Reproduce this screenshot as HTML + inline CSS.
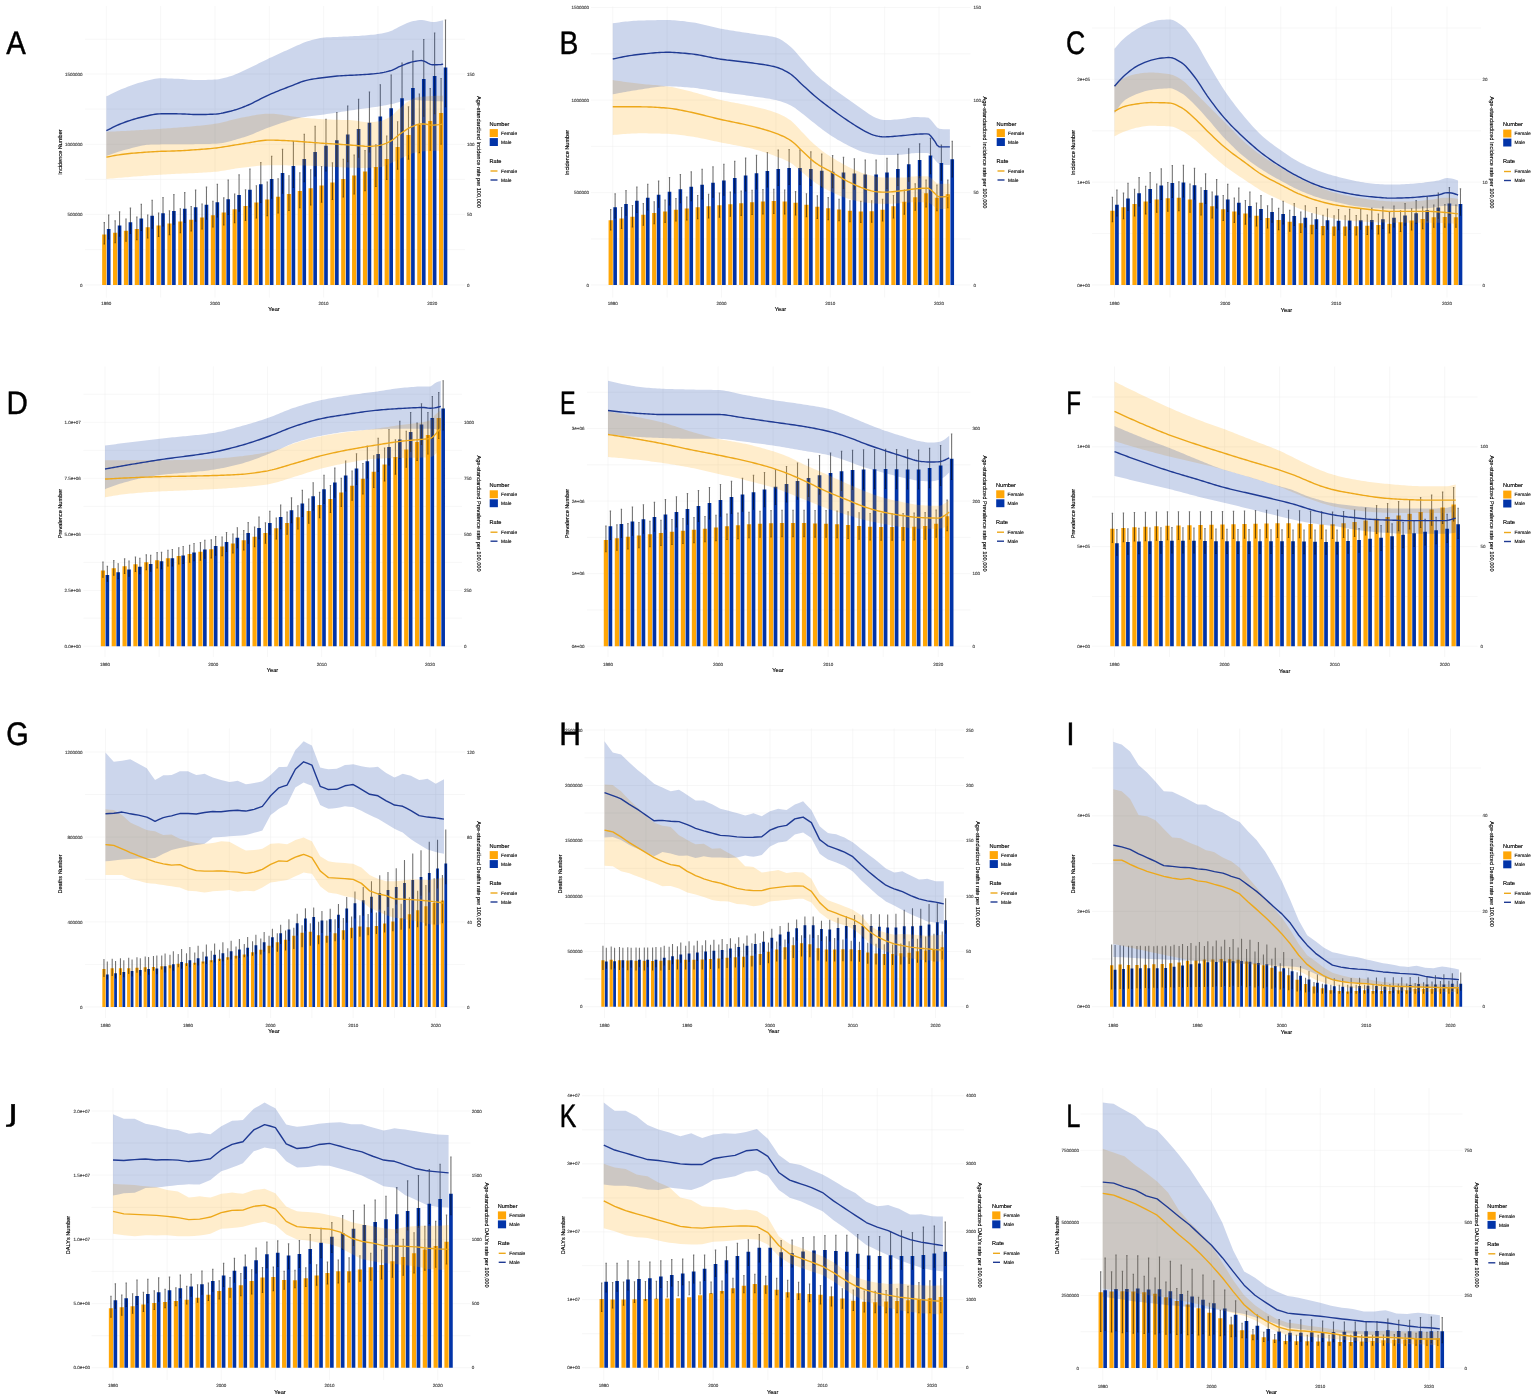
<!DOCTYPE html>
<html lang="en"><head><meta charset="utf-8"><title>Figure</title>
<style>html,body{margin:0;padding:0;background:#fff}body{width:1535px;height:1400px;overflow:hidden}svg{display:block}</style></head>
<body>
<svg width="1535" height="1400" viewBox="0 0 1535 1400" font-family='"Liberation Sans", Arial, sans-serif' text-rendering="geometricPrecision">
<!-- panel A -->
<g><g stroke="#efefef" stroke-width="0.5" fill="none"><line x1="85" x2="465" y1="284.94" y2="284.94"/><line x1="85" x2="465" y1="249.66" y2="249.66"/><line x1="85" x2="465" y1="214.39" y2="214.39"/><line x1="85" x2="465" y1="179.37" y2="179.37"/><line x1="85" x2="465" y1="144.34" y2="144.34"/><line x1="85" x2="465" y1="109.07" y2="109.07"/><line x1="85" x2="465" y1="74.05" y2="74.05"/><line x1="85" x2="465" y1="39.28" y2="39.28"/><line x1="106.34" x2="106.34" y1="6" y2="297.5"/><line x1="160.66" x2="160.66" y1="6" y2="297.5"/><line x1="214.98" x2="214.98" y1="6" y2="297.5"/><line x1="269.3" x2="269.3" y1="6" y2="297.5"/><line x1="323.63" x2="323.63" y1="6" y2="297.5"/><line x1="377.95" x2="377.95" y1="6" y2="297.5"/><line x1="432.27" x2="432.27" y1="6" y2="297.5"/></g>
<path d="M102.15 284.94h4.24V234.4h-4.24zM113.02 284.94h4.24V232.65h-4.24zM123.88 284.94h4.24V230.65h-4.24zM134.75 284.94h4.24V228.9h-4.24zM145.61 284.94h4.24V227.15h-4.24zM156.48 284.94h4.24V225.4h-4.24zM167.34 284.94h4.24V223.4h-4.24zM178.2 284.94h4.24V221.39h-4.24zM189.07 284.94h4.24V219.64h-4.24zM199.93 284.94h4.24V217.39h-4.24zM210.8 284.94h4.24V215.14h-4.24zM221.66 284.94h4.24V212.39h-4.24zM232.53 284.94h4.24V209.14h-4.24zM243.39 284.94h4.24V205.88h-4.24zM254.26 284.94h4.24V202.38h-4.24zM265.12 284.94h4.24V199.38h-4.24zM275.99 284.94h4.24V196.63h-4.24zM286.85 284.94h4.24V193.88h-4.24zM297.72 284.94h4.24V191.12h-4.24zM308.58 284.94h4.24V188.37h-4.24zM319.44 284.94h4.24V185.62h-4.24zM330.31 284.94h4.24V182.62h-4.24zM341.17 284.94h4.24V179.12h-4.24zM352.04 284.94h4.24V175.61h-4.24zM362.9 284.94h4.24V171.61h-4.24zM373.77 284.94h4.24V167.11h-4.24zM384.63 284.94h4.24V159.1h-4.24zM395.5 284.94h4.24V147.1h-4.24zM406.36 284.94h4.24V135.09h-4.24zM417.23 284.94h4.24V125.08h-4.24zM428.09 284.94h4.24V121.08h-4.24zM438.95 284.94h4.24V113.07h-4.24z" fill="#FFA607"/>
<path d="M106.88 284.94h3.64V228.9h-3.64zM117.74 284.94h3.64V225.4h-3.64zM128.61 284.94h3.64V222.14h-3.64zM139.47 284.94h3.64V218.39h-3.64zM150.34 284.94h3.64V215.64h-3.64zM161.2 284.94h3.64V213.14h-3.64zM172.07 284.94h3.64V210.89h-3.64zM182.93 284.94h3.64V208.64h-3.64zM193.8 284.94h3.64V207.13h-3.64zM204.66 284.94h3.64V204.63h-3.64zM215.52 284.94h3.64V202.13h-3.64zM226.39 284.94h3.64V199.13h-3.64zM237.25 284.94h3.64V194.88h-3.64zM248.12 284.94h3.64V189.87h-3.64zM258.98 284.94h3.64V184.37h-3.64zM269.85 284.94h3.64V179.12h-3.64zM280.71 284.94h3.64V173.11h-3.64zM291.58 284.94h3.64V166.11h-3.64zM302.44 284.94h3.64V159.1h-3.64zM313.31 284.94h3.64V152.1h-3.64zM324.17 284.94h3.64V145.84h-3.64zM335.03 284.94h3.64V140.34h-3.64zM345.9 284.94h3.64V134.59h-3.64zM356.76 284.94h3.64V129.08h-3.64zM367.63 284.94h3.64V122.83h-3.64zM378.49 284.94h3.64V116.58h-3.64zM389.36 284.94h3.64V108.32h-3.64zM400.22 284.94h3.64V98.31h-3.64zM411.09 284.94h3.64V88.06h-3.64zM421.95 284.94h3.64V79.05h-3.64zM432.82 284.94h3.64V76.05h-3.64zM443.68 284.94h3.64V67.54h-3.64z" fill="#0234A8"/>
<path d="M104.27 222.64V243.91M103.58 222.64h1.39M103.58 243.91h1.39M115.14 220.92V242.6M114.44 220.92h1.39M114.44 242.6h1.39M126 219.05V241.16M125.31 219.05h1.39M125.31 241.16h1.39M136.87 217.09V239.63M136.17 217.09h1.39M136.17 239.63h1.39M147.73 215.06V238.03M147.04 215.06h1.39M147.04 238.03h1.39M158.59 212.96V236.34M157.9 212.96h1.39M157.9 236.34h1.39M169.46 210.84V234.59M168.77 210.84h1.39M168.77 234.59h1.39M180.32 208.69V232.77M179.63 208.69h1.39M179.63 232.77h1.39M191.19 206.43V230.89M190.5 206.43h1.39M190.5 230.89h1.39M202.05 203.97V228.95M201.36 203.97h1.39M201.36 228.95h1.39M212.92 201.22V226.96M212.22 201.22h1.39M212.22 226.96h1.39M223.78 197.92V224.89M223.09 197.92h1.39M223.09 224.89h1.39M234.65 194.02V222.71M233.95 194.02h1.39M233.95 222.71h1.39M245.51 189.85V220.42M244.82 189.85h1.39M244.82 220.42h1.39M256.38 185.72V218.05M255.68 185.72h1.39M255.68 218.05h1.39M267.24 181.97V215.58M266.55 181.97h1.39M266.55 215.58h1.39M278.1 178.72V213.03M277.41 178.72h1.39M277.41 213.03h1.39M288.97 175.75V210.42M288.28 175.75h1.39M288.28 210.42h1.39M299.83 172.85V207.73M299.14 172.85h1.39M299.14 207.73h1.39M310.7 169.82V204.99M310.01 169.82h1.39M310.01 204.99h1.39M321.56 166.45V202.2M320.87 166.45h1.39M320.87 202.2h1.39M332.43 162.88V199.5M331.73 162.88h1.39M331.73 199.5h1.39M343.29 159.21V196.86M342.6 159.21h1.39M342.6 196.86h1.39M354.16 155.17V194M353.46 155.17h1.39M353.46 194h1.39M365.02 150.44V190.63M364.33 150.44h1.39M364.33 190.63h1.39M375.89 144.73V186.47M375.19 144.73h1.39M375.19 186.47h1.39M386.75 135.97V179.33M386.06 135.97h1.39M386.06 179.33h1.39M397.61 121.7V169.14M396.92 121.7h1.39M396.92 169.14h1.39M408.48 106.84V159.17M407.79 106.84h1.39M407.79 159.17h1.39M419.34 94.03V152.7M418.65 94.03h1.39M418.65 152.7h1.39M430.21 88.59V150.24M429.52 88.59h1.39M429.52 150.24h1.39M441.07 78.45V144.1M440.38 78.45h1.39M440.38 144.1h1.39M108.69 215.14V238.99M108 215.14h1.39M108 238.99h1.39M119.56 211.89V236.11M118.87 211.89h1.39M118.87 236.11h1.39M130.42 208.14V233.45M129.73 208.14h1.39M129.73 233.45h1.39M141.29 204.38V230.37M140.59 204.38h1.39M140.59 230.37h1.39M152.15 200.38V228.11M151.46 200.38h1.39M151.46 228.11h1.39M163.02 197.63V226.06M162.32 197.63h1.39M162.32 226.06h1.39M173.88 194.63V224.22M173.19 194.63h1.39M173.19 224.22h1.39M184.75 192.63V222.37M184.05 192.63h1.39M184.05 222.37h1.39M195.61 190.12V221.14M194.92 190.12h1.39M194.92 221.14h1.39M206.47 187.12V219.09M205.78 187.12h1.39M205.78 219.09h1.39M217.34 184.37V217.04M216.65 184.37h1.39M216.65 217.04h1.39M228.2 180.12V214.57M227.51 180.12h1.39M227.51 214.57h1.39M239.07 174.86V211.09M238.38 174.86h1.39M238.38 211.09h1.39M249.93 169.11V206.98M249.24 169.11h1.39M249.24 206.98h1.39M260.8 162.61V202.47M260.1 162.61h1.39M260.1 202.47h1.39M271.66 156.35V198.16M270.97 156.35h1.39M270.97 198.16h1.39M282.53 149.35V193.24M281.83 149.35h1.39M281.83 193.24h1.39M293.39 141.59V187.5M292.7 141.59h1.39M292.7 187.5h1.39M304.26 134.34V181.75M303.56 134.34h1.39M303.56 181.75h1.39M315.12 126.33V176.01M314.43 126.33h1.39M314.43 176.01h1.39M325.98 119.33V170.88M325.29 119.33h1.39M325.29 170.88h1.39M336.85 112.57V166.37M336.16 112.57h1.39M336.16 166.37h1.39M347.71 106.07V161.65M347.02 106.07h1.39M347.02 161.65h1.39M358.58 99.31V157.14M357.89 99.31h1.39M357.89 157.14h1.39M369.44 92.06V152.01M368.75 92.06h1.39M368.75 152.01h1.39M380.31 84.81V146.88M379.61 84.81h1.39M379.61 146.88h1.39M391.17 75.05V140.11M390.48 75.05h1.39M390.48 140.11h1.39M402.04 63.04V131.91M401.34 63.04h1.39M401.34 131.91h1.39M412.9 51.03V123.5M412.21 51.03h1.39M412.21 123.5h1.39M423.77 39.53V116.11M423.07 39.53h1.39M423.07 116.11h1.39M434.63 33.02V113.65M433.94 33.02h1.39M433.94 113.65h1.39M445.5 20.01V106.67M444.8 20.01h1.39M444.8 106.67h1.39" stroke="#000" stroke-width="1.1" fill="none" opacity="0.55"/>
<path d="M106.34 131.7 L108.45 131.63 L110.57 131.55 L112.69 131.47 L114.81 131.38 L116.93 131.29 L119.05 131.2 L121.16 131.1 L123.28 131 L125.4 130.9 L127.52 130.79 L129.64 130.68 L131.75 130.57 L133.87 130.45 L135.99 130.34 L138.11 130.21 L140.23 130.09 L142.35 129.97 L144.46 129.84 L146.58 129.71 L148.7 129.57 L150.82 129.44 L152.94 129.3 L155.06 129.16 L157.17 129.02 L159.29 128.88 L161.41 128.74 L163.53 128.59 L165.65 128.45 L167.76 128.3 L169.88 128.15 L172 128 L174.12 127.85 L176.24 127.69 L178.36 127.53 L180.47 127.36 L182.59 127.19 L184.71 127.02 L186.83 126.84 L188.95 126.65 L191.07 126.46 L193.18 126.26 L195.3 126.06 L197.42 125.85 L199.54 125.63 L201.66 125.4 L203.78 125.16 L205.89 124.92 L208.01 124.67 L210.13 124.4 L212.25 124.13 L214.37 123.85 L216.48 123.53 L218.6 123.15 L220.72 122.71 L222.84 122.23 L224.96 121.72 L227.08 121.18 L229.19 120.62 L231.31 120.06 L233.43 119.51 L235.55 118.97 L237.67 118.46 L239.79 117.98 L241.9 117.55 L244.02 117.17 L246.14 116.79 L248.26 116.4 L250.38 115.99 L252.49 115.6 L254.61 115.22 L256.73 114.86 L258.85 114.53 L260.97 114.25 L263.09 114.01 L265.2 113.84 L267.32 113.73 L269.44 113.7 L271.56 113.75 L273.68 113.87 L275.8 114.04 L277.91 114.27 L280.03 114.53 L282.15 114.83 L284.27 115.15 L286.39 115.49 L288.51 115.84 L290.62 116.18 L292.74 116.51 L294.86 116.82 L296.98 117.1 L299.1 117.34 L301.21 117.55 L303.33 117.73 L305.45 117.91 L307.57 118.09 L309.69 118.26 L311.81 118.43 L313.92 118.59 L316.04 118.75 L318.16 118.9 L320.28 119.04 L322.4 119.17 L324.52 119.29 L326.63 119.4 L328.75 119.5 L330.87 119.59 L332.99 119.67 L335.11 119.73 L337.22 119.79 L339.34 119.83 L341.46 119.88 L343.58 119.92 L345.7 119.97 L347.82 120.04 L349.93 120.11 L352.05 120.2 L354.17 120.38 L356.29 120.67 L358.41 121.03 L360.53 121.41 L362.64 121.75 L364.76 122.03 L366.88 122.18 L369 122.19 L371.12 122.1 L373.24 121.95 L375.35 121.75 L377.47 121.5 L379.59 121.21 L381.71 120.71 L383.83 119.99 L385.94 119.09 L388.06 118.07 L390.18 116.84 L392.3 115.17 L394.42 113.23 L396.54 111.21 L398.65 109.29 L400.77 107.48 L402.89 105.59 L405.01 103.74 L407.13 102.07 L409.25 100.69 L411.36 99.55 L413.48 98.53 L415.6 97.76 L417.72 97.32 L419.84 97 L421.95 96.76 L424.07 96.57 L426.19 96.41 L428.31 96.26 L430.43 96.12 L432.55 95.99 L434.66 95.87 L436.78 95.76 L438.9 95.68 L441.02 95.63 L443.14 95.6 L443.14 150.7 L441.02 150.71 L438.9 150.74 L436.78 150.78 L434.66 150.83 L432.55 150.89 L430.43 150.97 L428.31 151.05 L426.19 151.14 L424.07 151.26 L421.95 151.47 L419.84 151.78 L417.72 152.16 L415.6 152.6 L413.48 153.11 L411.36 153.81 L409.25 154.67 L407.13 155.62 L405.01 156.62 L402.89 157.61 L400.77 158.55 L398.65 159.54 L396.54 160.57 L394.42 161.61 L392.3 162.61 L390.18 163.55 L388.06 164.41 L385.94 165.32 L383.83 166.22 L381.71 166.95 L379.59 167.37 L377.47 167.5 L375.35 167.6 L373.24 167.69 L371.12 167.77 L369 167.82 L366.88 167.87 L364.76 167.89 L362.64 167.9 L360.53 167.89 L358.41 167.87 L356.29 167.84 L354.17 167.79 L352.05 167.74 L349.93 167.67 L347.82 167.59 L345.7 167.51 L343.58 167.41 L341.46 167.32 L339.34 167.21 L337.22 167.1 L335.11 166.99 L332.99 166.88 L330.87 166.76 L328.75 166.64 L326.63 166.53 L324.52 166.41 L322.4 166.3 L320.28 166.19 L318.16 166.08 L316.04 165.98 L313.92 165.89 L311.81 165.8 L309.69 165.73 L307.57 165.66 L305.45 165.6 L303.33 165.55 L301.21 165.51 L299.1 165.49 L296.98 165.47 L294.86 165.45 L292.74 165.43 L290.62 165.41 L288.51 165.39 L286.39 165.37 L284.27 165.36 L282.15 165.34 L280.03 165.33 L277.91 165.32 L275.8 165.31 L273.68 165.31 L271.56 165.3 L269.44 165.3 L267.32 165.32 L265.2 165.38 L263.09 165.48 L260.97 165.62 L258.85 165.8 L256.73 165.99 L254.61 166.21 L252.49 166.44 L250.38 166.69 L248.26 166.94 L246.14 167.18 L244.02 167.42 L241.9 167.66 L239.79 167.94 L237.67 168.26 L235.55 168.6 L233.43 168.96 L231.31 169.33 L229.19 169.71 L227.08 170.08 L224.96 170.44 L222.84 170.79 L220.72 171.11 L218.6 171.39 L216.48 171.63 L214.37 171.83 L212.25 172 L210.13 172.15 L208.01 172.3 L205.89 172.44 L203.78 172.57 L201.66 172.69 L199.54 172.81 L197.42 172.92 L195.3 173.03 L193.18 173.13 L191.07 173.23 L188.95 173.32 L186.83 173.41 L184.71 173.5 L182.59 173.59 L180.47 173.69 L178.36 173.78 L176.24 173.87 L174.12 173.97 L172 174.07 L169.88 174.17 L167.76 174.28 L165.65 174.39 L163.53 174.51 L161.41 174.64 L159.29 174.78 L157.17 174.92 L155.06 175.06 L152.94 175.2 L150.82 175.35 L148.7 175.5 L146.58 175.65 L144.46 175.81 L142.35 175.97 L140.23 176.13 L138.11 176.29 L135.99 176.46 L133.87 176.62 L131.75 176.79 L129.64 176.97 L127.52 177.14 L125.4 177.32 L123.28 177.5 L121.16 177.68 L119.05 177.86 L116.93 178.05 L114.81 178.24 L112.69 178.43 L110.57 178.62 L108.45 178.81 L106.34 179z" fill="#FFA500" fill-opacity="0.2"/>
<path d="M106.34 96.31 L108.45 95.42 L110.57 94.33 L112.69 93.27 L114.81 92.24 L116.93 91.24 L119.05 90.29 L121.16 89.37 L123.28 88.5 L125.4 87.64 L127.52 86.79 L129.64 85.97 L131.75 85.18 L133.87 84.44 L135.99 83.73 L138.11 83.09 L140.23 82.5 L142.35 81.93 L144.46 81.34 L146.58 80.75 L148.7 80.18 L150.82 79.65 L152.94 79.18 L155.06 78.8 L157.17 78.51 L159.29 78.34 L161.41 78.3 L163.53 78.32 L165.65 78.36 L167.76 78.42 L169.88 78.49 L172 78.57 L174.12 78.66 L176.24 78.75 L178.36 78.84 L180.47 78.96 L182.59 79.11 L184.71 79.28 L186.83 79.46 L188.95 79.64 L191.07 79.8 L193.18 79.93 L195.3 80.02 L197.42 80.05 L199.54 80.04 L201.66 80.02 L203.78 79.98 L205.89 79.93 L208.01 79.86 L210.13 79.78 L212.25 79.69 L214.37 79.59 L216.48 79.45 L218.6 79.17 L220.72 78.78 L222.84 78.3 L224.96 77.75 L227.08 77.16 L229.19 76.56 L231.31 75.93 L233.43 75.19 L235.55 74.36 L237.67 73.45 L239.79 72.49 L241.9 71.51 L244.02 70.53 L246.14 69.58 L248.26 68.59 L250.38 67.58 L252.49 66.54 L254.61 65.49 L256.73 64.43 L258.85 63.35 L260.97 62.28 L263.09 61.22 L265.2 60.17 L267.32 59.13 L269.44 58.12 L271.56 57.13 L273.68 56.15 L275.8 55.18 L277.91 54.22 L280.03 53.26 L282.15 52.31 L284.27 51.37 L286.39 50.43 L288.51 49.5 L290.62 48.56 L292.74 47.6 L294.86 46.61 L296.98 45.61 L299.1 44.63 L301.21 43.68 L303.33 42.8 L305.45 42 L307.57 41.3 L309.69 40.66 L311.81 40.04 L313.92 39.44 L316.04 38.88 L318.16 38.39 L320.28 37.98 L322.4 37.67 L324.52 37.48 L326.63 37.34 L328.75 37.23 L330.87 37.14 L332.99 37.05 L335.11 36.98 L337.22 36.9 L339.34 36.81 L341.46 36.71 L343.58 36.62 L345.7 36.52 L347.82 36.43 L349.93 36.33 L352.05 36.23 L354.17 36.12 L356.29 36.01 L358.41 35.89 L360.53 35.75 L362.64 35.6 L364.76 35.44 L366.88 35.27 L369 35.08 L371.12 34.87 L373.24 34.65 L375.35 34.4 L377.47 34.12 L379.59 33.81 L381.71 33.44 L383.83 33 L385.94 32.49 L388.06 31.91 L390.18 31.27 L392.3 30.44 L394.42 29.36 L396.54 28.18 L398.65 27.02 L400.77 26.01 L402.89 25.03 L405.01 24.04 L407.13 23.1 L409.25 22.26 L411.36 21.59 L413.48 21.1 L415.6 20.68 L417.72 20.32 L419.84 20.08 L421.95 20.02 L424.07 20.29 L426.19 20.77 L428.31 21.33 L430.43 21.8 L432.55 22.01 L434.66 21.95 L436.78 21.72 L438.9 21.34 L441.02 20.81 L443.14 20.14 L443.14 101.47 L441.02 101.37 L438.9 101.27 L436.78 101.17 L434.66 101.06 L432.55 100.96 L430.43 100.86 L428.31 100.76 L426.19 100.66 L424.07 100.55 L421.95 100.42 L419.84 100.29 L417.72 100.17 L415.6 100.11 L413.48 100.11 L411.36 100.2 L409.25 100.35 L407.13 100.55 L405.01 100.78 L402.89 101.07 L400.77 101.56 L398.65 102.19 L396.54 102.86 L394.42 103.45 L392.3 103.93 L390.18 104.37 L388.06 104.79 L385.94 105.19 L383.83 105.58 L381.71 105.95 L379.59 106.3 L377.47 106.65 L375.35 106.97 L373.24 107.29 L371.12 107.59 L369 107.88 L366.88 108.17 L364.76 108.45 L362.64 108.74 L360.53 109.02 L358.41 109.3 L356.29 109.59 L354.17 109.89 L352.05 110.19 L349.93 110.51 L347.82 110.83 L345.7 111.15 L343.58 111.48 L341.46 111.82 L339.34 112.15 L337.22 112.48 L335.11 112.82 L332.99 113.15 L330.87 113.47 L328.75 113.79 L326.63 114.11 L324.52 114.41 L322.4 114.7 L320.28 114.97 L318.16 115.23 L316.04 115.49 L313.92 115.74 L311.81 116.01 L309.69 116.29 L307.57 116.58 L305.45 116.89 L303.33 117.23 L301.21 117.6 L299.1 118.02 L296.98 118.48 L294.86 119 L292.74 119.56 L290.62 120.16 L288.51 120.79 L286.39 121.45 L284.27 122.14 L282.15 122.85 L280.03 123.58 L277.91 124.31 L275.8 125.06 L273.68 125.8 L271.56 126.55 L269.44 127.28 L267.32 128.03 L265.2 128.84 L263.09 129.69 L260.97 130.57 L258.85 131.46 L256.73 132.36 L254.61 133.26 L252.49 134.13 L250.38 134.98 L248.26 135.78 L246.14 136.52 L244.02 137.19 L241.9 137.8 L239.79 138.43 L237.67 139.06 L235.55 139.69 L233.43 140.31 L231.31 140.91 L229.19 141.47 L227.08 142 L224.96 142.48 L222.84 142.9 L220.72 143.25 L218.6 143.53 L216.48 143.72 L214.37 143.81 L212.25 143.86 L210.13 143.91 L208.01 143.95 L205.89 143.99 L203.78 144.02 L201.66 144.05 L199.54 144.07 L197.42 144.09 L195.3 144.11 L193.18 144.13 L191.07 144.14 L188.95 144.16 L186.83 144.17 L184.71 144.18 L182.59 144.19 L180.47 144.2 L178.36 144.21 L176.24 144.23 L174.12 144.24 L172 144.25 L169.88 144.27 L167.76 144.29 L165.65 144.31 L163.53 144.34 L161.41 144.37 L159.29 144.4 L157.17 144.44 L155.06 144.48 L152.94 144.53 L150.82 144.58 L148.7 144.66 L146.58 144.85 L144.46 145.14 L142.35 145.52 L140.23 145.96 L138.11 146.46 L135.99 147 L133.87 147.56 L131.75 148.12 L129.64 148.67 L127.52 149.2 L125.4 149.75 L123.28 150.34 L121.16 150.96 L119.05 151.61 L116.93 152.29 L114.81 152.99 L112.69 153.71 L110.57 154.46 L108.45 155.23 L106.34 156z" fill="#0033A0" fill-opacity="0.2"/>
<path d="M106.34 157.1 L108.45 156.75 L110.57 156.33 L112.69 155.92 L114.81 155.53 L116.93 155.17 L119.05 154.84 L121.16 154.53 L123.28 154.25 L125.4 154 L127.52 153.76 L129.64 153.53 L131.75 153.31 L133.87 153.11 L135.99 152.93 L138.11 152.75 L140.23 152.58 L142.35 152.43 L144.46 152.27 L146.58 152.13 L148.7 151.99 L150.82 151.86 L152.94 151.73 L155.06 151.61 L157.17 151.51 L159.29 151.41 L161.41 151.32 L163.53 151.25 L165.65 151.19 L167.76 151.13 L169.88 151.08 L172 151.03 L174.12 150.97 L176.24 150.9 L178.36 150.82 L180.47 150.72 L182.59 150.61 L184.71 150.48 L186.83 150.35 L188.95 150.21 L191.07 150.07 L193.18 149.92 L195.3 149.76 L197.42 149.61 L199.54 149.45 L201.66 149.3 L203.78 149.13 L205.89 148.96 L208.01 148.79 L210.13 148.6 L212.25 148.39 L214.37 148.17 L216.48 147.93 L218.6 147.66 L220.72 147.35 L222.84 147.02 L224.96 146.68 L227.08 146.33 L229.19 145.99 L231.31 145.65 L233.43 145.3 L235.55 144.93 L237.67 144.57 L239.79 144.2 L241.9 143.85 L244.02 143.51 L246.14 143.18 L248.26 142.84 L250.38 142.47 L252.49 142.1 L254.61 141.72 L256.73 141.36 L258.85 141.03 L260.97 140.73 L263.09 140.47 L265.2 140.27 L267.32 140.14 L269.44 140.09 L271.56 140.1 L273.68 140.14 L275.8 140.19 L277.91 140.26 L280.03 140.35 L282.15 140.44 L284.27 140.55 L286.39 140.65 L288.51 140.76 L290.62 140.87 L292.74 140.98 L294.86 141.12 L296.98 141.27 L299.1 141.43 L301.21 141.59 L303.33 141.76 L305.45 141.93 L307.57 142.09 L309.69 142.25 L311.81 142.41 L313.92 142.58 L316.04 142.75 L318.16 142.92 L320.28 143.08 L322.4 143.24 L324.52 143.38 L326.63 143.52 L328.75 143.65 L330.87 143.78 L332.99 143.9 L335.11 144.03 L337.22 144.15 L339.34 144.29 L341.46 144.43 L343.58 144.58 L345.7 144.74 L347.82 144.9 L349.93 145.07 L352.05 145.24 L354.17 145.4 L356.29 145.56 L358.41 145.72 L360.53 145.87 L362.64 146.05 L364.76 146.23 L366.88 146.33 L369 146.33 L371.12 146.25 L373.24 146.1 L375.35 145.91 L377.47 145.68 L379.59 145.38 L381.71 144.86 L383.83 144.16 L385.94 143.31 L388.06 142.36 L390.18 141.35 L392.3 140.08 L394.42 138.46 L396.54 136.69 L398.65 134.96 L400.77 133.45 L402.89 132.01 L405.01 130.58 L407.13 129.21 L409.25 127.96 L411.36 126.89 L413.48 126.03 L415.6 125.2 L417.72 124.47 L419.84 123.96 L421.95 123.84 L424.07 124 L426.19 124.31 L428.31 124.66 L430.43 124.95 L432.55 125.08 L434.66 125.04 L436.78 124.9 L438.9 124.66 L441.02 124.33 L443.14 123.91" stroke="#EDA81A" stroke-width="1.4" fill="none" stroke-linejoin="round"/>
<path d="M106.34 130.59 L108.45 129.66 L110.57 128.53 L112.69 127.45 L114.81 126.41 L116.93 125.42 L119.05 124.49 L121.16 123.61 L123.28 122.79 L125.4 122.01 L127.52 121.26 L129.64 120.54 L131.75 119.85 L133.87 119.21 L135.99 118.6 L138.11 118.04 L140.23 117.53 L142.35 117.02 L144.46 116.5 L146.58 115.98 L148.7 115.48 L150.82 115.01 L152.94 114.6 L155.06 114.26 L157.17 114.01 L159.29 113.86 L161.41 113.82 L163.53 113.82 L165.65 113.82 L167.76 113.82 L169.88 113.82 L172 113.82 L174.12 113.82 L176.24 113.82 L178.36 113.83 L180.47 113.87 L182.59 113.94 L184.71 114.04 L186.83 114.16 L188.95 114.28 L191.07 114.39 L193.18 114.48 L195.3 114.55 L197.42 114.57 L199.54 114.57 L201.66 114.54 L203.78 114.5 L205.89 114.45 L208.01 114.38 L210.13 114.3 L212.25 114.21 L214.37 114.11 L216.48 113.98 L218.6 113.74 L220.72 113.4 L222.84 113 L224.96 112.54 L227.08 112.04 L229.19 111.54 L231.31 111.02 L233.43 110.44 L235.55 109.79 L237.67 109.08 L239.79 108.33 L241.9 107.54 L244.02 106.74 L246.14 105.91 L248.26 105.01 L250.38 104.05 L252.49 103.04 L254.61 101.99 L256.73 100.91 L258.85 99.82 L260.97 98.73 L263.09 97.66 L265.2 96.61 L267.32 95.6 L269.44 94.64 L271.56 93.72 L273.68 92.82 L275.8 91.94 L277.91 91.07 L280.03 90.22 L282.15 89.38 L284.27 88.55 L286.39 87.73 L288.51 86.92 L290.62 86.12 L292.74 85.29 L294.86 84.43 L296.98 83.57 L299.1 82.74 L301.21 81.95 L303.33 81.22 L305.45 80.59 L307.57 80.07 L309.69 79.64 L311.81 79.25 L313.92 78.9 L316.04 78.58 L318.16 78.29 L320.28 78.01 L322.4 77.74 L324.52 77.47 L326.63 77.21 L328.75 76.94 L330.87 76.69 L332.99 76.45 L335.11 76.23 L337.22 76.03 L339.34 75.86 L341.46 75.71 L343.58 75.59 L345.7 75.48 L347.82 75.38 L349.93 75.29 L352.05 75.2 L354.17 75.11 L356.29 75.01 L358.41 74.9 L360.53 74.78 L362.64 74.64 L364.76 74.5 L366.88 74.36 L369 74.2 L371.12 74.02 L373.24 73.83 L375.35 73.62 L377.47 73.38 L379.59 73.11 L381.71 72.77 L383.83 72.37 L385.94 71.91 L388.06 71.38 L390.18 70.8 L392.3 70.04 L394.42 69.07 L396.54 68.01 L398.65 66.97 L400.77 66.06 L402.89 65.18 L405.01 64.3 L407.13 63.47 L409.25 62.72 L411.36 62.1 L413.48 61.63 L415.6 61.21 L417.72 60.85 L419.84 60.6 L421.95 60.56 L424.07 61.12 L426.19 62.16 L428.31 63.34 L430.43 64.33 L432.55 64.79 L434.66 64.79 L436.78 64.75 L438.9 64.65 L441.02 64.45 L443.14 64.11" stroke="#1F3A93" stroke-width="1.4" fill="none" stroke-linejoin="round"/>
<g font-size="4.5" fill="#3a3a3a" stroke="#3a3a3a" stroke-width="0.12"><text x="82.5" y="286.56" text-anchor="end">0</text><text x="82.5" y="216.01" text-anchor="end">500000</text><text x="82.5" y="145.96" text-anchor="end">1000000</text><text x="82.5" y="75.67" text-anchor="end">1500000</text><text x="467" y="286.56">0</text><text x="467" y="216.01">50</text><text x="467" y="145.96">100</text><text x="467" y="75.67">150</text><text x="106.34" y="304.5" text-anchor="middle">1990</text><text x="214.98" y="304.5" text-anchor="middle">2000</text><text x="323.63" y="304.5" text-anchor="middle">2010</text><text x="432.27" y="304.5" text-anchor="middle">2020</text></g>
<g stroke="#000" stroke-width="0.14">
<text x="274" y="311" font-size="5.6" text-anchor="middle" fill="#000" font-weight="normal">Year</text>
<text transform="translate(62 152) rotate(-90)" font-size="5.6" text-anchor="middle" fill="#000">Incidence Number</text>
<text transform="translate(476.5 152) rotate(90)" font-size="5.6" text-anchor="middle" fill="#000">Age-standardized Incidence rate per 100,000</text>
<text x="489.5" y="125.5" font-size="5.6" fill="#000">Number</text>
<rect x="489.7" y="129.1" width="8.2" height="7.8999999999999995" fill="#FFA607" stroke="none"/>
<rect x="489.7" y="138.1" width="8.2" height="7.8999999999999995" fill="#0234A8" stroke="none"/>
<text x="501.1" y="134.8" font-size="4.8" fill="#111">Female</text>
<text x="501.1" y="143.9" font-size="4.8" fill="#111">Male</text>
<text x="489.5" y="162.9" font-size="5.6" fill="#000">Rate</text>
<line x1="490.5" x2="497.5" y1="171" y2="171" stroke="#EDA81A" stroke-width="1.4"/>
<line x1="490.5" x2="497.5" y1="180" y2="180" stroke="#1F3A93" stroke-width="1.4"/>
<text x="501.1" y="172.7" font-size="4.8" fill="#111">Female</text>
<text x="501.1" y="181.7" font-size="4.8" fill="#111">Male</text>
</g>
<text transform="translate(6.37 54.07) scale(0.9010 1)" font-size="32.56" fill="#000" stroke="#000" stroke-width="0.45" stroke-linejoin="round">A</text></g>
<!-- panel B -->
<g><g stroke="#efefef" stroke-width="0.5" fill="none"><line x1="591" x2="970.5" y1="284.94" y2="284.94"/><line x1="591" x2="970.5" y1="238.91" y2="238.91"/><line x1="591" x2="970.5" y1="192.63" y2="192.63"/><line x1="591" x2="970.5" y1="146.35" y2="146.35"/><line x1="591" x2="970.5" y1="100.07" y2="100.07"/><line x1="591" x2="970.5" y1="53.79" y2="53.79"/><line x1="591" x2="970.5" y1="7.5" y2="7.5"/><line x1="612.76" x2="612.76" y1="6.5" y2="297.5"/><line x1="667.14" x2="667.14" y1="6.5" y2="297.5"/><line x1="721.51" x2="721.51" y1="6.5" y2="297.5"/><line x1="775.88" x2="775.88" y1="6.5" y2="297.5"/><line x1="830.26" x2="830.26" y1="6.5" y2="297.5"/><line x1="884.63" x2="884.63" y1="6.5" y2="297.5"/><line x1="939" x2="939" y1="6.5" y2="297.5"/></g>
<path d="M608.58 284.94h4.24V220.14h-4.24zM619.45 284.94h4.24V218.39h-4.24zM630.33 284.94h4.24V216.64h-4.24zM641.2 284.94h4.24V214.64h-4.24zM652.08 284.94h4.24V212.89h-4.24zM662.95 284.94h4.24V211.39h-4.24zM673.83 284.94h4.24V209.64h-4.24zM684.7 284.94h4.24V208.39h-4.24zM695.57 284.94h4.24V207.13h-4.24zM706.45 284.94h4.24V206.13h-4.24zM717.32 284.94h4.24V205.13h-4.24zM728.2 284.94h4.24V204.13h-4.24zM739.07 284.94h4.24V203.13h-4.24zM749.95 284.94h4.24V202.13h-4.24zM760.82 284.94h4.24V201.38h-4.24zM771.7 284.94h4.24V200.88h-4.24zM782.57 284.94h4.24V201.38h-4.24zM793.45 284.94h4.24V202.63h-4.24zM804.32 284.94h4.24V204.63h-4.24zM815.2 284.94h4.24V206.63h-4.24zM826.07 284.94h4.24V208.14h-4.24zM836.94 284.94h4.24V209.39h-4.24zM847.82 284.94h4.24V210.64h-4.24zM858.69 284.94h4.24V211.39h-4.24zM869.57 284.94h4.24V211.14h-4.24zM880.44 284.94h4.24V209.64h-4.24zM891.32 284.94h4.24V206.13h-4.24zM902.19 284.94h4.24V201.63h-4.24zM913.07 284.94h4.24V197.13h-4.24zM923.94 284.94h4.24V193.13h-4.24zM934.82 284.94h4.24V197.63h-4.24zM945.69 284.94h4.24V194.13h-4.24z" fill="#FFA607"/>
<path d="M613.31 284.94h3.64V207.13h-3.64zM624.18 284.94h3.64V203.88h-3.64zM635.06 284.94h3.64V200.63h-3.64zM645.93 284.94h3.64V197.63h-3.64zM656.81 284.94h3.64V194.63h-3.64zM667.68 284.94h3.64V191.87h-3.64zM678.56 284.94h3.64V189.37h-3.64zM689.43 284.94h3.64V186.87h-3.64zM700.31 284.94h3.64V184.87h-3.64zM711.18 284.94h3.64V182.87h-3.64zM722.05 284.94h3.64V180.62h-3.64zM732.93 284.94h3.64V178.12h-3.64zM743.8 284.94h3.64V175.61h-3.64zM754.68 284.94h3.64V173.36h-3.64zM765.55 284.94h3.64V171.11h-3.64zM776.43 284.94h3.64V169.11h-3.64zM787.3 284.94h3.64V168.11h-3.64zM798.18 284.94h3.64V168.11h-3.64zM809.05 284.94h3.64V169.11h-3.64zM819.93 284.94h3.64V170.86h-3.64zM830.8 284.94h3.64V171.86h-3.64zM841.67 284.94h3.64V172.61h-3.64zM852.55 284.94h3.64V173.61h-3.64zM863.42 284.94h3.64V174.61h-3.64zM874.3 284.94h3.64V174.61h-3.64zM885.17 284.94h3.64V172.61h-3.64zM896.05 284.94h3.64V169.11h-3.64zM906.92 284.94h3.64V164.36h-3.64zM917.8 284.94h3.64V160.1h-3.64zM928.67 284.94h3.64V155.6h-3.64zM939.55 284.94h3.64V163.11h-3.64zM950.42 284.94h3.64V159.35h-3.64z" fill="#0234A8"/>
<path d="M610.7 209.64V229.86M610.01 209.64h1.39M610.01 229.86h1.39M621.57 207.53V228.37M620.88 207.53h1.39M620.88 228.37h1.39M632.45 205.52V226.89M631.75 205.52h1.39M631.75 226.89h1.39M643.32 203.61V225.18M642.63 203.61h1.39M642.63 225.18h1.39M654.2 201.81V223.7M653.5 201.81h1.39M653.5 223.7h1.39M665.07 200.13V222.42M664.38 200.13h1.39M664.38 222.42h1.39M675.95 198.53V220.93M675.25 198.53h1.39M675.25 220.93h1.39M686.82 196.97V219.87M686.13 196.97h1.39M686.13 219.87h1.39M697.7 195.52V218.8M697 195.52h1.39M697 218.8h1.39M708.57 194.22V217.95M707.88 194.22h1.39M707.88 217.95h1.39M719.44 193.13V217.1M718.75 193.13h1.39M718.75 217.1h1.39M730.32 192.11V216.25M729.63 192.11h1.39M729.63 216.25h1.39M741.19 191.1V215.4M740.5 191.1h1.39M740.5 215.4h1.39M752.07 190.22V214.55M751.37 190.22h1.39M751.37 214.55h1.39M762.94 189.61V213.91M762.25 189.61h1.39M762.25 213.91h1.39M773.82 189.37V213.49M773.12 189.37h1.39M773.12 213.49h1.39M784.69 190.01V213.91M784 190.01h1.39M784 213.91h1.39M795.57 191.6V214.98M794.87 191.6h1.39M794.87 214.98h1.39M806.44 193.71V216.68M805.75 193.71h1.39M805.75 216.68h1.39M817.32 195.87V218.38M816.62 195.87h1.39M816.62 218.38h1.39M828.19 197.63V219.66M827.5 197.63h1.39M827.5 219.66h1.39M839.06 199.23V220.72M838.37 199.23h1.39M838.37 220.72h1.39M849.94 200.72V221.78M849.25 200.72h1.39M849.25 221.78h1.39M860.81 201.38V222.42M860.12 201.38h1.39M860.12 222.42h1.39M871.69 200.79V222.21M871 200.79h1.39M871 222.21h1.39M882.56 199.38V220.93M881.87 199.38h1.39M881.87 220.93h1.39M893.44 195.55V217.95M892.74 195.55h1.39M892.74 217.95h1.39M904.31 190.12V214.13M903.62 190.12h1.39M903.62 214.13h1.39M915.19 183.92V210.3M914.49 183.92h1.39M914.49 210.3h1.39M926.06 180.12V206.9M925.37 180.12h1.39M925.37 206.9h1.39M936.94 185.12V210.72M936.24 185.12h1.39M936.24 210.72h1.39M947.81 180.12V207.75M947.12 180.12h1.39M947.12 207.75h1.39M615.12 193.88V218.03M614.43 193.88h1.39M614.43 218.03h1.39M626 190.62V215.23M625.31 190.62h1.39M625.31 215.23h1.39M636.87 187.12V212.43M636.18 187.12h1.39M636.18 212.43h1.39M647.75 184.37V209.85M647.06 184.37h1.39M647.06 209.85h1.39M658.62 181.12V207.27M657.93 181.12h1.39M657.93 207.27h1.39M669.5 177.62V204.9M668.8 177.62h1.39M668.8 204.9h1.39M680.37 174.61V202.75M679.68 174.61h1.39M679.68 202.75h1.39M691.25 171.86V200.6M690.55 171.86h1.39M690.55 200.6h1.39M702.12 169.36V198.88M701.43 169.36h1.39M701.43 198.88h1.39M713 166.86V197.16M712.3 166.86h1.39M712.3 197.16h1.39M723.87 164.36V195.22M723.18 164.36h1.39M723.18 195.22h1.39M734.74 161.36V193.07M734.05 161.36h1.39M734.05 193.07h1.39M745.62 158.1V190.92M744.93 158.1h1.39M744.93 190.92h1.39M756.49 155.35V188.98M755.8 155.35h1.39M755.8 188.98h1.39M767.37 152.6V187.05M766.68 152.6h1.39M766.68 187.05h1.39M778.24 150.1V185.33M777.55 150.1h1.39M777.55 185.33h1.39M789.12 149.6V184.47M788.42 149.6h1.39M788.42 184.47h1.39M799.99 150.1V184.47M799.3 150.1h1.39M799.3 184.47h1.39M810.87 151.85V185.33M810.17 151.85h1.39M810.17 185.33h1.39M821.74 154.1V186.83M821.05 154.1h1.39M821.05 186.83h1.39M832.62 155.6V187.69M831.92 155.6h1.39M831.92 187.69h1.39M843.49 157.35V188.34M842.8 157.35h1.39M842.8 188.34h1.39M854.37 158.85V189.2M853.67 158.85h1.39M853.67 189.2h1.39M865.24 160.1V190.06M864.55 160.1h1.39M864.55 190.06h1.39M876.11 160.1V190.06M875.42 160.1h1.39M875.42 190.06h1.39M886.99 158.35V188.34M886.3 158.35h1.39M886.3 188.34h1.39M897.86 154.35V185.33M897.17 154.35h1.39M897.17 185.33h1.39M908.74 148.85V181.24M908.05 148.85h1.39M908.05 181.24h1.39M919.61 143.84V177.58M918.92 143.84h1.39M918.92 177.58h1.39M930.49 138.34V173.71M929.79 138.34h1.39M929.79 173.71h1.39M941.36 145.09V180.16M940.67 145.09h1.39M940.67 180.16h1.39M952.24 141.34V176.94M951.54 141.34h1.39M951.54 176.94h1.39" stroke="#000" stroke-width="1.1" fill="none" opacity="0.55"/>
<path d="M612.76 80.05 L614.89 80.39 L617.01 80.72 L619.13 81.04 L621.25 81.36 L623.37 81.67 L625.49 81.97 L627.61 82.26 L629.73 82.55 L631.85 82.82 L633.97 83.09 L636.09 83.35 L638.21 83.6 L640.33 83.84 L642.45 84.06 L644.57 84.26 L646.69 84.44 L648.81 84.61 L650.93 84.78 L653.05 84.95 L655.17 85.11 L657.29 85.29 L659.41 85.47 L661.53 85.68 L663.65 85.9 L665.77 86.14 L667.89 86.42 L670.01 86.75 L672.13 87.12 L674.25 87.54 L676.37 87.99 L678.49 88.47 L680.61 88.97 L682.73 89.49 L684.85 90.02 L686.97 90.55 L689.09 91.07 L691.21 91.59 L693.33 92.14 L695.45 92.72 L697.57 93.32 L699.69 93.93 L701.81 94.56 L703.93 95.19 L706.05 95.83 L708.17 96.47 L710.29 97.1 L712.41 97.71 L714.53 98.31 L716.65 98.89 L718.77 99.44 L720.9 99.96 L723.02 100.45 L725.14 100.91 L727.26 101.35 L729.38 101.77 L731.5 102.18 L733.62 102.58 L735.74 102.97 L737.86 103.36 L739.98 103.76 L742.1 104.15 L744.22 104.56 L746.34 104.97 L748.46 105.41 L750.58 105.86 L752.7 106.34 L754.82 106.83 L756.94 107.31 L759.06 107.8 L761.18 108.3 L763.3 108.82 L765.42 109.36 L767.54 109.93 L769.66 110.54 L771.78 111.18 L773.9 111.88 L776.02 112.63 L778.14 113.46 L780.26 114.39 L782.38 115.42 L784.5 116.55 L786.62 117.79 L788.74 119.14 L790.86 120.61 L792.98 122.41 L795.1 124.5 L797.22 126.76 L799.34 129.09 L801.46 131.38 L803.58 133.54 L805.7 135.73 L807.82 137.95 L809.94 140.14 L812.06 142.26 L814.18 144.25 L816.3 146.08 L818.42 147.83 L820.54 149.52 L822.66 151.14 L824.78 152.69 L826.91 154.18 L829.03 155.61 L831.15 156.99 L833.27 158.32 L835.39 159.62 L837.51 160.89 L839.63 162.12 L841.75 163.32 L843.87 164.47 L845.99 165.59 L848.11 166.67 L850.23 167.71 L852.35 168.71 L854.47 169.68 L856.59 170.64 L858.71 171.57 L860.83 172.42 L862.95 173.19 L865.07 173.83 L867.19 174.41 L869.31 174.99 L871.43 175.56 L873.55 176.09 L875.67 176.57 L877.79 176.99 L879.91 177.31 L882.03 177.52 L884.15 177.61 L886.27 177.62 L888.39 177.62 L890.51 177.62 L892.63 177.62 L894.75 177.62 L896.87 177.62 L898.99 177.62 L901.11 177.62 L903.23 177.61 L905.35 177.47 L907.47 177.21 L909.59 176.9 L911.71 176.6 L913.83 176.41 L915.95 176.36 L918.07 176.36 L920.19 176.36 L922.31 176.36 L924.43 176.36 L926.55 176.36 L928.67 176.52 L930.79 177.74 L932.92 179.68 L935.04 181.75 L937.16 183.34 L939.28 183.87 L941.4 183.87 L943.52 183.87 L945.64 183.87 L947.76 183.87 L949.88 183.87 L949.88 208.89 L947.76 208.89 L945.64 208.89 L943.52 208.89 L941.4 208.89 L939.28 208.89 L937.16 208.47 L935.04 207.19 L932.92 205.51 L930.79 203.9 L928.67 202.82 L926.55 202.55 L924.43 202.41 L922.31 202.3 L920.19 202.22 L918.07 202.16 L915.95 202.13 L913.83 202.16 L911.71 202.28 L909.59 202.48 L907.47 202.71 L905.35 202.93 L903.23 203.1 L901.11 203.22 L898.99 203.34 L896.87 203.46 L894.75 203.58 L892.63 203.68 L890.51 203.76 L888.39 203.83 L886.27 203.87 L884.15 203.88 L882.03 203.86 L879.91 203.79 L877.79 203.69 L875.67 203.56 L873.55 203.41 L871.43 203.23 L869.31 203.04 L867.19 202.83 L865.07 202.62 L862.95 202.35 L860.83 202 L858.71 201.58 L856.59 201.1 L854.47 200.59 L852.35 200.05 L850.23 199.46 L848.11 198.8 L845.99 198.09 L843.87 197.32 L841.75 196.5 L839.63 195.63 L837.51 194.73 L835.39 193.79 L833.27 192.83 L831.15 191.84 L829.03 190.83 L826.91 189.75 L824.78 188.6 L822.66 187.39 L820.54 186.11 L818.42 184.78 L816.3 183.4 L814.18 181.95 L812.06 180.37 L809.94 178.67 L807.82 176.91 L805.7 175.13 L803.58 173.38 L801.46 171.65 L799.34 169.83 L797.22 167.97 L795.1 166.17 L792.98 164.5 L790.86 163.04 L788.74 161.84 L786.62 160.76 L784.5 159.78 L782.38 158.87 L780.26 158.02 L778.14 157.21 L776.02 156.41 L773.9 155.62 L771.78 154.84 L769.66 154.08 L767.54 153.34 L765.42 152.62 L763.3 151.93 L761.18 151.26 L759.06 150.61 L756.94 150 L754.82 149.42 L752.7 148.87 L750.58 148.35 L748.46 147.86 L746.34 147.39 L744.22 146.95 L742.1 146.51 L739.98 146.1 L737.86 145.69 L735.74 145.29 L733.62 144.9 L731.5 144.51 L729.38 144.12 L727.26 143.73 L725.14 143.33 L723.02 142.92 L720.9 142.5 L718.77 142.07 L716.65 141.62 L714.53 141.16 L712.41 140.7 L710.29 140.23 L708.17 139.76 L706.05 139.3 L703.93 138.85 L701.81 138.41 L699.69 137.98 L697.57 137.57 L695.45 137.19 L693.33 136.83 L691.21 136.5 L689.09 136.2 L686.97 135.91 L684.85 135.61 L682.73 135.32 L680.61 135.04 L678.49 134.77 L676.37 134.53 L674.25 134.31 L672.13 134.13 L670.01 133.98 L667.89 133.87 L665.77 133.8 L663.65 133.73 L661.53 133.67 L659.41 133.61 L657.29 133.56 L655.17 133.51 L653.05 133.47 L650.93 133.43 L648.81 133.4 L646.69 133.37 L644.57 133.35 L642.45 133.34 L640.33 133.34 L638.21 133.35 L636.09 133.38 L633.97 133.45 L631.85 133.53 L629.73 133.64 L627.61 133.77 L625.49 133.92 L623.37 134.08 L621.25 134.26 L619.13 134.45 L617.01 134.65 L614.89 134.87 L612.76 135.09z" fill="#FFA500" fill-opacity="0.2"/>
<path d="M612.76 23.27 L614.89 22.97 L617.01 22.67 L619.13 22.39 L621.25 22.12 L623.37 21.86 L625.49 21.61 L627.61 21.38 L629.73 21.18 L631.85 20.99 L633.97 20.83 L636.09 20.69 L638.21 20.58 L640.33 20.5 L642.45 20.44 L644.57 20.38 L646.69 20.32 L648.81 20.26 L650.93 20.21 L653.05 20.17 L655.17 20.13 L657.29 20.09 L659.41 20.06 L661.53 20.04 L663.65 20.02 L665.77 20.01 L667.89 20.02 L670.01 20.06 L672.13 20.16 L674.25 20.29 L676.37 20.46 L678.49 20.66 L680.61 20.88 L682.73 21.12 L684.85 21.37 L686.97 21.63 L689.09 21.9 L691.21 22.16 L693.33 22.48 L695.45 22.85 L697.57 23.27 L699.69 23.72 L701.81 24.21 L703.93 24.71 L706.05 25.24 L708.17 25.76 L710.29 26.29 L712.41 26.82 L714.53 27.32 L716.65 27.81 L718.77 28.27 L720.9 28.69 L723.02 29.07 L725.14 29.45 L727.26 29.81 L729.38 30.16 L731.5 30.5 L733.62 30.84 L735.74 31.17 L737.86 31.5 L739.98 31.82 L742.1 32.14 L744.22 32.47 L746.34 32.79 L748.46 33.12 L750.58 33.45 L752.7 33.79 L754.82 34.11 L756.94 34.4 L759.06 34.67 L761.18 34.94 L763.3 35.21 L765.42 35.5 L767.54 35.81 L769.66 36.17 L771.78 36.57 L773.9 37.03 L776.02 37.57 L778.14 38.31 L780.26 39.32 L782.38 40.57 L784.5 41.99 L786.62 43.54 L788.74 45.18 L790.86 46.89 L792.98 48.9 L795.1 51.2 L797.22 53.67 L799.34 56.22 L801.46 58.72 L803.58 61.09 L805.7 63.49 L807.82 65.93 L809.94 68.34 L812.06 70.67 L814.18 72.86 L816.3 74.88 L818.42 76.8 L820.54 78.63 L822.66 80.39 L824.78 82.1 L826.91 83.77 L829.03 85.43 L831.15 87.07 L833.27 88.68 L835.39 90.27 L837.51 91.82 L839.63 93.35 L841.75 94.86 L843.87 96.36 L845.99 97.86 L848.11 99.35 L850.23 100.84 L852.35 102.34 L854.47 103.85 L856.59 105.36 L858.71 106.87 L860.83 108.36 L862.95 109.83 L865.07 111.25 L867.19 112.7 L869.31 114.2 L871.43 115.62 L873.55 116.85 L875.67 117.76 L877.79 118.56 L879.91 119.29 L882.03 119.83 L884.15 120.07 L886.27 120.06 L888.39 119.99 L890.51 119.88 L892.63 119.74 L894.75 119.57 L896.87 119.38 L898.99 119.18 L901.11 118.98 L903.23 118.77 L905.35 118.47 L907.47 118.09 L909.59 117.69 L911.71 117.34 L913.83 117.12 L915.95 117.08 L918.07 117.1 L920.19 117.15 L922.31 117.23 L924.43 117.34 L926.55 117.48 L928.67 117.86 L930.79 119.67 L932.92 122.32 L935.04 124.89 L937.16 127.44 L939.28 128.86 L941.4 129.05 L943.52 129.18 L945.64 129.27 L947.76 129.32 L949.88 129.33 L949.88 165.11 L947.76 165.07 L945.64 164.93 L943.52 164.7 L941.4 164.36 L939.28 163.93 L937.16 162.39 L935.04 159.92 L932.92 157.45 L930.79 154.94 L928.67 153.31 L926.55 153.1 L924.43 153.1 L922.31 153.1 L920.19 153.1 L918.07 153.1 L915.95 153.1 L913.83 153.14 L911.71 153.35 L909.59 153.67 L907.47 154.03 L905.35 154.35 L903.23 154.57 L901.11 154.67 L898.99 154.76 L896.87 154.85 L894.75 154.92 L892.63 154.98 L890.51 155.03 L888.39 155.07 L886.27 155.09 L884.15 155.1 L882.03 155.05 L879.91 154.92 L877.79 154.72 L875.67 154.46 L873.55 154.15 L871.43 153.8 L869.31 153.41 L867.19 153 L865.07 152.58 L862.95 152.02 L860.83 151.28 L858.71 150.4 L856.59 149.44 L854.47 148.43 L852.35 147.45 L850.23 146.45 L848.11 145.41 L845.99 144.33 L843.87 143.21 L841.75 142.05 L839.63 140.86 L837.51 139.63 L835.39 138.36 L833.27 137.06 L831.15 135.72 L829.03 134.34 L826.91 132.87 L824.78 131.32 L822.66 129.71 L820.54 128.07 L818.42 126.4 L816.3 124.73 L814.18 123.08 L812.06 121.38 L809.94 119.65 L807.82 117.91 L805.7 116.2 L803.58 114.54 L801.46 112.93 L799.34 111.29 L797.22 109.65 L795.1 108.08 L792.98 106.65 L790.86 105.43 L788.74 104.43 L786.62 103.52 L784.5 102.68 L782.38 101.92 L780.26 101.23 L778.14 100.63 L776.02 100.1 L773.9 99.64 L771.78 99.21 L769.66 98.83 L767.54 98.47 L765.42 98.13 L763.3 97.82 L761.18 97.52 L759.06 97.22 L756.94 96.93 L754.82 96.63 L752.7 96.33 L750.58 96.02 L748.46 95.71 L746.34 95.42 L744.22 95.12 L742.1 94.84 L739.98 94.55 L737.86 94.27 L735.74 93.99 L733.62 93.71 L731.5 93.43 L729.38 93.15 L727.26 92.87 L725.14 92.58 L723.02 92.29 L720.9 92 L718.77 91.69 L716.65 91.36 L714.53 91.02 L712.41 90.67 L710.29 90.32 L708.17 89.97 L706.05 89.62 L703.93 89.28 L701.81 88.95 L699.69 88.64 L697.57 88.35 L695.45 88.09 L693.33 87.85 L691.21 87.65 L689.09 87.48 L686.97 87.32 L684.85 87.15 L682.73 86.99 L680.61 86.84 L678.49 86.71 L676.37 86.58 L674.25 86.48 L672.13 86.39 L670.01 86.34 L667.89 86.31 L665.77 86.32 L663.65 86.39 L661.53 86.53 L659.41 86.72 L657.29 86.95 L655.17 87.22 L653.05 87.52 L650.93 87.85 L648.81 88.18 L646.69 88.53 L644.57 88.87 L642.45 89.2 L640.33 89.52 L638.21 89.82 L636.09 90.14 L633.97 90.47 L631.85 90.81 L629.73 91.16 L627.61 91.52 L625.49 91.89 L623.37 92.28 L621.25 92.67 L619.13 93.07 L617.01 93.47 L614.89 93.89 L612.76 94.31z" fill="#0033A0" fill-opacity="0.2"/>
<path d="M612.76 106.82 L614.89 106.82 L617.01 106.82 L619.13 106.82 L621.25 106.82 L623.37 106.82 L625.49 106.82 L627.61 106.82 L629.73 106.82 L631.85 106.82 L633.97 106.82 L636.09 106.82 L638.21 106.82 L640.33 106.82 L642.45 106.83 L644.57 106.87 L646.69 106.92 L648.81 106.99 L650.93 107.07 L653.05 107.17 L655.17 107.28 L657.29 107.4 L659.41 107.53 L661.53 107.68 L663.65 107.82 L665.77 107.98 L667.89 108.14 L670.01 108.35 L672.13 108.62 L674.25 108.94 L676.37 109.3 L678.49 109.7 L680.61 110.11 L682.73 110.55 L684.85 110.99 L686.97 111.44 L689.09 111.88 L691.21 112.31 L693.33 112.76 L695.45 113.23 L697.57 113.72 L699.69 114.23 L701.81 114.74 L703.93 115.27 L706.05 115.81 L708.17 116.35 L710.29 116.89 L712.41 117.42 L714.53 117.95 L716.65 118.47 L718.77 118.98 L720.9 119.48 L723.02 119.95 L725.14 120.42 L727.26 120.87 L729.38 121.31 L731.5 121.74 L733.62 122.17 L735.74 122.6 L737.86 123.03 L739.98 123.47 L742.1 123.91 L744.22 124.37 L746.34 124.84 L748.46 125.32 L750.58 125.83 L752.7 126.36 L754.82 126.9 L756.94 127.45 L759.06 128.02 L761.18 128.6 L763.3 129.21 L765.42 129.83 L767.54 130.48 L769.66 131.16 L771.78 131.87 L773.9 132.61 L776.02 133.39 L778.14 134.21 L780.26 135.07 L782.38 135.99 L784.5 136.98 L786.62 138.06 L788.74 139.25 L790.86 140.57 L792.98 142.19 L795.1 144.07 L797.22 146.11 L799.34 148.21 L801.46 150.26 L803.58 152.21 L805.7 154.21 L807.82 156.25 L809.94 158.26 L812.06 160.16 L814.18 161.89 L816.3 163.41 L818.42 164.78 L820.54 166.06 L822.66 167.26 L824.78 168.42 L826.91 169.56 L829.03 170.72 L831.15 171.93 L833.27 173.16 L835.39 174.4 L837.51 175.65 L839.63 176.89 L841.75 178.12 L843.87 179.33 L845.99 180.5 L848.11 181.63 L850.23 182.7 L852.35 183.72 L854.47 184.68 L856.59 185.61 L858.71 186.49 L860.83 187.33 L862.95 188.11 L865.07 188.84 L867.19 189.55 L869.31 190.26 L871.43 190.91 L873.55 191.4 L875.67 191.67 L877.79 191.84 L879.91 191.98 L882.03 192.08 L884.15 192.12 L886.27 192.1 L888.39 192.02 L890.51 191.88 L892.63 191.7 L894.75 191.5 L896.87 191.27 L898.99 191.03 L901.11 190.8 L903.23 190.57 L905.35 190.29 L907.47 189.96 L909.59 189.61 L911.71 189.29 L913.83 189.01 L915.95 188.81 L918.07 188.63 L920.19 188.46 L922.31 188.31 L924.43 188.2 L926.55 188.13 L928.67 188.31 L930.79 189.72 L932.92 191.71 L935.04 193.63 L937.16 195.93 L939.28 196.88 L941.4 196.86 L943.52 196.78 L945.64 196.58 L947.76 196.2 L949.88 195.63" stroke="#EDA81A" stroke-width="1.4" fill="none" stroke-linejoin="round"/>
<path d="M612.76 59.04 L614.89 58.57 L617.01 58.11 L619.13 57.66 L621.25 57.23 L623.37 56.81 L625.49 56.42 L627.61 56.04 L629.73 55.68 L631.85 55.34 L633.97 55.03 L636.09 54.75 L638.21 54.49 L640.33 54.25 L642.45 54.03 L644.57 53.81 L646.69 53.59 L648.81 53.37 L650.93 53.17 L653.05 52.98 L655.17 52.8 L657.29 52.64 L659.41 52.51 L661.53 52.41 L663.65 52.33 L665.77 52.29 L667.89 52.29 L670.01 52.32 L672.13 52.39 L674.25 52.49 L676.37 52.61 L678.49 52.76 L680.61 52.93 L682.73 53.11 L684.85 53.3 L686.97 53.5 L689.09 53.69 L691.21 53.9 L693.33 54.15 L695.45 54.45 L697.57 54.79 L699.69 55.17 L701.81 55.56 L703.93 55.98 L706.05 56.42 L708.17 56.85 L710.29 57.29 L712.41 57.72 L714.53 58.13 L716.65 58.53 L718.77 58.89 L720.9 59.22 L723.02 59.52 L725.14 59.8 L727.26 60.07 L729.38 60.32 L731.5 60.56 L733.62 60.8 L735.74 61.03 L737.86 61.26 L739.98 61.49 L742.1 61.73 L744.22 61.97 L746.34 62.22 L748.46 62.48 L750.58 62.76 L752.7 63.05 L754.82 63.35 L756.94 63.64 L759.06 63.94 L761.18 64.24 L763.3 64.55 L765.42 64.88 L767.54 65.24 L769.66 65.64 L771.78 66.07 L773.9 66.55 L776.02 67.08 L778.14 67.73 L780.26 68.54 L782.38 69.48 L784.5 70.54 L786.62 71.7 L788.74 72.94 L790.86 74.28 L792.98 75.9 L795.1 77.78 L797.22 79.82 L799.34 81.91 L801.46 83.97 L803.58 85.91 L805.7 87.85 L807.82 89.8 L809.94 91.74 L812.06 93.64 L814.18 95.5 L816.3 97.28 L818.42 99.02 L820.54 100.72 L822.66 102.38 L824.78 104.02 L826.91 105.64 L829.03 107.23 L831.15 108.8 L833.27 110.37 L835.39 111.92 L837.51 113.45 L839.63 114.97 L841.75 116.47 L843.87 117.95 L845.99 119.4 L848.11 120.84 L850.23 122.24 L852.35 123.62 L854.47 124.99 L856.59 126.35 L858.71 127.68 L860.83 128.96 L862.95 130.17 L865.07 131.28 L867.19 132.35 L869.31 133.41 L871.43 134.38 L873.55 135.16 L875.67 135.69 L877.79 136.1 L879.91 136.46 L882.03 136.72 L884.15 136.84 L886.27 136.82 L888.39 136.74 L890.51 136.63 L892.63 136.48 L894.75 136.3 L896.87 136.11 L898.99 135.92 L901.11 135.72 L903.23 135.54 L905.35 135.33 L907.47 135.1 L909.59 134.85 L911.71 134.62 L913.83 134.43 L915.95 134.29 L918.07 134.17 L920.19 134.06 L922.31 133.96 L924.43 133.89 L926.55 133.84 L928.67 134.09 L930.79 136 L932.92 138.77 L935.04 141.64 L937.16 145.3 L939.28 146.85 L941.4 146.85 L943.52 146.85 L945.64 146.85 L947.76 146.85 L949.88 146.85" stroke="#1F3A93" stroke-width="1.4" fill="none" stroke-linejoin="round"/>
<g font-size="4.5" fill="#3a3a3a" stroke="#3a3a3a" stroke-width="0.12"><text x="589" y="286.56" text-anchor="end">0</text><text x="589" y="194.25" text-anchor="end">500000</text><text x="589" y="101.69" text-anchor="end">1000000</text><text x="589" y="9.12" text-anchor="end">1500000</text><text x="973.5" y="286.56">0</text><text x="973.5" y="194.25">50</text><text x="973.5" y="101.69">100</text><text x="973.5" y="9.12">150</text><text x="612.76" y="304.5" text-anchor="middle">1990</text><text x="721.51" y="304.5" text-anchor="middle">2000</text><text x="830.26" y="304.5" text-anchor="middle">2010</text><text x="939" y="304.5" text-anchor="middle">2020</text></g>
<g stroke="#000" stroke-width="0.14">
<text x="780.5" y="311" font-size="5.6" text-anchor="middle" fill="#000" font-weight="normal">Year</text>
<text transform="translate(568.5 152.5) rotate(-90)" font-size="5.6" text-anchor="middle" fill="#000">Incidence Number</text>
<text transform="translate(983.2 152.5) rotate(90)" font-size="5.6" text-anchor="middle" fill="#000">Age-standardized Incidence rate per 100,000</text>
<text x="996.5" y="125.5" font-size="5.6" fill="#000">Number</text>
<rect x="996.7" y="129.1" width="8.2" height="7.8999999999999995" fill="#FFA607" stroke="none"/>
<rect x="996.7" y="138.1" width="8.2" height="7.8999999999999995" fill="#0234A8" stroke="none"/>
<text x="1008.1" y="134.8" font-size="4.8" fill="#111">Female</text>
<text x="1008.1" y="143.9" font-size="4.8" fill="#111">Male</text>
<text x="996.5" y="162.9" font-size="5.6" fill="#000">Rate</text>
<line x1="997.5" x2="1004.5" y1="171" y2="171" stroke="#EDA81A" stroke-width="1.4"/>
<line x1="997.5" x2="1004.5" y1="180" y2="180" stroke="#1F3A93" stroke-width="1.4"/>
<text x="1008.1" y="172.7" font-size="4.8" fill="#111">Female</text>
<text x="1008.1" y="181.7" font-size="4.8" fill="#111">Male</text>
</g>
<text transform="translate(559.51 54.07) scale(0.8689 1)" font-size="32.56" fill="#000" stroke="#000" stroke-width="0.45" stroke-linejoin="round">B</text></g>
<!-- panel C -->
<g><g stroke="#efefef" stroke-width="0.5" fill="none"><line x1="1092" x2="1481" y1="284.94" y2="284.94"/><line x1="1092" x2="1481" y1="233.4" y2="233.4"/><line x1="1092" x2="1481" y1="182.12" y2="182.12"/><line x1="1092" x2="1481" y1="130.84" y2="130.84"/><line x1="1092" x2="1481" y1="79.3" y2="79.3"/><line x1="1092" x2="1481" y1="28.02" y2="28.02"/><line x1="1114.51" x2="1114.51" y1="6.5" y2="297.5"/><line x1="1169.92" x2="1169.92" y1="6.5" y2="297.5"/><line x1="1225.33" x2="1225.33" y1="6.5" y2="297.5"/><line x1="1280.75" x2="1280.75" y1="6.5" y2="297.5"/><line x1="1336.16" x2="1336.16" y1="6.5" y2="297.5"/><line x1="1391.57" x2="1391.57" y1="6.5" y2="297.5"/><line x1="1446.98" x2="1446.98" y1="6.5" y2="297.5"/></g>
<path d="M1110.25 284.94h4.32V210.64h-4.32zM1121.33 284.94h4.32V207.13h-4.32zM1132.41 284.94h4.32V203.88h-4.32zM1143.49 284.94h4.32V201.38h-4.32zM1154.57 284.94h4.32V199.38h-4.32zM1165.66 284.94h4.32V198.13h-4.32zM1176.74 284.94h4.32V197.63h-4.32zM1187.82 284.94h4.32V199.38h-4.32zM1198.9 284.94h4.32V202.63h-4.32zM1209.99 284.94h4.32V206.13h-4.32zM1221.07 284.94h4.32V209.14h-4.32zM1232.15 284.94h4.32V211.39h-4.32zM1243.23 284.94h4.32V213.39h-4.32zM1254.31 284.94h4.32V215.64h-4.32zM1265.4 284.94h4.32V217.89h-4.32zM1276.48 284.94h4.32V219.89h-4.32zM1287.56 284.94h4.32V221.64h-4.32zM1298.64 284.94h4.32V223.15h-4.32zM1309.73 284.94h4.32V224.65h-4.32zM1320.81 284.94h4.32V225.9h-4.32zM1331.89 284.94h4.32V226.4h-4.32zM1342.97 284.94h4.32V226.4h-4.32zM1354.05 284.94h4.32V226.15h-4.32zM1365.14 284.94h4.32V225.65h-4.32zM1376.22 284.94h4.32V224.9h-4.32zM1387.3 284.94h4.32V223.65h-4.32zM1398.38 284.94h4.32V222.14h-4.32zM1409.47 284.94h4.32V220.39h-4.32zM1420.55 284.94h4.32V218.89h-4.32zM1431.63 284.94h4.32V217.14h-4.32zM1442.71 284.94h4.32V216.89h-4.32zM1453.79 284.94h4.32V217.14h-4.32z" fill="#FFA607"/>
<path d="M1115.07 284.94h3.71V204.63h-3.71zM1126.15 284.94h3.71V198.38h-3.71zM1137.23 284.94h3.71V193.13h-3.71zM1148.31 284.94h3.71V189.12h-3.71zM1159.4 284.94h3.71V185.62h-3.71zM1170.48 284.94h3.71V183.12h-3.71zM1181.56 284.94h3.71V182.62h-3.71zM1192.64 284.94h3.71V185.37h-3.71zM1203.72 284.94h3.71V190.12h-3.71zM1214.81 284.94h3.71V195.38h-3.71zM1225.89 284.94h3.71V199.38h-3.71zM1236.97 284.94h3.71V202.63h-3.71zM1248.05 284.94h3.71V205.88h-3.71zM1259.14 284.94h3.71V208.89h-3.71zM1270.22 284.94h3.71V211.89h-3.71zM1281.3 284.94h3.71V213.89h-3.71zM1292.38 284.94h3.71V215.89h-3.71zM1303.46 284.94h3.71V217.64h-3.71zM1314.55 284.94h3.71V219.14h-3.71zM1325.63 284.94h3.71V220.14h-3.71zM1336.71 284.94h3.71V220.64h-3.71zM1347.79 284.94h3.71V220.39h-3.71zM1358.88 284.94h3.71V220.14h-3.71zM1369.96 284.94h3.71V219.89h-3.71zM1381.04 284.94h3.71V219.14h-3.71zM1392.12 284.94h3.71V217.64h-3.71zM1403.2 284.94h3.71V215.39h-3.71zM1414.29 284.94h3.71V213.14h-3.71zM1425.37 284.94h3.71V210.14h-3.71zM1436.45 284.94h3.71V207.39h-3.71zM1447.53 284.94h3.71V203.38h-3.71zM1458.62 284.94h3.71V203.88h-3.71z" fill="#0234A8"/>
<path d="M1112.41 197.26V221.78M1111.7 197.26h1.41M1111.7 221.78h1.41M1123.49 193.13V218.8M1122.78 193.13h1.41M1122.78 218.8h1.41M1134.57 189.29V216.04M1133.87 189.29h1.41M1133.87 216.04h1.41M1145.65 186.34V213.91M1144.95 186.34h1.41M1144.95 213.91h1.41M1156.74 183.98V212.21M1156.03 183.98h1.41M1156.03 212.21h1.41M1167.82 182.5V211.15M1167.11 182.5h1.41M1167.11 211.15h1.41M1178.9 181.91V210.72M1178.19 181.91h1.41M1178.19 210.72h1.41M1189.98 183.98V212.21M1189.28 183.98h1.41M1189.28 212.21h1.41M1201.06 187.82V214.98M1200.36 187.82h1.41M1200.36 214.98h1.41M1212.15 191.95V217.95M1211.44 191.95h1.41M1211.44 217.95h1.41M1223.23 195.49V220.51M1222.52 195.49h1.41M1222.52 220.51h1.41M1234.31 198.15V222.42M1233.6 198.15h1.41M1233.6 222.42h1.41M1245.39 200.51V224.12M1244.69 200.51h1.41M1244.69 224.12h1.41M1256.48 203.17V226.03M1255.77 203.17h1.41M1255.77 226.03h1.41M1267.56 205.82V227.95M1266.85 205.82h1.41M1266.85 227.95h1.41M1278.64 208.19V229.65M1277.93 208.19h1.41M1277.93 229.65h1.41M1289.72 210.25V231.14M1289.02 210.25h1.41M1289.02 231.14h1.41M1300.8 212.02V232.41M1300.1 212.02h1.41M1300.1 232.41h1.41M1311.89 213.79V233.69M1311.18 213.79h1.41M1311.18 233.69h1.41M1322.97 215.27V234.75M1322.26 215.27h1.41M1322.26 234.75h1.41M1334.05 215.86V235.18M1333.34 215.86h1.41M1333.34 235.18h1.41M1345.13 215.86V235.18M1344.43 215.86h1.41M1344.43 235.18h1.41M1356.22 215.57V234.97M1355.51 215.57h1.41M1355.51 234.97h1.41M1367.3 214.97V234.54M1366.59 214.97h1.41M1366.59 234.54h1.41M1378.38 214.09V233.9M1377.67 214.09h1.41M1377.67 233.9h1.41M1389.46 212.61V232.84M1388.76 212.61h1.41M1388.76 232.84h1.41M1400.54 210.84V231.56M1399.84 210.84h1.41M1399.84 231.56h1.41M1411.63 208.78V230.07M1410.92 208.78h1.41M1410.92 230.07h1.41M1422.71 207V228.8M1422 207h1.41M1422 228.8h1.41M1433.79 204.94V227.31M1433.08 204.94h1.41M1433.08 227.31h1.41M1444.87 204.64V227.1M1444.17 204.64h1.41M1444.17 227.1h1.41M1455.96 204.94V227.31M1455.25 204.94h1.41M1455.25 227.31h1.41M1116.92 190.12V215.88M1116.21 190.12h1.41M1116.21 215.88h1.41M1128 183.37V210.5M1127.29 183.37h1.41M1127.29 210.5h1.41M1139.08 177.62V205.98M1138.38 177.62h1.41M1138.38 205.98h1.41M1150.16 172.61V202.54M1149.46 172.61h1.41M1149.46 202.54h1.41M1161.25 168.86V199.52M1160.54 168.86h1.41M1160.54 199.52h1.41M1172.33 165.61V197.37M1171.62 165.61h1.41M1171.62 197.37h1.41M1183.41 165.36V196.94M1182.7 165.36h1.41M1182.7 196.94h1.41M1194.49 168.36V199.31M1193.79 168.36h1.41M1193.79 199.31h1.41M1205.58 173.86V203.4M1204.87 173.86h1.41M1204.87 203.4h1.41M1216.66 179.62V207.92M1215.95 179.62h1.41M1215.95 207.92h1.41M1227.74 184.37V211.36M1227.03 184.37h1.41M1227.03 211.36h1.41M1238.82 188.12V214.15M1238.12 188.12h1.41M1238.12 214.15h1.41M1249.9 192.13V216.95M1249.2 192.13h1.41M1249.2 216.95h1.41M1260.99 195.63V219.53M1260.28 195.63h1.41M1260.28 219.53h1.41M1272.07 198.88V222.11M1271.36 198.88h1.41M1271.36 222.11h1.41M1283.15 201.38V223.84M1282.44 201.38h1.41M1282.44 223.84h1.41M1294.23 203.63V225.56M1293.53 203.63h1.41M1293.53 225.56h1.41M1305.32 205.88V227.06M1304.61 205.88h1.41M1304.61 227.06h1.41M1316.4 207.64V228.35M1315.69 207.64h1.41M1315.69 228.35h1.41M1327.48 209.14V229.21M1326.77 209.14h1.41M1326.77 229.21h1.41M1338.56 209.64V229.64M1337.86 209.64h1.41M1337.86 229.64h1.41M1349.64 209.39V229.43M1348.94 209.39h1.41M1348.94 229.43h1.41M1360.73 209.14V229.21M1360.02 209.14h1.41M1360.02 229.21h1.41M1371.81 208.39V229M1371.1 208.39h1.41M1371.1 229h1.41M1382.89 207.13V228.35M1382.18 207.13h1.41M1382.18 228.35h1.41M1393.97 206.13V227.06M1393.27 206.13h1.41M1393.27 227.06h1.41M1405.06 203.63V225.13M1404.35 203.63h1.41M1404.35 225.13h1.41M1416.14 200.63V223.19M1415.43 200.63h1.41M1415.43 223.19h1.41M1427.22 197.13V220.61M1426.51 197.13h1.41M1426.51 220.61h1.41M1438.3 193.13V218.24M1437.6 193.13h1.41M1437.6 218.24h1.41M1449.38 187.62V214.8M1448.68 187.62h1.41M1448.68 214.8h1.41M1460.47 188.87V215.23M1459.76 188.87h1.41M1459.76 215.23h1.41" stroke="#000" stroke-width="1.1" fill="none" opacity="0.55"/>
<path d="M1114.51 85.06 L1116.67 83.15 L1118.83 81.39 L1120.99 79.81 L1123.16 78.47 L1125.32 77.42 L1127.48 76.55 L1129.64 75.77 L1131.8 75.08 L1133.96 74.5 L1136.12 74.04 L1138.28 73.69 L1140.44 73.37 L1142.6 73.08 L1144.76 72.83 L1146.92 72.65 L1149.08 72.56 L1151.24 72.56 L1153.41 72.61 L1155.57 72.71 L1157.73 72.85 L1159.89 73.03 L1162.05 73.25 L1164.21 73.5 L1166.37 73.79 L1168.53 74.1 L1170.69 74.47 L1172.85 75.11 L1175.01 76.01 L1177.17 77.12 L1179.33 78.36 L1181.49 79.67 L1183.65 81.22 L1185.82 83.1 L1187.98 85.22 L1190.14 87.47 L1192.3 89.75 L1194.46 91.96 L1196.62 94.08 L1198.78 96.22 L1200.94 98.39 L1203.1 100.57 L1205.26 102.75 L1207.42 104.92 L1209.58 107.08 L1211.74 109.24 L1213.9 111.4 L1216.06 113.56 L1218.23 115.72 L1220.39 117.88 L1222.55 120.04 L1224.71 122.2 L1226.87 124.38 L1229.03 126.6 L1231.19 128.84 L1233.35 131.09 L1235.51 133.32 L1237.67 135.53 L1239.83 137.68 L1241.99 139.76 L1244.15 141.75 L1246.31 143.65 L1248.48 145.5 L1250.64 147.29 L1252.8 149.03 L1254.96 150.73 L1257.12 152.38 L1259.28 153.98 L1261.44 155.53 L1263.6 157.04 L1265.76 158.49 L1267.92 159.89 L1270.08 161.25 L1272.24 162.58 L1274.4 163.89 L1276.56 165.18 L1278.72 166.47 L1280.89 167.77 L1283.05 169.07 L1285.21 170.38 L1287.37 171.69 L1289.53 172.98 L1291.69 174.26 L1293.85 175.5 L1296.01 176.71 L1298.17 177.86 L1300.33 178.96 L1302.49 180.02 L1304.65 181.05 L1306.81 182.05 L1308.97 183.02 L1311.13 183.96 L1313.3 184.88 L1315.46 185.77 L1317.62 186.64 L1319.78 187.48 L1321.94 188.31 L1324.1 189.13 L1326.26 189.93 L1328.42 190.71 L1330.58 191.45 L1332.74 192.14 L1334.9 192.78 L1337.06 193.36 L1339.22 193.9 L1341.38 194.42 L1343.55 194.91 L1345.71 195.38 L1347.87 195.83 L1350.03 196.25 L1352.19 196.66 L1354.35 197.05 L1356.51 197.43 L1358.67 197.8 L1360.83 198.16 L1362.99 198.51 L1365.15 198.84 L1367.31 199.16 L1369.47 199.46 L1371.63 199.74 L1373.79 199.99 L1375.96 200.21 L1378.12 200.43 L1380.28 200.65 L1382.44 200.87 L1384.6 201.06 L1386.76 201.21 L1388.92 201.33 L1391.08 201.38 L1393.24 201.38 L1395.4 201.38 L1397.56 201.38 L1399.72 201.38 L1401.88 201.38 L1404.04 201.38 L1406.2 201.38 L1408.37 201.38 L1410.53 201.38 L1412.69 201.34 L1414.85 201.25 L1417.01 201.11 L1419.17 200.94 L1421.33 200.74 L1423.49 200.54 L1425.65 200.33 L1427.81 200.12 L1429.97 199.87 L1432.13 199.56 L1434.29 199.19 L1436.45 198.81 L1438.62 198.45 L1440.78 198.12 L1442.94 197.85 L1445.1 197.68 L1447.26 197.63 L1449.42 197.7 L1451.58 197.88 L1453.74 198.14 L1455.9 198.48 L1458.06 198.88 L1458.06 223.9 L1455.9 223.77 L1453.74 223.64 L1451.58 223.51 L1449.42 223.39 L1447.26 223.27 L1445.1 223.15 L1442.94 223.05 L1440.78 222.95 L1438.62 222.86 L1436.45 222.79 L1434.29 222.73 L1432.13 222.68 L1429.97 222.66 L1427.81 222.64 L1425.65 222.64 L1423.49 222.64 L1421.33 222.64 L1419.17 222.64 L1417.01 222.64 L1414.85 222.64 L1412.69 222.64 L1410.53 222.64 L1408.37 222.64 L1406.2 222.64 L1404.04 222.64 L1401.88 222.64 L1399.72 222.64 L1397.56 222.64 L1395.4 222.64 L1393.24 222.64 L1391.08 222.64 L1388.92 222.63 L1386.76 222.61 L1384.6 222.57 L1382.44 222.52 L1380.28 222.46 L1378.12 222.4 L1375.96 222.32 L1373.79 222.23 L1371.63 222.14 L1369.47 222.03 L1367.31 221.93 L1365.15 221.81 L1362.99 221.7 L1360.83 221.58 L1358.67 221.45 L1356.51 221.32 L1354.35 221.16 L1352.19 220.98 L1350.03 220.76 L1347.87 220.52 L1345.71 220.26 L1343.55 219.98 L1341.38 219.68 L1339.22 219.37 L1337.06 219.03 L1334.9 218.68 L1332.74 218.27 L1330.58 217.81 L1328.42 217.3 L1326.26 216.76 L1324.1 216.19 L1321.94 215.62 L1319.78 215.04 L1317.62 214.45 L1315.46 213.85 L1313.3 213.22 L1311.13 212.57 L1308.97 211.9 L1306.81 211.21 L1304.65 210.49 L1302.49 209.74 L1300.33 208.96 L1298.17 208.14 L1296.01 207.25 L1293.85 206.32 L1291.69 205.35 L1289.53 204.35 L1287.37 203.33 L1285.21 202.3 L1283.05 201.27 L1280.89 200.25 L1278.72 199.25 L1276.56 198.25 L1274.4 197.25 L1272.24 196.24 L1270.08 195.22 L1267.92 194.16 L1265.76 193.06 L1263.6 191.92 L1261.44 190.71 L1259.28 189.44 L1257.12 188.1 L1254.96 186.71 L1252.8 185.29 L1250.64 183.84 L1248.48 182.38 L1246.31 180.93 L1244.15 179.49 L1241.99 178.07 L1239.83 176.64 L1237.67 175.22 L1235.51 173.77 L1233.35 172.31 L1231.19 170.81 L1229.03 169.28 L1226.87 167.7 L1224.71 166.07 L1222.55 164.36 L1220.39 162.58 L1218.23 160.75 L1216.06 158.87 L1213.9 156.97 L1211.74 155.05 L1209.58 153.12 L1207.42 151.22 L1205.26 149.26 L1203.1 147.24 L1200.94 145.22 L1198.78 143.24 L1196.62 141.35 L1194.46 139.61 L1192.3 137.92 L1190.14 136.26 L1187.98 134.66 L1185.82 133.17 L1183.65 131.83 L1181.49 130.68 L1179.33 129.62 L1177.17 128.57 L1175.01 127.62 L1172.85 126.87 L1170.69 126.41 L1168.53 126.27 L1166.37 126.17 L1164.21 126.09 L1162.05 126.01 L1159.89 125.95 L1157.73 125.91 L1155.57 125.87 L1153.41 125.85 L1151.24 125.83 L1149.08 125.85 L1146.92 125.99 L1144.76 126.26 L1142.6 126.61 L1140.44 127.02 L1138.28 127.44 L1136.12 127.87 L1133.96 128.4 L1131.8 129.02 L1129.64 129.7 L1127.48 130.44 L1125.32 131.23 L1123.16 132.07 L1120.99 133.01 L1118.83 134.05 L1116.67 135.16 L1114.51 136.34z" fill="#FFA500" fill-opacity="0.2"/>
<path d="M1114.51 48.78 L1116.67 46.16 L1118.83 43.67 L1120.99 41.34 L1123.16 39.2 L1125.32 37.27 L1127.48 35.52 L1129.64 33.89 L1131.8 32.37 L1133.96 30.94 L1136.12 29.6 L1138.28 28.33 L1140.44 27.08 L1142.6 25.87 L1144.76 24.74 L1146.92 23.72 L1149.08 22.85 L1151.24 22.12 L1153.41 21.43 L1155.57 20.82 L1157.73 20.33 L1159.89 20.03 L1162.05 19.85 L1164.21 19.7 L1166.37 19.59 L1168.53 19.52 L1170.69 19.56 L1172.85 20.07 L1175.01 21.01 L1177.17 22.25 L1179.33 23.68 L1181.49 25.14 L1183.65 26.9 L1185.82 29.09 L1187.98 31.64 L1190.14 34.44 L1192.3 37.4 L1194.46 40.43 L1196.62 43.56 L1198.78 47.06 L1200.94 50.81 L1203.1 54.68 L1205.26 58.55 L1207.42 62.29 L1209.58 65.93 L1211.74 69.6 L1213.9 73.28 L1216.06 76.94 L1218.23 80.55 L1220.39 84.07 L1222.55 87.48 L1224.71 90.76 L1226.87 93.89 L1229.03 96.95 L1231.19 99.94 L1233.35 102.86 L1235.51 105.71 L1237.67 108.49 L1239.83 111.21 L1241.99 113.86 L1244.15 116.46 L1246.31 119.01 L1248.48 121.52 L1250.64 124 L1252.8 126.42 L1254.96 128.77 L1257.12 131.04 L1259.28 133.22 L1261.44 135.28 L1263.6 137.21 L1265.76 139.05 L1267.92 140.81 L1270.08 142.5 L1272.24 144.12 L1274.4 145.7 L1276.56 147.25 L1278.72 148.77 L1280.89 150.28 L1283.05 151.79 L1285.21 153.29 L1287.37 154.77 L1289.53 156.22 L1291.69 157.64 L1293.85 159 L1296.01 160.31 L1298.17 161.55 L1300.33 162.71 L1302.49 163.81 L1304.65 164.87 L1306.81 165.89 L1308.97 166.87 L1311.13 167.81 L1313.3 168.71 L1315.46 169.59 L1317.62 170.42 L1319.78 171.23 L1321.94 172 L1324.1 172.74 L1326.26 173.45 L1328.42 174.13 L1330.58 174.79 L1332.74 175.42 L1334.9 176.02 L1337.06 176.61 L1339.22 177.18 L1341.38 177.74 L1343.55 178.29 L1345.71 178.83 L1347.87 179.34 L1350.03 179.83 L1352.19 180.3 L1354.35 180.75 L1356.51 181.16 L1358.67 181.54 L1360.83 181.92 L1362.99 182.3 L1365.15 182.65 L1367.31 182.99 L1369.47 183.29 L1371.63 183.55 L1373.79 183.76 L1375.96 183.92 L1378.12 184.07 L1380.28 184.21 L1382.44 184.33 L1384.6 184.44 L1386.76 184.53 L1388.92 184.59 L1391.08 184.62 L1393.24 184.61 L1395.4 184.58 L1397.56 184.52 L1399.72 184.43 L1401.88 184.33 L1404.04 184.22 L1406.2 184.1 L1408.37 183.98 L1410.53 183.85 L1412.69 183.71 L1414.85 183.53 L1417.01 183.33 L1419.17 183.11 L1421.33 182.88 L1423.49 182.63 L1425.65 182.37 L1427.81 182.11 L1429.97 181.83 L1432.13 181.54 L1434.29 181.22 L1436.45 180.85 L1438.62 180.41 L1440.78 179.72 L1442.94 178.94 L1445.1 178.33 L1447.26 178.12 L1449.42 178.22 L1451.58 178.5 L1453.74 178.99 L1455.9 179.7 L1458.06 180.62 L1458.06 206.38 L1455.9 206.12 L1453.74 205.91 L1451.58 205.76 L1449.42 205.67 L1447.26 205.63 L1445.1 205.69 L1442.94 205.88 L1440.78 206.16 L1438.62 206.51 L1436.45 206.89 L1434.29 207.28 L1432.13 207.63 L1429.97 207.93 L1427.81 208.13 L1425.65 208.27 L1423.49 208.4 L1421.33 208.53 L1419.17 208.64 L1417.01 208.74 L1414.85 208.81 L1412.69 208.86 L1410.53 208.89 L1408.37 208.89 L1406.2 208.89 L1404.04 208.89 L1401.88 208.89 L1399.72 208.89 L1397.56 208.89 L1395.4 208.89 L1393.24 208.89 L1391.08 208.88 L1388.92 208.85 L1386.76 208.79 L1384.6 208.7 L1382.44 208.58 L1380.28 208.46 L1378.12 208.32 L1375.96 208.18 L1373.79 208.04 L1371.63 207.88 L1369.47 207.7 L1367.31 207.5 L1365.15 207.28 L1362.99 207.04 L1360.83 206.78 L1358.67 206.51 L1356.51 206.23 L1354.35 205.9 L1352.19 205.53 L1350.03 205.13 L1347.87 204.7 L1345.71 204.25 L1343.55 203.78 L1341.38 203.3 L1339.22 202.82 L1337.06 202.33 L1334.9 201.85 L1332.74 201.36 L1330.58 200.86 L1328.42 200.35 L1326.26 199.81 L1324.1 199.24 L1321.94 198.65 L1319.78 198.02 L1317.62 197.35 L1315.46 196.63 L1313.3 195.88 L1311.13 195.09 L1308.97 194.27 L1306.81 193.42 L1304.65 192.54 L1302.49 191.63 L1300.33 190.71 L1298.17 189.75 L1296.01 188.74 L1293.85 187.68 L1291.69 186.58 L1289.53 185.45 L1287.37 184.3 L1285.21 183.12 L1283.05 181.94 L1280.89 180.76 L1278.72 179.58 L1276.56 178.38 L1274.4 177.17 L1272.24 175.94 L1270.08 174.69 L1267.92 173.41 L1265.76 172.09 L1263.6 170.74 L1261.44 169.36 L1259.28 167.94 L1257.12 166.49 L1254.96 165 L1252.8 163.47 L1250.64 161.89 L1248.48 160.26 L1246.31 158.58 L1244.15 156.83 L1241.99 155.02 L1239.83 153.13 L1237.67 151.18 L1235.51 149.18 L1233.35 147.12 L1231.19 145.01 L1229.03 142.86 L1226.87 140.67 L1224.71 138.45 L1222.55 136.14 L1220.39 133.73 L1218.23 131.24 L1216.06 128.71 L1213.9 126.16 L1211.74 123.62 L1209.58 121.11 L1207.42 118.66 L1205.26 116.21 L1203.1 113.74 L1200.94 111.3 L1198.78 108.91 L1196.62 106.63 L1194.46 104.47 L1192.3 102.33 L1190.14 100.2 L1187.98 98.15 L1185.82 96.25 L1183.65 94.56 L1181.49 93.17 L1179.33 91.94 L1177.17 90.72 L1175.01 89.63 L1172.85 88.8 L1170.69 88.35 L1168.53 88.32 L1166.37 88.38 L1164.21 88.49 L1162.05 88.64 L1159.89 88.83 L1157.73 89.06 L1155.57 89.31 L1153.41 89.59 L1151.24 89.89 L1149.08 90.21 L1146.92 90.67 L1144.76 91.27 L1142.6 91.96 L1140.44 92.73 L1138.28 93.53 L1136.12 94.34 L1133.96 95.2 L1131.8 96.13 L1129.64 97.19 L1127.48 98.42 L1125.32 99.85 L1123.16 101.68 L1120.99 104.1 L1118.83 107.01 L1116.67 110.29 L1114.51 113.82z" fill="#0033A0" fill-opacity="0.2"/>
<path d="M1114.51 111.32 L1116.67 110.05 L1118.83 108.88 L1120.99 107.82 L1123.16 106.93 L1125.32 106.24 L1127.48 105.67 L1129.64 105.17 L1131.8 104.73 L1133.96 104.35 L1136.12 104.01 L1138.28 103.72 L1140.44 103.42 L1142.6 103.13 L1144.76 102.87 L1146.92 102.68 L1149.08 102.58 L1151.24 102.57 L1153.41 102.58 L1155.57 102.6 L1157.73 102.64 L1159.89 102.69 L1162.05 102.75 L1164.21 102.82 L1166.37 102.91 L1168.53 103 L1170.69 103.15 L1172.85 103.62 L1175.01 104.41 L1177.17 105.4 L1179.33 106.52 L1181.49 107.67 L1183.65 108.99 L1185.82 110.58 L1187.98 112.37 L1190.14 114.29 L1192.3 116.28 L1194.46 118.28 L1196.62 120.27 L1198.78 122.39 L1200.94 124.59 L1203.1 126.83 L1205.26 129.04 L1207.42 131.19 L1209.58 133.28 L1211.74 135.37 L1213.9 137.45 L1216.06 139.51 L1218.23 141.53 L1220.39 143.51 L1222.55 145.43 L1224.71 147.28 L1226.87 149.06 L1229.03 150.77 L1231.19 152.44 L1233.35 154.07 L1235.51 155.66 L1237.67 157.23 L1239.83 158.79 L1241.99 160.35 L1244.15 161.92 L1246.31 163.5 L1248.48 165.11 L1250.64 166.73 L1252.8 168.35 L1254.96 169.94 L1257.12 171.49 L1259.28 172.98 L1261.44 174.39 L1263.6 175.71 L1265.76 176.95 L1267.92 178.14 L1270.08 179.29 L1272.24 180.4 L1274.4 181.49 L1276.56 182.57 L1278.72 183.66 L1280.89 184.76 L1283.05 185.88 L1285.21 187.02 L1287.37 188.17 L1289.53 189.3 L1291.69 190.42 L1293.85 191.51 L1296.01 192.55 L1298.17 193.54 L1300.33 194.46 L1302.49 195.33 L1304.65 196.18 L1306.81 197 L1308.97 197.8 L1311.13 198.56 L1313.3 199.29 L1315.46 199.99 L1317.62 200.65 L1319.78 201.28 L1321.94 201.87 L1324.1 202.45 L1326.26 203 L1328.42 203.52 L1330.58 204.02 L1332.74 204.48 L1334.9 204.9 L1337.06 205.29 L1339.22 205.65 L1341.38 205.99 L1343.55 206.31 L1345.71 206.61 L1347.87 206.9 L1350.03 207.18 L1352.19 207.45 L1354.35 207.72 L1356.51 207.99 L1358.67 208.26 L1360.83 208.53 L1362.99 208.8 L1365.15 209.06 L1367.31 209.31 L1369.47 209.56 L1371.63 209.79 L1373.79 210.01 L1375.96 210.21 L1378.12 210.42 L1380.28 210.64 L1382.44 210.86 L1384.6 211.05 L1386.76 211.21 L1388.92 211.33 L1391.08 211.38 L1393.24 211.39 L1395.4 211.39 L1397.56 211.39 L1399.72 211.39 L1401.88 211.39 L1404.04 211.39 L1406.2 211.39 L1408.37 211.39 L1410.53 211.39 L1412.69 211.39 L1414.85 211.39 L1417.01 211.39 L1419.17 211.39 L1421.33 211.39 L1423.49 211.39 L1425.65 211.39 L1427.81 211.39 L1429.97 211.42 L1432.13 211.49 L1434.29 211.6 L1436.45 211.74 L1438.62 211.91 L1440.78 212.09 L1442.94 212.28 L1445.1 212.48 L1447.26 212.66 L1449.42 212.87 L1451.58 213.1 L1453.74 213.35 L1455.9 213.62 L1458.06 213.89" stroke="#EDA81A" stroke-width="1.4" fill="none" stroke-linejoin="round"/>
<path d="M1114.51 86.31 L1116.67 83.72 L1118.83 81.25 L1120.99 78.92 L1123.16 76.76 L1125.32 74.79 L1127.48 72.93 L1129.64 71.15 L1131.8 69.49 L1133.96 67.96 L1136.12 66.59 L1138.28 65.39 L1140.44 64.3 L1142.6 63.29 L1144.76 62.38 L1146.92 61.55 L1149.08 60.83 L1151.24 60.19 L1153.41 59.6 L1155.57 59.07 L1157.73 58.63 L1159.89 58.31 L1162.05 58.06 L1164.21 57.84 L1166.37 57.66 L1168.53 57.56 L1170.69 57.58 L1172.85 58.04 L1175.01 58.89 L1177.17 60.03 L1179.33 61.32 L1181.49 62.66 L1183.65 64.27 L1185.82 66.31 L1187.98 68.68 L1190.14 71.28 L1192.3 74.01 L1194.46 76.78 L1196.62 79.62 L1198.78 82.78 L1200.94 86.14 L1203.1 89.57 L1205.26 92.93 L1207.42 96.1 L1209.58 99.09 L1211.74 102.05 L1213.9 104.95 L1216.06 107.8 L1218.23 110.58 L1220.39 113.28 L1222.55 115.89 L1224.71 118.4 L1226.87 120.81 L1229.03 123.15 L1231.19 125.41 L1233.35 127.62 L1235.51 129.76 L1237.67 131.87 L1239.83 133.93 L1241.99 135.96 L1244.15 137.97 L1246.31 139.96 L1248.48 141.92 L1250.64 143.86 L1252.8 145.76 L1254.96 147.63 L1257.12 149.45 L1259.28 151.22 L1261.44 152.94 L1263.6 154.61 L1265.76 156.22 L1267.92 157.8 L1270.08 159.34 L1272.24 160.84 L1274.4 162.31 L1276.56 163.75 L1278.72 165.15 L1280.89 166.53 L1283.05 167.88 L1285.21 169.21 L1287.37 170.53 L1289.53 171.81 L1291.69 173.07 L1293.85 174.29 L1296.01 175.48 L1298.17 176.62 L1300.33 177.71 L1302.49 178.78 L1304.65 179.83 L1306.81 180.86 L1308.97 181.86 L1311.13 182.83 L1313.3 183.76 L1315.46 184.64 L1317.62 185.47 L1319.78 186.25 L1321.94 186.97 L1324.1 187.65 L1326.26 188.3 L1328.42 188.91 L1330.58 189.49 L1332.74 190.05 L1334.9 190.58 L1337.06 191.09 L1339.22 191.58 L1341.38 192.07 L1343.55 192.54 L1345.71 193 L1347.87 193.43 L1350.03 193.85 L1352.19 194.25 L1354.35 194.61 L1356.51 194.96 L1358.67 195.27 L1360.83 195.57 L1362.99 195.85 L1365.15 196.12 L1367.31 196.37 L1369.47 196.6 L1371.63 196.82 L1373.79 197.01 L1375.96 197.19 L1378.12 197.37 L1380.28 197.55 L1382.44 197.72 L1384.6 197.87 L1386.76 198 L1388.92 198.08 L1391.08 198.13 L1393.24 198.12 L1395.4 198.1 L1397.56 198.06 L1399.72 198.01 L1401.88 197.95 L1404.04 197.87 L1406.2 197.79 L1408.37 197.7 L1410.53 197.61 L1412.69 197.5 L1414.85 197.35 L1417.01 197.17 L1419.17 196.97 L1421.33 196.76 L1423.49 196.54 L1425.65 196.33 L1427.81 196.12 L1429.97 195.93 L1432.13 195.75 L1434.29 195.54 L1436.45 195.3 L1438.62 194.95 L1440.78 194.29 L1442.94 193.49 L1445.1 192.85 L1447.26 192.63 L1449.42 192.73 L1451.58 193.01 L1453.74 193.5 L1455.9 194.21 L1458.06 195.13" stroke="#1F3A93" stroke-width="1.4" fill="none" stroke-linejoin="round"/>
<g font-size="4.5" fill="#3a3a3a" stroke="#3a3a3a" stroke-width="0.12"><text x="1090" y="286.56" text-anchor="end">0e+00</text><text x="1090" y="183.74" text-anchor="end">1e+05</text><text x="1090" y="80.92" text-anchor="end">2e+05</text><text x="1482.5" y="286.56">0</text><text x="1482.5" y="183.74">10</text><text x="1482.5" y="80.92">20</text><text x="1114.51" y="305" text-anchor="middle">1990</text><text x="1225.33" y="305" text-anchor="middle">2000</text><text x="1336.16" y="305" text-anchor="middle">2010</text><text x="1446.98" y="305" text-anchor="middle">2020</text></g>
<g stroke="#000" stroke-width="0.14">
<text x="1286.5" y="311.5" font-size="5.6" text-anchor="middle" fill="#000" font-weight="normal">Year</text>
<text transform="translate(1075 152.5) rotate(-90)" font-size="5.6" text-anchor="middle" fill="#000">Incidence Number</text>
<text transform="translate(1490 152.5) rotate(90)" font-size="5.6" text-anchor="middle" fill="#000">Age-standardized Incidence rate per 100,000</text>
<text x="1503" y="126" font-size="5.6" fill="#000">Number</text>
<rect x="1503.2" y="129.6" width="8.2" height="7.8999999999999995" fill="#FFA607" stroke="none"/>
<rect x="1503.2" y="138.6" width="8.2" height="7.8999999999999995" fill="#0234A8" stroke="none"/>
<text x="1514.6" y="135.3" font-size="4.8" fill="#111">Female</text>
<text x="1514.6" y="144.4" font-size="4.8" fill="#111">Male</text>
<text x="1503" y="163.4" font-size="5.6" fill="#000">Rate</text>
<line x1="1504" x2="1511" y1="171.5" y2="171.5" stroke="#EDA81A" stroke-width="1.4"/>
<line x1="1504" x2="1511" y1="180.5" y2="180.5" stroke="#1F3A93" stroke-width="1.4"/>
<text x="1514.6" y="173.2" font-size="4.8" fill="#111">Female</text>
<text x="1514.6" y="182.2" font-size="4.8" fill="#111">Male</text>
</g>
<text transform="translate(1065.97 54.07) scale(0.8176 1)" font-size="32.56" fill="#000" stroke="#000" stroke-width="0.45" stroke-linejoin="round">C</text></g>
<!-- panel D -->
<g><g stroke="#efefef" stroke-width="0.5" fill="none"><line x1="83.5" x2="462" y1="646.19" y2="646.19"/><line x1="83.5" x2="462" y1="618.17" y2="618.17"/><line x1="83.5" x2="462" y1="590.4" y2="590.4"/><line x1="83.5" x2="462" y1="562.39" y2="562.39"/><line x1="83.5" x2="462" y1="534.37" y2="534.37"/><line x1="83.5" x2="462" y1="506.35" y2="506.35"/><line x1="83.5" x2="462" y1="478.33" y2="478.33"/><line x1="83.5" x2="462" y1="450.31" y2="450.31"/><line x1="83.5" x2="462" y1="422.29" y2="422.29"/><line x1="83.5" x2="462" y1="394.28" y2="394.28"/><line x1="105.01" x2="105.01" y1="366.5" y2="657"/><line x1="159.17" x2="159.17" y1="366.5" y2="657"/><line x1="213.33" x2="213.33" y1="366.5" y2="657"/><line x1="267.49" x2="267.49" y1="366.5" y2="657"/><line x1="321.65" x2="321.65" y1="366.5" y2="657"/><line x1="375.81" x2="375.81" y1="366.5" y2="657"/><line x1="429.97" x2="429.97" y1="366.5" y2="657"/></g>
<path d="M100.84 646.19h4.22V570.39h-4.22zM111.67 646.19h4.22V568.14h-4.22zM122.5 646.19h4.22V566.14h-4.22zM133.34 646.19h4.22V564.14h-4.22zM144.17 646.19h4.22V562.13h-4.22zM155 646.19h4.22V560.13h-4.22zM165.83 646.19h4.22V558.13h-4.22zM176.66 646.19h4.22V555.88h-4.22zM187.5 646.19h4.22V553.88h-4.22zM198.33 646.19h4.22V551.63h-4.22zM209.16 646.19h4.22V549.13h-4.22zM219.99 646.19h4.22V546.62h-4.22zM230.82 646.19h4.22V543.62h-4.22zM241.66 646.19h4.22V540.37h-4.22zM252.49 646.19h4.22V536.87h-4.22zM263.32 646.19h4.22V533.12h-4.22zM274.15 646.19h4.22V528.36h-4.22zM284.98 646.19h4.22V523.11h-4.22zM295.82 646.19h4.22V517.36h-4.22zM306.65 646.19h4.22V511.1h-4.22zM317.48 646.19h4.22V505.1h-4.22zM328.31 646.19h4.22V499.09h-4.22zM339.14 646.19h4.22V492.59h-4.22zM349.98 646.19h4.22V485.84h-4.22zM360.81 646.19h4.22V478.83h-4.22zM371.64 646.19h4.22V471.83h-4.22zM382.47 646.19h4.22V464.57h-4.22zM393.3 646.19h4.22V457.07h-4.22zM404.14 646.19h4.22V449.56h-4.22zM414.97 646.19h4.22V442.06h-4.22zM425.8 646.19h4.22V435.05h-4.22zM436.63 646.19h4.22V418.04h-4.22z" fill="#FFA607"/>
<path d="M105.55 646.19h3.63V574.89h-3.63zM116.38 646.19h3.63V572.14h-3.63zM127.22 646.19h3.63V569.39h-3.63zM138.05 646.19h3.63V566.64h-3.63zM148.88 646.19h3.63V563.89h-3.63zM159.71 646.19h3.63V561.13h-3.63zM170.54 646.19h3.63V558.13h-3.63zM181.38 646.19h3.63V555.38h-3.63zM192.21 646.19h3.63V552.38h-3.63zM203.04 646.19h3.63V549.38h-3.63zM213.87 646.19h3.63V546.12h-3.63zM224.7 646.19h3.63V542.12h-3.63zM235.54 646.19h3.63V537.87h-3.63zM246.37 646.19h3.63V533.12h-3.63zM257.2 646.19h3.63V528.11h-3.63zM268.03 646.19h3.63V523.11h-3.63zM278.86 646.19h3.63V517.11h-3.63zM289.7 646.19h3.63V510.35h-3.63zM300.53 646.19h3.63V503.6h-3.63zM311.36 646.19h3.63V496.34h-3.63zM322.19 646.19h3.63V489.34h-3.63zM333.02 646.19h3.63V482.58h-3.63zM343.86 646.19h3.63V475.58h-3.63zM354.69 646.19h3.63V468.57h-3.63zM365.52 646.19h3.63V461.32h-3.63zM376.35 646.19h3.63V454.06h-3.63zM387.18 646.19h3.63V447.06h-3.63zM398.02 646.19h3.63V439.56h-3.63zM408.85 646.19h3.63V432.05h-3.63zM419.68 646.19h3.63V424.55h-3.63zM430.51 646.19h3.63V418.04h-3.63zM441.34 646.19h3.63V408.53h-3.63z" fill="#0234A8"/>
<path d="M102.95 562.13V577.21M102.26 562.13h1.38M102.26 577.21h1.38M113.78 560.59V575.16M113.09 560.59h1.38M113.09 575.16h1.38M124.62 558.85V573.34M123.93 558.85h1.38M123.93 573.34h1.38M135.45 556.94V571.52M134.76 556.94h1.38M134.76 571.52h1.38M146.28 554.87V569.7M145.59 554.87h1.38M145.59 569.7h1.38M157.11 552.64V567.88M156.42 552.64h1.38M156.42 567.88h1.38M167.94 550.29V566.06M167.25 550.29h1.38M167.25 566.06h1.38M178.78 547.82V564.01M178.09 547.82h1.38M178.09 564.01h1.38M189.61 545.25V562.19M188.92 545.25h1.38M188.92 562.19h1.38M200.44 542.6V560.14M199.75 542.6h1.38M199.75 560.14h1.38M211.27 539.87V557.86M210.58 539.87h1.38M210.58 557.86h1.38M222.1 537.04V555.59M221.41 537.04h1.38M221.41 555.59h1.38M232.94 534V552.85M232.25 534h1.38M232.25 552.85h1.38M243.77 530.67V549.89M243.08 530.67h1.38M243.08 549.89h1.38M254.6 526.98V546.71M253.91 526.98h1.38M253.91 546.71h1.38M265.43 522.86V543.29M264.74 522.86h1.38M264.74 543.29h1.38M276.26 517.95V538.97M275.57 517.95h1.38M275.57 538.97h1.38M287.1 512.16V534.19M286.41 512.16h1.38M286.41 534.19h1.38M297.93 505.77V528.95M297.24 505.77h1.38M297.24 528.95h1.38M308.76 499.07V523.26M308.07 499.07h1.38M308.07 523.26h1.38M319.59 492.34V517.8M318.9 492.34h1.38M318.9 517.8h1.38M330.42 485.52V512.33M329.73 485.52h1.38M329.73 512.33h1.38M341.26 478.41V506.41M340.57 478.41h1.38M340.57 506.41h1.38M352.09 471.06V500.27M351.4 471.06h1.38M351.4 500.27h1.38M362.92 463.51V493.89M362.23 463.51h1.38M362.23 493.89h1.38M373.75 455.82V487.52M373.06 455.82h1.38M373.06 487.52h1.38M384.59 447.97V480.92M383.89 447.97h1.38M383.89 480.92h1.38M395.42 439.83V474.09M394.73 439.83h1.38M394.73 474.09h1.38M406.25 431.3V467.26M405.56 431.3h1.38M405.56 467.26h1.38M417.08 423.05V460.43M416.39 423.05h1.38M416.39 460.43h1.38M427.91 412.54V454.05M427.22 412.54h1.38M427.22 454.05h1.38M438.75 392.52V438.57M438.05 392.52h1.38M438.05 438.57h1.38M107.36 566.39V581.31M106.67 566.39h1.38M106.67 581.31h1.38M118.19 563.72V578.81M117.5 563.72h1.38M117.5 578.81h1.38M129.02 560.99V576.3M128.33 560.99h1.38M128.33 576.3h1.38M139.86 558.18V573.8M139.17 558.18h1.38M139.17 573.8h1.38M150.69 555.31V571.29M150 555.31h1.38M150 571.29h1.38M161.52 552.38V568.79M160.83 552.38h1.38M160.83 568.79h1.38M172.35 549.46V566.06M171.66 549.46h1.38M171.66 566.06h1.38M183.18 546.56V563.55M182.49 546.56h1.38M182.49 563.55h1.38M194.02 543.54V560.82M193.33 543.54h1.38M193.33 560.82h1.38M204.85 540.27V558.09M204.16 540.27h1.38M204.16 558.09h1.38M215.68 536.62V555.13M214.99 536.62h1.38M214.99 555.13h1.38M226.51 532.46V551.49M225.82 532.46h1.38M225.82 551.49h1.38M237.34 527.78V547.62M236.65 527.78h1.38M236.65 547.62h1.38M248.18 522.66V543.29M247.49 522.66h1.38M247.49 543.29h1.38M259.01 517.16V538.74M258.32 517.16h1.38M258.32 538.74h1.38M269.84 511.35V534.19M269.15 511.35h1.38M269.15 534.19h1.38M280.67 504.97V528.72M279.98 504.97h1.38M279.98 528.72h1.38M291.51 497.9V522.58M290.81 497.9h1.38M290.81 522.58h1.38M302.34 490.42V516.43M301.65 490.42h1.38M301.65 516.43h1.38M313.17 482.8V509.83M312.48 482.8h1.38M312.48 509.83h1.38M324 475.33V503.45M323.31 475.33h1.38M323.31 503.45h1.38M334.83 468.11V497.31M334.14 468.11h1.38M334.14 497.31h1.38M345.67 460.96V490.93M344.97 460.96h1.38M344.97 490.93h1.38M356.5 453.72V484.56M355.81 453.72h1.38M355.81 484.56h1.38M367.33 446.22V477.96M366.64 446.22h1.38M366.64 477.96h1.38M378.16 438.3V471.36M377.47 438.3h1.38M377.47 471.36h1.38M388.99 429.55V464.98M388.3 429.55h1.38M388.3 464.98h1.38M399.83 421.29V458.15M399.14 421.29h1.38M399.14 458.15h1.38M410.66 412.54V451.32M409.97 412.54h1.38M409.97 451.32h1.38M421.49 403.78V444.49M420.8 403.78h1.38M420.8 444.49h1.38M432.32 396.53V438.57M431.63 396.53h1.38M431.63 438.57h1.38M443.15 380.77V429.92M442.46 380.77h1.38M442.46 429.92h1.38" stroke="#000" stroke-width="1.1" fill="none" opacity="0.55"/>
<path d="M105.01 460.29 L107.12 460.29 L109.23 460.29 L111.35 460.29 L113.46 460.29 L115.57 460.29 L117.68 460.29 L119.79 460.29 L121.91 460.29 L124.02 460.29 L126.13 460.29 L128.24 460.29 L130.35 460.29 L132.46 460.29 L134.58 460.29 L136.69 460.29 L138.8 460.29 L140.91 460.29 L143.02 460.29 L145.14 460.29 L147.25 460.29 L149.36 460.29 L151.47 460.29 L153.58 460.29 L155.7 460.29 L157.81 460.29 L159.92 460.29 L162.03 460.29 L164.14 460.28 L166.26 460.26 L168.37 460.23 L170.48 460.2 L172.59 460.16 L174.7 460.12 L176.81 460.07 L178.93 460.02 L181.04 459.96 L183.15 459.9 L185.26 459.83 L187.37 459.76 L189.49 459.69 L191.6 459.61 L193.71 459.53 L195.82 459.44 L197.93 459.36 L200.05 459.27 L202.16 459.17 L204.27 459.08 L206.38 458.98 L208.49 458.89 L210.61 458.79 L212.72 458.69 L214.83 458.59 L216.94 458.47 L219.05 458.33 L221.16 458.18 L223.28 458.02 L225.39 457.85 L227.5 457.66 L229.61 457.47 L231.72 457.26 L233.84 457.05 L235.95 456.83 L238.06 456.6 L240.17 456.37 L242.28 456.13 L244.4 455.87 L246.51 455.6 L248.62 455.32 L250.73 455.02 L252.84 454.7 L254.96 454.37 L257.07 454.02 L259.18 453.66 L261.29 453.28 L263.4 452.88 L265.51 452.47 L267.63 452.05 L269.74 451.59 L271.85 451.08 L273.96 450.52 L276.07 449.93 L278.19 449.31 L280.3 448.66 L282.41 447.95 L284.52 447.15 L286.63 446.28 L288.75 445.41 L290.86 444.55 L292.97 443.75 L295.08 443.04 L297.19 442.38 L299.31 441.74 L301.42 441.11 L303.53 440.51 L305.64 439.92 L307.75 439.35 L309.86 438.8 L311.98 438.27 L314.09 437.76 L316.2 437.28 L318.31 436.82 L320.42 436.38 L322.54 435.96 L324.65 435.56 L326.76 435.19 L328.87 434.82 L330.98 434.47 L333.1 434.14 L335.21 433.81 L337.32 433.49 L339.43 433.19 L341.54 432.89 L343.66 432.59 L345.77 432.3 L347.88 432.01 L349.99 431.73 L352.1 431.46 L354.22 431.2 L356.33 430.95 L358.44 430.7 L360.55 430.46 L362.66 430.22 L364.77 429.98 L366.89 429.74 L369 429.5 L371.11 429.25 L373.22 428.99 L375.33 428.72 L377.45 428.44 L379.56 428.15 L381.67 427.85 L383.78 427.54 L385.89 427.23 L388.01 426.91 L390.12 426.58 L392.23 426.26 L394.34 425.94 L396.45 425.62 L398.57 425.3 L400.68 425 L402.79 424.7 L404.9 424.41 L407.01 424.14 L409.12 423.9 L411.24 423.67 L413.35 423.44 L415.46 423.21 L417.57 422.96 L419.68 422.69 L421.8 422.38 L423.91 422.02 L426.02 421.62 L428.13 421.09 L430.24 420.29 L432.36 418.24 L434.47 415.53 L436.58 413.47 L438.69 411.7 L440.8 410.34 L440.8 448.57 L438.69 450.58 L436.58 452.89 L434.47 454.94 L432.36 456.47 L430.24 457.22 L428.13 457.35 L426.02 457.45 L423.91 457.54 L421.8 457.6 L419.68 457.66 L417.57 457.71 L415.46 457.75 L413.35 457.78 L411.24 457.82 L409.12 457.85 L407.01 457.9 L404.9 457.95 L402.79 458 L400.68 458.05 L398.57 458.09 L396.45 458.13 L394.34 458.17 L392.23 458.21 L390.12 458.25 L388.01 458.29 L385.89 458.34 L383.78 458.39 L381.67 458.45 L379.56 458.52 L377.45 458.59 L375.33 458.68 L373.22 458.82 L371.11 459 L369 459.23 L366.89 459.5 L364.77 459.8 L362.66 460.14 L360.55 460.49 L358.44 460.86 L356.33 461.24 L354.22 461.63 L352.1 462.01 L349.99 462.39 L347.88 462.76 L345.77 463.15 L343.66 463.54 L341.54 463.96 L339.43 464.38 L337.32 464.83 L335.21 465.28 L333.1 465.75 L330.98 466.23 L328.87 466.73 L326.76 467.23 L324.65 467.75 L322.54 468.27 L320.42 468.81 L318.31 469.39 L316.2 469.99 L314.09 470.61 L311.98 471.26 L309.86 471.92 L307.75 472.59 L305.64 473.27 L303.53 473.95 L301.42 474.63 L299.31 475.29 L297.19 475.95 L295.08 476.59 L292.97 477.22 L290.86 477.88 L288.75 478.56 L286.63 479.25 L284.52 479.94 L282.41 480.63 L280.3 481.29 L278.19 481.94 L276.07 482.54 L273.96 483.1 L271.85 483.61 L269.74 484.05 L267.63 484.42 L265.51 484.74 L263.4 485.03 L261.29 485.3 L259.18 485.55 L257.07 485.78 L254.96 486 L252.84 486.21 L250.73 486.41 L248.62 486.6 L246.51 486.78 L244.4 486.96 L242.28 487.13 L240.17 487.31 L238.06 487.48 L235.95 487.65 L233.84 487.81 L231.72 487.97 L229.61 488.12 L227.5 488.27 L225.39 488.41 L223.28 488.55 L221.16 488.69 L219.05 488.82 L216.94 488.94 L214.83 489.07 L212.72 489.18 L210.61 489.3 L208.49 489.4 L206.38 489.51 L204.27 489.61 L202.16 489.71 L200.05 489.8 L197.93 489.9 L195.82 489.99 L193.71 490.08 L191.6 490.17 L189.49 490.26 L187.37 490.34 L185.26 490.42 L183.15 490.5 L181.04 490.58 L178.93 490.66 L176.81 490.73 L174.7 490.81 L172.59 490.89 L170.48 490.98 L168.37 491.06 L166.26 491.15 L164.14 491.25 L162.03 491.35 L159.92 491.45 L157.81 491.57 L155.7 491.69 L153.58 491.81 L151.47 491.94 L149.36 492.07 L147.25 492.22 L145.14 492.36 L143.02 492.52 L140.91 492.68 L138.8 492.85 L136.69 493.03 L134.58 493.21 L132.46 493.41 L130.35 493.61 L128.24 493.82 L126.13 494.05 L124.02 494.3 L121.91 494.58 L119.79 494.87 L117.68 495.19 L115.57 495.52 L113.46 495.87 L111.35 496.23 L109.23 496.6 L107.12 496.99 L105.01 497.35z" fill="#FFA500" fill-opacity="0.2"/>
<path d="M105.01 445.52 L107.12 445.26 L109.23 444.97 L111.35 444.69 L113.46 444.41 L115.57 444.14 L117.68 443.86 L119.79 443.59 L121.91 443.31 L124.02 443.04 L126.13 442.77 L128.24 442.5 L130.35 442.23 L132.46 441.97 L134.58 441.7 L136.69 441.44 L138.8 441.18 L140.91 440.92 L143.02 440.66 L145.14 440.4 L147.25 440.15 L149.36 439.89 L151.47 439.64 L153.58 439.39 L155.7 439.14 L157.81 438.89 L159.92 438.65 L162.03 438.41 L164.14 438.18 L166.26 437.96 L168.37 437.75 L170.48 437.54 L172.59 437.34 L174.7 437.14 L176.81 436.94 L178.93 436.75 L181.04 436.55 L183.15 436.36 L185.26 436.16 L187.37 435.96 L189.49 435.76 L191.6 435.55 L193.71 435.34 L195.82 435.12 L197.93 434.89 L200.05 434.65 L202.16 434.41 L204.27 434.15 L206.38 433.88 L208.49 433.59 L210.61 433.29 L212.72 432.98 L214.83 432.64 L216.94 432.26 L219.05 431.84 L221.16 431.39 L223.28 430.9 L225.39 430.39 L227.5 429.86 L229.61 429.31 L231.72 428.74 L233.84 428.17 L235.95 427.59 L238.06 427.01 L240.17 426.43 L242.28 425.86 L244.4 425.27 L246.51 424.67 L248.62 424.06 L250.73 423.44 L252.84 422.8 L254.96 422.16 L257.07 421.5 L259.18 420.82 L261.29 420.14 L263.4 419.44 L265.51 418.74 L267.63 418.02 L269.74 417.27 L271.85 416.47 L273.96 415.65 L276.07 414.8 L278.19 413.93 L280.3 413.05 L282.41 412.18 L284.52 411.31 L286.63 410.46 L288.75 409.63 L290.86 408.84 L292.97 408.09 L295.08 407.39 L297.19 406.71 L299.31 406.04 L301.42 405.39 L303.53 404.75 L305.64 404.12 L307.75 403.51 L309.86 402.92 L311.98 402.35 L314.09 401.8 L316.2 401.27 L318.31 400.76 L320.42 400.28 L322.54 399.83 L324.65 399.39 L326.76 398.98 L328.87 398.57 L330.98 398.19 L333.1 397.82 L335.21 397.45 L337.32 397.1 L339.43 396.76 L341.54 396.42 L343.66 396.09 L345.77 395.76 L347.88 395.44 L349.99 395.12 L352.1 394.81 L354.22 394.5 L356.33 394.21 L358.44 393.92 L360.55 393.63 L362.66 393.35 L364.77 393.08 L366.89 392.8 L369 392.52 L371.11 392.24 L373.22 391.96 L375.33 391.67 L377.45 391.38 L379.56 391.07 L381.67 390.75 L383.78 390.43 L385.89 390.1 L388.01 389.77 L390.12 389.44 L392.23 389.12 L394.34 388.82 L396.45 388.53 L398.57 388.25 L400.68 388 L402.79 387.78 L404.9 387.59 L407.01 387.41 L409.12 387.22 L411.24 387.04 L413.35 386.88 L415.46 386.72 L417.57 386.59 L419.68 386.5 L421.8 386.44 L423.91 386.42 L426.02 386.42 L428.13 386.42 L430.24 386.4 L432.36 385.24 L434.47 383.46 L436.58 382.36 L438.69 381.54 L440.8 381.02 L440.8 430.51 L438.69 430.07 L436.58 429.56 L434.47 429.11 L432.36 428.78 L430.24 428.63 L428.13 428.63 L426.02 428.63 L423.91 428.63 L421.8 428.63 L419.68 428.63 L417.57 428.63 L415.46 428.63 L413.35 428.63 L411.24 428.63 L409.12 428.63 L407.01 428.63 L404.9 428.63 L402.79 428.64 L400.68 428.65 L398.57 428.68 L396.45 428.71 L394.34 428.75 L392.23 428.8 L390.12 428.86 L388.01 428.92 L385.89 428.99 L383.78 429.06 L381.67 429.13 L379.56 429.21 L377.45 429.28 L375.33 429.36 L373.22 429.46 L371.11 429.56 L369 429.69 L366.89 429.82 L364.77 429.97 L362.66 430.14 L360.55 430.31 L358.44 430.49 L356.33 430.68 L354.22 430.88 L352.1 431.09 L349.99 431.3 L347.88 431.52 L345.77 431.76 L343.66 432.02 L341.54 432.29 L339.43 432.59 L337.32 432.9 L335.21 433.23 L333.1 433.58 L330.98 433.93 L328.87 434.31 L326.76 434.69 L324.65 435.09 L322.54 435.49 L320.42 435.91 L318.31 436.34 L316.2 436.79 L314.09 437.27 L311.98 437.76 L309.86 438.28 L307.75 438.82 L305.64 439.38 L303.53 439.97 L301.42 440.58 L299.31 441.21 L297.19 441.88 L295.08 442.56 L292.97 443.31 L290.86 444.15 L288.75 445.07 L286.63 446.04 L284.52 447.02 L282.41 447.99 L280.3 448.93 L278.19 449.85 L276.07 450.78 L273.96 451.71 L271.85 452.62 L269.74 453.51 L267.63 454.36 L265.51 455.19 L263.4 456.01 L261.29 456.83 L259.18 457.64 L257.07 458.43 L254.96 459.21 L252.84 459.98 L250.73 460.72 L248.62 461.43 L246.51 462.12 L244.4 462.77 L242.28 463.38 L240.17 463.96 L238.06 464.51 L235.95 465.05 L233.84 465.58 L231.72 466.09 L229.61 466.58 L227.5 467.05 L225.39 467.51 L223.28 467.94 L221.16 468.36 L219.05 468.75 L216.94 469.12 L214.83 469.47 L212.72 469.79 L210.61 470.09 L208.49 470.38 L206.38 470.64 L204.27 470.9 L202.16 471.14 L200.05 471.37 L197.93 471.59 L195.82 471.81 L193.71 472.03 L191.6 472.24 L189.49 472.43 L187.37 472.62 L185.26 472.79 L183.15 472.95 L181.04 473.12 L178.93 473.28 L176.81 473.43 L174.7 473.6 L172.59 473.76 L170.48 473.94 L168.37 474.12 L166.26 474.32 L164.14 474.52 L162.03 474.75 L159.92 475 L157.81 475.27 L155.7 475.56 L153.58 475.89 L151.47 476.24 L149.36 476.61 L147.25 477.01 L145.14 477.43 L143.02 477.87 L140.91 478.33 L138.8 478.8 L136.69 479.29 L134.58 479.79 L132.46 480.31 L130.35 480.84 L128.24 481.38 L126.13 481.94 L124.02 482.53 L121.91 483.17 L119.79 483.83 L117.68 484.53 L115.57 485.25 L113.46 486 L111.35 486.77 L109.23 487.56 L107.12 488.37 L105.01 489.14z" fill="#0033A0" fill-opacity="0.2"/>
<path d="M105.01 479.06 L107.12 478.94 L109.23 478.83 L111.35 478.71 L113.46 478.6 L115.57 478.48 L117.68 478.37 L119.79 478.27 L121.91 478.16 L124.02 478.06 L126.13 477.96 L128.24 477.86 L130.35 477.76 L132.46 477.67 L134.58 477.58 L136.69 477.49 L138.8 477.4 L140.91 477.32 L143.02 477.24 L145.14 477.16 L147.25 477.09 L149.36 477.01 L151.47 476.94 L153.58 476.88 L155.7 476.81 L157.81 476.75 L159.92 476.69 L162.03 476.64 L164.14 476.59 L166.26 476.54 L168.37 476.5 L170.48 476.45 L172.59 476.41 L174.7 476.37 L176.81 476.33 L178.93 476.29 L181.04 476.26 L183.15 476.22 L185.26 476.18 L187.37 476.14 L189.49 476.1 L191.6 476.05 L193.71 476.01 L195.82 475.96 L197.93 475.92 L200.05 475.87 L202.16 475.83 L204.27 475.78 L206.38 475.73 L208.49 475.68 L210.61 475.62 L212.72 475.56 L214.83 475.5 L216.94 475.43 L219.05 475.36 L221.16 475.29 L223.28 475.22 L225.39 475.14 L227.5 475.05 L229.61 474.96 L231.72 474.87 L233.84 474.76 L235.95 474.65 L238.06 474.53 L240.17 474.4 L242.28 474.26 L244.4 474.08 L246.51 473.88 L248.62 473.66 L250.73 473.42 L252.84 473.15 L254.96 472.86 L257.07 472.56 L259.18 472.24 L261.29 471.9 L263.4 471.55 L265.51 471.19 L267.63 470.82 L269.74 470.4 L271.85 469.94 L273.96 469.43 L276.07 468.87 L278.19 468.28 L280.3 467.67 L282.41 467.04 L284.52 466.39 L286.63 465.74 L288.75 465.09 L290.86 464.45 L292.97 463.83 L295.08 463.22 L297.19 462.62 L299.31 462 L301.42 461.37 L303.53 460.74 L305.64 460.11 L307.75 459.47 L309.86 458.85 L311.98 458.23 L314.09 457.62 L316.2 457.03 L318.31 456.46 L320.42 455.9 L322.54 455.38 L324.65 454.87 L326.76 454.37 L328.87 453.87 L330.98 453.39 L333.1 452.92 L335.21 452.46 L337.32 452.01 L339.43 451.57 L341.54 451.13 L343.66 450.71 L345.77 450.29 L347.88 449.88 L349.99 449.47 L352.1 449.08 L354.22 448.69 L356.33 448.32 L358.44 447.94 L360.55 447.58 L362.66 447.22 L364.77 446.87 L366.89 446.52 L369 446.17 L371.11 445.83 L373.22 445.5 L375.33 445.16 L377.45 444.83 L379.56 444.49 L381.67 444.15 L383.78 443.81 L385.89 443.47 L388.01 443.14 L390.12 442.81 L392.23 442.49 L394.34 442.18 L396.45 441.88 L398.57 441.59 L400.68 441.32 L402.79 441.06 L404.9 440.83 L407.01 440.61 L409.12 440.41 L411.24 440.23 L413.35 440.06 L415.46 439.89 L417.57 439.72 L419.68 439.55 L421.8 439.36 L423.91 439.16 L426.02 438.98 L428.13 438.77 L430.24 438.42 L432.36 437.27 L434.47 435.38 L436.58 432.96 L438.69 430 L440.8 428.63" stroke="#EDA81A" stroke-width="1.4" fill="none" stroke-linejoin="round"/>
<path d="M105.01 468.97 L107.12 468.61 L109.23 468.23 L111.35 467.85 L113.46 467.48 L115.57 467.1 L117.68 466.73 L119.79 466.36 L121.91 465.99 L124.02 465.62 L126.13 465.26 L128.24 464.9 L130.35 464.54 L132.46 464.18 L134.58 463.82 L136.69 463.47 L138.8 463.12 L140.91 462.77 L143.02 462.42 L145.14 462.08 L147.25 461.74 L149.36 461.4 L151.47 461.06 L153.58 460.72 L155.7 460.39 L157.81 460.06 L159.92 459.73 L162.03 459.42 L164.14 459.11 L166.26 458.81 L168.37 458.51 L170.48 458.22 L172.59 457.94 L174.7 457.67 L176.81 457.39 L178.93 457.12 L181.04 456.85 L183.15 456.58 L185.26 456.31 L187.37 456.03 L189.49 455.76 L191.6 455.48 L193.71 455.19 L195.82 454.9 L197.93 454.6 L200.05 454.3 L202.16 453.98 L204.27 453.66 L206.38 453.32 L208.49 452.97 L210.61 452.61 L212.72 452.23 L214.83 451.84 L216.94 451.42 L219.05 450.98 L221.16 450.52 L223.28 450.03 L225.39 449.54 L227.5 449.02 L229.61 448.49 L231.72 447.94 L233.84 447.39 L235.95 446.82 L238.06 446.25 L240.17 445.67 L242.28 445.08 L244.4 444.47 L246.51 443.84 L248.62 443.19 L250.73 442.52 L252.84 441.84 L254.96 441.15 L257.07 440.44 L259.18 439.72 L261.29 439 L263.4 438.26 L265.51 437.52 L267.63 436.78 L269.74 436.01 L271.85 435.21 L273.96 434.38 L276.07 433.53 L278.19 432.66 L280.3 431.79 L282.41 430.93 L284.52 430.07 L286.63 429.23 L288.75 428.4 L290.86 427.61 L292.97 426.86 L295.08 426.15 L297.19 425.45 L299.31 424.77 L301.42 424.09 L303.53 423.42 L305.64 422.76 L307.75 422.13 L309.86 421.51 L311.98 420.91 L314.09 420.34 L316.2 419.8 L318.31 419.29 L320.42 418.81 L322.54 418.36 L324.65 417.94 L326.76 417.54 L328.87 417.16 L330.98 416.79 L333.1 416.44 L335.21 416.1 L337.32 415.77 L339.43 415.45 L341.54 415.14 L343.66 414.82 L345.77 414.51 L347.88 414.2 L349.99 413.88 L352.1 413.56 L354.22 413.24 L356.33 412.92 L358.44 412.6 L360.55 412.29 L362.66 411.98 L364.77 411.68 L366.89 411.4 L369 411.12 L371.11 410.87 L373.22 410.63 L375.33 410.41 L377.45 410.21 L379.56 410.01 L381.67 409.82 L383.78 409.64 L385.89 409.47 L388.01 409.3 L390.12 409.14 L392.23 408.99 L394.34 408.84 L396.45 408.7 L398.57 408.57 L400.68 408.45 L402.79 408.33 L404.9 408.23 L407.01 408.12 L409.12 408.01 L411.24 407.91 L413.35 407.8 L415.46 407.71 L417.57 407.63 L419.68 407.57 L421.8 407.54 L423.91 407.53 L426.02 407.75 L428.13 408.08 L430.24 408.23 L432.36 408.13 L434.47 407.89 L436.58 407.5 L438.69 406.95 L440.8 406.35" stroke="#1F3A93" stroke-width="1.4" fill="none" stroke-linejoin="round"/>
<g font-size="4.5" fill="#3a3a3a" stroke="#3a3a3a" stroke-width="0.12"><text x="80.9" y="647.81" text-anchor="end">0.0e+00</text><text x="80.9" y="592.02" text-anchor="end">2.5e+06</text><text x="80.9" y="535.99" text-anchor="end">5.0e+06</text><text x="80.9" y="479.95" text-anchor="end">7.5e+06</text><text x="80.9" y="423.91" text-anchor="end">1.0e+07</text><text x="464" y="647.81">0</text><text x="464" y="592.02">250</text><text x="464" y="535.99">500</text><text x="464" y="479.95">750</text><text x="464" y="423.91">1000</text><text x="105.01" y="665.7" text-anchor="middle">1990</text><text x="213.33" y="665.7" text-anchor="middle">2000</text><text x="321.65" y="665.7" text-anchor="middle">2010</text><text x="429.97" y="665.7" text-anchor="middle">2020</text></g>
<g stroke="#000" stroke-width="0.14">
<text x="272.5" y="672.3" font-size="5.6" text-anchor="middle" fill="#000" font-weight="normal">Year</text>
<text transform="translate(62 513.5) rotate(-90)" font-size="5.6" text-anchor="middle" fill="#000">Prevalence Number</text>
<text transform="translate(476.5 513.5) rotate(90)" font-size="5.6" text-anchor="middle" fill="#000">Age-standardized Prevalence rate per 100,000</text>
<text x="489.5" y="486.7" font-size="5.6" fill="#000">Number</text>
<rect x="489.7" y="490.3" width="8.2" height="7.8999999999999995" fill="#FFA607" stroke="none"/>
<rect x="489.7" y="499.3" width="8.2" height="7.8999999999999995" fill="#0234A8" stroke="none"/>
<text x="501.1" y="496" font-size="4.8" fill="#111">Female</text>
<text x="501.1" y="505.1" font-size="4.8" fill="#111">Male</text>
<text x="489.5" y="524.1" font-size="5.6" fill="#000">Rate</text>
<line x1="490.5" x2="497.5" y1="532.2" y2="532.2" stroke="#EDA81A" stroke-width="1.4"/>
<line x1="490.5" x2="497.5" y1="541.2" y2="541.2" stroke="#1F3A93" stroke-width="1.4"/>
<text x="501.1" y="533.9" font-size="4.8" fill="#111">Female</text>
<text x="501.1" y="542.9" font-size="4.8" fill="#111">Male</text>
</g>
<text transform="translate(6.39 413.77) scale(0.9105 1)" font-size="32.56" fill="#000" stroke="#000" stroke-width="0.45" stroke-linejoin="round">D</text></g>
<!-- panel E -->
<g><g stroke="#efefef" stroke-width="0.5" fill="none"><line x1="587" x2="970.5" y1="646.19" y2="646.19"/><line x1="587" x2="970.5" y1="609.92" y2="609.92"/><line x1="587" x2="970.5" y1="573.64" y2="573.64"/><line x1="587" x2="970.5" y1="537.37" y2="537.37"/><line x1="587" x2="970.5" y1="501.1" y2="501.1"/><line x1="587" x2="970.5" y1="464.82" y2="464.82"/><line x1="587" x2="970.5" y1="428.55" y2="428.55"/><line x1="587" x2="970.5" y1="392.27" y2="392.27"/><line x1="608.01" x2="608.01" y1="366.5" y2="657"/><line x1="663.05" x2="663.05" y1="366.5" y2="657"/><line x1="718.08" x2="718.08" y1="366.5" y2="657"/><line x1="773.12" x2="773.12" y1="366.5" y2="657"/><line x1="828.16" x2="828.16" y1="366.5" y2="657"/><line x1="883.19" x2="883.19" y1="366.5" y2="657"/><line x1="938.23" x2="938.23" y1="366.5" y2="657"/></g>
<path d="M603.77 646.19h4.29V540.12h-4.29zM614.78 646.19h4.29V538.37h-4.29zM625.79 646.19h4.29V536.87h-4.29zM636.8 646.19h4.29V535.62h-4.29zM647.8 646.19h4.29V534.37h-4.29zM658.81 646.19h4.29V533.12h-4.29zM669.82 646.19h4.29V531.87h-4.29zM680.82 646.19h4.29V530.86h-4.29zM691.83 646.19h4.29V529.86h-4.29zM702.84 646.19h4.29V528.86h-4.29zM713.85 646.19h4.29V527.61h-4.29zM724.85 646.19h4.29V526.36h-4.29zM735.86 646.19h4.29V525.36h-4.29zM746.87 646.19h4.29V524.36h-4.29zM757.87 646.19h4.29V523.86h-4.29zM768.88 646.19h4.29V523.36h-4.29zM779.89 646.19h4.29V523.11h-4.29zM790.9 646.19h4.29V523.11h-4.29zM801.9 646.19h4.29V523.11h-4.29zM812.91 646.19h4.29V523.61h-4.29zM823.92 646.19h4.29V523.86h-4.29zM834.92 646.19h4.29V524.36h-4.29zM845.93 646.19h4.29V525.11h-4.29zM856.94 646.19h4.29V526.11h-4.29zM867.95 646.19h4.29V526.86h-4.29zM878.95 646.19h4.29V527.11h-4.29zM889.96 646.19h4.29V527.11h-4.29zM900.97 646.19h4.29V527.11h-4.29zM911.97 646.19h4.29V526.86h-4.29zM922.98 646.19h4.29V526.11h-4.29zM933.99 646.19h4.29V523.86h-4.29zM945 646.19h4.29V516.36h-4.29z" fill="#FFA607"/>
<path d="M608.56 646.19h3.69V526.36h-3.69zM619.57 646.19h3.69V524.11h-3.69zM630.58 646.19h3.69V521.61h-3.69zM641.58 646.19h3.69V519.36h-3.69zM652.59 646.19h3.69V517.11h-3.69zM663.6 646.19h3.69V514.6h-3.69zM674.61 646.19h3.69V512.1h-3.69zM685.61 646.19h3.69V509.1h-3.69zM696.62 646.19h3.69V506.1h-3.69zM707.63 646.19h3.69V503.1h-3.69zM718.63 646.19h3.69V500.09h-3.69zM729.64 646.19h3.69V497.09h-3.69zM740.65 646.19h3.69V494.59h-3.69zM751.66 646.19h3.69V492.34h-3.69zM762.66 646.19h3.69V489.59h-3.69zM773.67 646.19h3.69V486.84h-3.69zM784.68 646.19h3.69V484.08h-3.69zM795.68 646.19h3.69V481.08h-3.69zM806.69 646.19h3.69V478.08h-3.69zM817.7 646.19h3.69V475.33h-3.69zM828.71 646.19h3.69V473.08h-3.69zM839.71 646.19h3.69V471.33h-3.69zM850.72 646.19h3.69V470.07h-3.69zM861.73 646.19h3.69V469.57h-3.69zM872.73 646.19h3.69V469.32h-3.69zM883.74 646.19h3.69V469.07h-3.69zM894.75 646.19h3.69V469.32h-3.69zM905.76 646.19h3.69V469.57h-3.69zM916.76 646.19h3.69V469.57h-3.69zM927.77 646.19h3.69V468.07h-3.69zM938.78 646.19h3.69V465.57h-3.69zM949.78 646.19h3.69V458.82h-3.69z" fill="#0234A8"/>
<path d="M605.92 526.11V551.79M605.22 526.11h1.4M605.22 551.79h1.4M616.93 524.83V550.23M616.23 524.83h1.4M616.23 550.23h1.4M627.93 523.6V548.89M627.23 523.6h1.4M627.23 548.89h1.4M638.94 522.44V547.78M638.24 522.44h1.4M638.24 547.78h1.4M649.95 521.36V546.67M649.25 521.36h1.4M649.25 546.67h1.4M660.96 520.37V545.55M660.25 520.37h1.4M660.25 545.55h1.4M671.96 519.47V544.44M671.26 519.47h1.4M671.26 544.44h1.4M682.97 518.57V543.55M682.27 518.57h1.4M682.27 543.55h1.4M693.98 517.61V542.66M693.28 517.61h1.4M693.28 542.66h1.4M704.98 516.49V541.77M704.28 516.49h1.4M704.28 541.77h1.4M715.99 515.27V540.66M715.29 515.27h1.4M715.29 540.66h1.4M727 514.1V539.54M726.3 514.1h1.4M726.3 539.54h1.4M738.01 513.1V538.65M737.3 513.1h1.4M737.3 538.65h1.4M749.01 512.19V537.76M748.31 512.19h1.4M748.31 537.76h1.4M760.02 511.3V537.32M759.32 511.3h1.4M759.32 537.32h1.4M771.03 510.62V536.87M770.33 510.62h1.4M770.33 536.87h1.4M782.04 510.35V536.65M781.33 510.35h1.4M781.33 536.65h1.4M793.04 510.37V536.65M792.34 510.37h1.4M792.34 536.65h1.4M804.05 510.42V536.65M803.35 510.42h1.4M803.35 536.65h1.4M815.06 510.5V537.09M814.35 510.5h1.4M814.35 537.09h1.4M826.06 510.6V537.32M825.36 510.6h1.4M825.36 537.32h1.4M837.07 511.01V537.76M836.37 511.01h1.4M836.37 537.76h1.4M848.08 511.83V538.43M847.38 511.83h1.4M847.38 538.43h1.4M859.09 512.76V539.32M858.38 512.76h1.4M858.38 539.32h1.4M870.09 513.53V539.99M869.39 513.53h1.4M869.39 539.99h1.4M881.1 513.85V540.21M880.4 513.85h1.4M880.4 540.21h1.4M892.11 513.78V540.21M891.4 513.78h1.4M891.4 540.21h1.4M903.11 513.56V540.21M902.41 513.56h1.4M902.41 540.21h1.4M914.12 513.17V539.99M913.42 513.17h1.4M913.42 539.99h1.4M925.13 512.6V539.32M924.43 512.6h1.4M924.43 539.32h1.4M936.14 510.1V537.32M935.43 510.1h1.4M935.43 537.32h1.4M947.14 500.09V530.64M946.44 500.09h1.4M946.44 530.64h1.4M610.4 511.1V539.54M609.7 511.1h1.4M609.7 539.54h1.4M621.41 509.18V537.54M620.71 509.18h1.4M620.71 537.54h1.4M632.41 507.07V535.31M631.71 507.07h1.4M631.71 535.31h1.4M643.42 504.79V533.31M642.72 504.79h1.4M642.72 533.31h1.4M654.43 502.35V531.3M653.73 502.35h1.4M653.73 531.3h1.4M665.44 499.66V529.08M664.73 499.66h1.4M664.73 529.08h1.4M676.44 496.71V526.85M675.74 496.71h1.4M675.74 526.85h1.4M687.45 493.64V524.18M686.75 493.64h1.4M686.75 524.18h1.4M698.46 490.59V521.51M697.76 490.59h1.4M697.76 521.51h1.4M709.46 487.55V518.84M708.76 487.55h1.4M708.76 518.84h1.4M720.47 484.46V516.16M719.77 484.46h1.4M719.77 516.16h1.4M731.48 481.37V513.49M730.78 481.37h1.4M730.78 513.49h1.4M742.49 478.33V511.27M741.78 478.33h1.4M741.78 511.27h1.4M753.49 475.39V509.26M752.79 475.39h1.4M752.79 509.26h1.4M764.5 472.52V506.81M763.8 472.52h1.4M763.8 506.81h1.4M775.51 469.62V504.36M774.81 469.62h1.4M774.81 504.36h1.4M786.51 466.57V501.92M785.81 466.57h1.4M785.81 501.92h1.4M797.52 463.04V499.24M796.82 463.04h1.4M796.82 499.24h1.4M808.53 459.18V496.57M807.83 459.18h1.4M807.83 496.57h1.4M819.54 455.64V494.12M818.83 455.64h1.4M818.83 494.12h1.4M830.54 453.06V492.12M829.84 453.06h1.4M829.84 492.12h1.4M841.55 451.36V490.56M840.85 451.36h1.4M840.85 490.56h1.4M852.56 450.31V489.45M851.86 450.31h1.4M851.86 489.45h1.4M863.57 449.8V489M862.86 449.8h1.4M862.86 489h1.4M874.57 449.45V488.78M873.87 449.45h1.4M873.87 488.78h1.4M885.58 449.31V488.56M884.88 449.31h1.4M884.88 488.56h1.4M896.59 449.51V488.78M895.88 449.51h1.4M895.88 488.78h1.4M907.59 449.87V489M906.89 449.87h1.4M906.89 489h1.4M918.6 450.06V489M917.9 450.06h1.4M917.9 489h1.4M929.61 448.31V487.67M928.91 448.31h1.4M928.91 487.67h1.4M940.62 445.56V485.44M939.91 445.56h1.4M939.91 485.44h1.4M951.62 434.05V479.43M950.92 434.05h1.4M950.92 479.43h1.4" stroke="#000" stroke-width="1.1" fill="none" opacity="0.55"/>
<path d="M608.01 411.29 L610.16 411.68 L612.3 412.08 L614.45 412.48 L616.6 412.89 L618.74 413.3 L620.89 413.71 L623.03 414.12 L625.18 414.55 L627.33 414.97 L629.47 415.4 L631.62 415.83 L633.76 416.26 L635.91 416.7 L638.06 417.13 L640.2 417.58 L642.35 418.01 L644.49 418.45 L646.64 418.88 L648.79 419.32 L650.93 419.76 L653.08 420.22 L655.22 420.68 L657.37 421.16 L659.52 421.67 L661.66 422.19 L663.81 422.74 L665.96 423.34 L668.1 423.99 L670.25 424.67 L672.39 425.38 L674.54 426.11 L676.69 426.85 L678.83 427.6 L680.98 428.34 L683.12 429.08 L685.27 429.8 L687.42 430.49 L689.56 431.15 L691.71 431.78 L693.85 432.41 L696 433.03 L698.15 433.65 L700.29 434.26 L702.44 434.86 L704.58 435.45 L706.73 436.03 L708.88 436.59 L711.02 437.14 L713.17 437.67 L715.31 438.18 L717.46 438.67 L719.61 439.13 L721.75 439.56 L723.9 439.97 L726.04 440.36 L728.19 440.73 L730.34 441.09 L732.48 441.46 L734.63 441.82 L736.77 442.19 L738.92 442.58 L741.07 442.98 L743.21 443.41 L745.36 443.86 L747.51 444.34 L749.65 444.84 L751.8 445.35 L753.94 445.88 L756.09 446.43 L758.24 446.99 L760.38 447.57 L762.53 448.16 L764.67 448.77 L766.82 449.4 L768.97 450.04 L771.11 450.69 L773.26 451.36 L775.4 452.04 L777.55 452.76 L779.7 453.51 L781.84 454.28 L783.99 455.08 L786.13 455.92 L788.28 456.79 L790.43 457.69 L792.57 458.68 L794.72 459.76 L796.86 460.88 L799.01 462 L801.16 463.1 L803.3 464.13 L805.45 465.13 L807.59 466.1 L809.74 467.06 L811.89 468.01 L814.03 468.94 L816.18 469.87 L818.32 470.8 L820.47 471.72 L822.62 472.65 L824.76 473.58 L826.91 474.53 L829.06 475.48 L831.2 476.44 L833.35 477.41 L835.49 478.38 L837.64 479.35 L839.79 480.32 L841.93 481.29 L844.08 482.25 L846.22 483.2 L848.37 484.14 L850.52 485.09 L852.66 486.04 L854.81 487 L856.95 487.94 L859.1 488.86 L861.25 489.77 L863.39 490.64 L865.54 491.48 L867.68 492.3 L869.83 493.11 L871.98 493.91 L874.12 494.68 L876.27 495.43 L878.41 496.15 L880.56 496.82 L882.71 497.46 L884.85 498.05 L887 498.61 L889.14 499.15 L891.29 499.66 L893.44 500.15 L895.58 500.63 L897.73 501.09 L899.87 501.53 L902.02 501.96 L904.17 502.39 L906.31 502.83 L908.46 503.28 L910.6 503.71 L912.75 504.12 L914.9 504.48 L917.04 504.79 L919.19 505.02 L921.34 505.17 L923.48 505.31 L925.63 505.44 L927.77 505.55 L929.92 505.66 L932.07 505.74 L934.21 505.8 L936.36 505.84 L938.5 505.84 L940.65 505.44 L942.8 504.51 L944.94 503.21 L947.09 501.69 L949.23 500.09 L949.23 525.11 L947.09 526.14 L944.94 527.13 L942.8 527.98 L940.65 528.59 L938.5 528.86 L936.36 528.86 L934.21 528.86 L932.07 528.86 L929.92 528.86 L927.77 528.86 L925.63 528.86 L923.48 528.86 L921.34 528.86 L919.19 528.85 L917.04 528.77 L914.9 528.62 L912.75 528.41 L910.6 528.16 L908.46 527.88 L906.31 527.59 L904.17 527.3 L902.02 527.03 L899.87 526.73 L897.73 526.42 L895.58 526.08 L893.44 525.72 L891.29 525.34 L889.14 524.96 L887 524.57 L884.85 524.17 L882.71 523.77 L880.56 523.37 L878.41 522.95 L876.27 522.53 L874.12 522.1 L871.98 521.65 L869.83 521.18 L867.68 520.7 L865.54 520.19 L863.39 519.66 L861.25 519.1 L859.1 518.51 L856.95 517.89 L854.81 517.26 L852.66 516.62 L850.52 515.97 L848.37 515.32 L846.22 514.67 L844.08 514.01 L841.93 513.36 L839.79 512.69 L837.64 512.01 L835.49 511.32 L833.35 510.62 L831.2 509.9 L829.06 509.16 L826.91 508.41 L824.76 507.62 L822.62 506.81 L820.47 505.98 L818.32 505.13 L816.18 504.28 L814.03 503.41 L811.89 502.54 L809.74 501.67 L807.59 500.8 L805.45 499.95 L803.3 499.1 L801.16 498.27 L799.01 497.42 L796.86 496.56 L794.72 495.7 L792.57 494.83 L790.43 493.96 L788.28 493.11 L786.13 492.26 L783.99 491.43 L781.84 490.61 L779.7 489.82 L777.55 489.06 L775.4 488.33 L773.26 487.63 L771.11 486.97 L768.97 486.32 L766.82 485.7 L764.67 485.1 L762.53 484.51 L760.38 483.94 L758.24 483.38 L756.09 482.82 L753.94 482.28 L751.8 481.74 L749.65 481.21 L747.51 480.68 L745.36 480.15 L743.21 479.62 L741.07 479.1 L738.92 478.58 L736.77 478.08 L734.63 477.58 L732.48 477.09 L730.34 476.6 L728.19 476.11 L726.04 475.63 L723.9 475.14 L721.75 474.66 L719.61 474.17 L717.46 473.69 L715.31 473.19 L713.17 472.69 L711.02 472.19 L708.88 471.69 L706.73 471.19 L704.58 470.69 L702.44 470.2 L700.29 469.71 L698.15 469.24 L696 468.77 L693.85 468.32 L691.71 467.89 L689.56 467.48 L687.42 467.08 L685.27 466.68 L683.12 466.3 L680.98 465.92 L678.83 465.55 L676.69 465.19 L674.54 464.84 L672.39 464.49 L670.25 464.16 L668.1 463.82 L665.96 463.5 L663.81 463.18 L661.66 462.87 L659.52 462.56 L657.37 462.26 L655.22 461.96 L653.08 461.67 L650.93 461.39 L648.79 461.11 L646.64 460.84 L644.49 460.58 L642.35 460.33 L640.2 460.09 L638.06 459.85 L635.91 459.62 L633.76 459.39 L631.62 459.17 L629.47 458.95 L627.33 458.74 L625.18 458.53 L623.03 458.32 L620.89 458.12 L618.74 457.93 L616.6 457.75 L614.45 457.57 L612.3 457.39 L610.16 457.23 L608.01 457.07z" fill="#FFA500" fill-opacity="0.2"/>
<path d="M608.01 380.77 L610.16 381.31 L612.3 381.84 L614.45 382.35 L616.6 382.84 L618.74 383.31 L620.89 383.77 L623.03 384.19 L625.18 384.6 L627.33 384.99 L629.47 385.35 L631.62 385.71 L633.76 386.06 L635.91 386.39 L638.06 386.7 L640.2 386.98 L642.35 387.24 L644.49 387.47 L646.64 387.67 L648.79 387.86 L650.93 388.03 L653.08 388.2 L655.22 388.35 L657.37 388.48 L659.52 388.61 L661.66 388.71 L663.81 388.8 L665.96 388.88 L668.1 388.96 L670.25 389.03 L672.39 389.1 L674.54 389.16 L676.69 389.22 L678.83 389.27 L680.98 389.32 L683.12 389.37 L685.27 389.42 L687.42 389.46 L689.56 389.51 L691.71 389.56 L693.85 389.59 L696 389.63 L698.15 389.66 L700.29 389.69 L702.44 389.71 L704.58 389.74 L706.73 389.77 L708.88 389.8 L711.02 389.84 L713.17 389.89 L715.31 389.94 L717.46 390 L719.61 390.1 L721.75 390.29 L723.9 390.56 L726.04 390.9 L728.19 391.3 L730.34 391.74 L732.48 392.22 L734.63 392.72 L736.77 393.23 L738.92 393.73 L741.07 394.21 L743.21 394.66 L745.36 395.07 L747.51 395.47 L749.65 395.86 L751.8 396.26 L753.94 396.65 L756.09 397.05 L758.24 397.45 L760.38 397.84 L762.53 398.22 L764.67 398.61 L766.82 398.98 L768.97 399.35 L771.11 399.7 L773.26 400.05 L775.4 400.39 L777.55 400.71 L779.7 401.02 L781.84 401.33 L783.99 401.62 L786.13 401.92 L788.28 402.21 L790.43 402.51 L792.57 402.8 L794.72 403.1 L796.86 403.41 L799.01 403.72 L801.16 404.05 L803.3 404.39 L805.45 404.72 L807.59 405.05 L809.74 405.38 L811.89 405.71 L814.03 406.05 L816.18 406.4 L818.32 406.77 L820.47 407.16 L822.62 407.57 L824.76 408.02 L826.91 408.49 L829.06 409.01 L831.2 409.61 L833.35 410.29 L835.49 411.04 L837.64 411.83 L839.79 412.66 L841.93 413.51 L844.08 414.37 L846.22 415.23 L848.37 416.06 L850.52 416.92 L852.66 417.8 L854.81 418.7 L856.95 419.61 L859.1 420.52 L861.25 421.43 L863.39 422.32 L865.54 423.19 L867.68 424.05 L869.83 424.92 L871.98 425.78 L874.12 426.63 L876.27 427.47 L878.41 428.3 L880.56 429.1 L882.71 429.88 L884.85 430.63 L887 431.36 L889.14 432.07 L891.29 432.77 L893.44 433.45 L895.58 434.13 L897.73 434.79 L899.87 435.45 L902.02 436.1 L904.17 436.75 L906.31 437.44 L908.46 438.14 L910.6 438.83 L912.75 439.49 L914.9 440.11 L917.04 440.66 L919.19 441.12 L921.34 441.5 L923.48 441.87 L925.63 442.2 L927.77 442.45 L929.92 442.56 L932.07 442.52 L934.21 442.42 L936.36 442.24 L938.5 442.02 L940.65 441.48 L942.8 440.5 L944.94 439.18 L947.09 437.58 L949.23 435.8 L949.23 472.58 L947.09 474.61 L944.94 476.43 L942.8 477.98 L940.65 479.2 L938.5 480.01 L936.36 480.52 L934.21 480.96 L932.07 481.24 L929.92 481.33 L927.77 481.29 L925.63 481.2 L923.48 481.07 L921.34 480.92 L919.19 480.74 L917.04 480.49 L914.9 480.16 L912.75 479.77 L910.6 479.33 L908.46 478.86 L906.31 478.38 L904.17 477.9 L902.02 477.43 L899.87 476.94 L897.73 476.43 L895.58 475.89 L893.44 475.33 L891.29 474.76 L889.14 474.19 L887 473.6 L884.85 473.02 L882.71 472.45 L880.56 471.88 L878.41 471.31 L876.27 470.74 L874.12 470.16 L871.98 469.57 L869.83 468.96 L867.68 468.34 L865.54 467.69 L863.39 467 L861.25 466.26 L859.1 465.49 L856.95 464.7 L854.81 463.9 L852.66 463.1 L850.52 462.32 L848.37 461.56 L846.22 460.83 L844.08 460.08 L841.93 459.32 L839.79 458.57 L837.64 457.84 L835.49 457.13 L833.35 456.46 L831.2 455.84 L829.06 455.28 L826.91 454.78 L824.76 454.33 L822.62 453.9 L820.47 453.5 L818.32 453.12 L816.18 452.76 L814.03 452.41 L811.89 452.07 L809.74 451.73 L807.59 451.38 L805.45 451.04 L803.3 450.68 L801.16 450.3 L799.01 449.93 L796.86 449.55 L794.72 449.17 L792.57 448.8 L790.43 448.42 L788.28 448.04 L786.13 447.67 L783.99 447.31 L781.84 446.94 L779.7 446.59 L777.55 446.24 L775.4 445.91 L773.26 445.58 L771.11 445.26 L768.97 444.95 L766.82 444.64 L764.67 444.34 L762.53 444.05 L760.38 443.75 L758.24 443.47 L756.09 443.19 L753.94 442.91 L751.8 442.64 L749.65 442.37 L747.51 442.1 L745.36 441.84 L743.21 441.57 L741.07 441.27 L738.92 440.96 L736.77 440.64 L734.63 440.33 L732.48 440.02 L730.34 439.73 L728.19 439.46 L726.04 439.23 L723.9 439.04 L721.75 438.9 L719.61 438.82 L717.46 438.8 L715.31 438.8 L713.17 438.8 L711.02 438.8 L708.88 438.8 L706.73 438.8 L704.58 438.8 L702.44 438.8 L700.29 438.8 L698.15 438.8 L696 438.8 L693.85 438.8 L691.71 438.8 L689.56 438.8 L687.42 438.79 L685.27 438.77 L683.12 438.73 L680.98 438.68 L678.83 438.62 L676.69 438.55 L674.54 438.48 L672.39 438.4 L670.25 438.32 L668.1 438.24 L665.96 438.16 L663.81 438.08 L661.66 438 L659.52 437.93 L657.37 437.84 L655.22 437.76 L653.08 437.67 L650.93 437.58 L648.79 437.48 L646.64 437.38 L644.49 437.27 L642.35 437.17 L640.2 437.05 L638.06 436.94 L635.91 436.82 L633.76 436.69 L631.62 436.56 L629.47 436.43 L627.33 436.29 L625.18 436.14 L623.03 435.98 L620.89 435.8 L618.74 435.61 L616.6 435.41 L614.45 435.21 L612.3 434.99 L610.16 434.77 L608.01 434.55z" fill="#0033A0" fill-opacity="0.2"/>
<path d="M608.01 434.55 L610.16 434.85 L612.3 435.16 L614.45 435.48 L616.6 435.79 L618.74 436.12 L620.89 436.44 L623.03 436.78 L625.18 437.11 L627.33 437.46 L629.47 437.8 L631.62 438.15 L633.76 438.5 L635.91 438.86 L638.06 439.22 L640.2 439.58 L642.35 439.95 L644.49 440.33 L646.64 440.71 L648.79 441.1 L650.93 441.49 L653.08 441.89 L655.22 442.29 L657.37 442.7 L659.52 443.12 L661.66 443.54 L663.81 443.96 L665.96 444.39 L668.1 444.84 L670.25 445.29 L672.39 445.75 L674.54 446.22 L676.69 446.69 L678.83 447.16 L680.98 447.63 L683.12 448.1 L685.27 448.56 L687.42 449.01 L689.56 449.46 L691.71 449.9 L693.85 450.32 L696 450.75 L698.15 451.17 L700.29 451.58 L702.44 452 L704.58 452.41 L706.73 452.82 L708.88 453.24 L711.02 453.66 L713.17 454.08 L715.31 454.51 L717.46 454.94 L719.61 455.38 L721.75 455.81 L723.9 456.25 L726.04 456.69 L728.19 457.13 L730.34 457.57 L732.48 458.02 L734.63 458.47 L736.77 458.93 L738.92 459.4 L741.07 459.88 L743.21 460.38 L745.36 460.88 L747.51 461.39 L749.65 461.91 L751.8 462.44 L753.94 462.97 L756.09 463.52 L758.24 464.07 L760.38 464.64 L762.53 465.22 L764.67 465.82 L766.82 466.43 L768.97 467.06 L771.11 467.7 L773.26 468.37 L775.4 469.06 L777.55 469.79 L779.7 470.55 L781.84 471.34 L783.99 472.16 L786.13 472.99 L788.28 473.84 L790.43 474.7 L792.57 475.59 L794.72 476.51 L796.86 477.47 L799.01 478.43 L801.16 479.41 L803.3 480.38 L805.45 481.37 L807.59 482.38 L809.74 483.41 L811.89 484.44 L814.03 485.48 L816.18 486.51 L818.32 487.55 L820.47 488.57 L822.62 489.58 L824.76 490.57 L826.91 491.54 L829.06 492.48 L831.2 493.4 L833.35 494.3 L835.49 495.19 L837.64 496.06 L839.79 496.93 L841.93 497.79 L844.08 498.65 L846.22 499.51 L848.37 500.38 L850.52 501.27 L852.66 502.18 L854.81 503.09 L856.95 503.99 L859.1 504.86 L861.25 505.7 L863.39 506.49 L865.54 507.22 L867.68 507.91 L869.83 508.57 L871.98 509.21 L874.12 509.83 L876.27 510.42 L878.41 510.97 L880.56 511.5 L882.71 512 L884.85 512.46 L887 512.91 L889.14 513.33 L891.29 513.74 L893.44 514.14 L895.58 514.51 L897.73 514.86 L899.87 515.19 L902.02 515.51 L904.17 515.81 L906.31 516.11 L908.46 516.41 L910.6 516.7 L912.75 516.97 L914.9 517.21 L917.04 517.4 L919.19 517.55 L921.34 517.66 L923.48 517.75 L925.63 517.83 L927.77 517.91 L929.92 517.98 L932.07 518.03 L934.21 518.07 L936.36 518.1 L938.5 518.1 L940.65 517.68 L942.8 516.71 L944.94 515.35 L947.09 513.76 L949.23 512.1" stroke="#EDA81A" stroke-width="1.4" fill="none" stroke-linejoin="round"/>
<path d="M608.01 410.54 L610.16 410.79 L612.3 411.03 L614.45 411.27 L616.6 411.5 L618.74 411.72 L620.89 411.94 L623.03 412.14 L625.18 412.33 L627.33 412.52 L629.47 412.7 L631.62 412.87 L633.76 413.04 L635.91 413.2 L638.06 413.36 L640.2 413.5 L642.35 413.64 L644.49 413.76 L646.64 413.88 L648.79 414 L650.93 414.12 L653.08 414.23 L655.22 414.34 L657.37 414.43 L659.52 414.49 L661.66 414.53 L663.81 414.54 L665.96 414.54 L668.1 414.54 L670.25 414.54 L672.39 414.54 L674.54 414.54 L676.69 414.54 L678.83 414.54 L680.98 414.54 L683.12 414.54 L685.27 414.54 L687.42 414.54 L689.56 414.54 L691.71 414.54 L693.85 414.54 L696 414.54 L698.15 414.54 L700.29 414.54 L702.44 414.54 L704.58 414.54 L706.73 414.54 L708.88 414.54 L711.02 414.54 L713.17 414.54 L715.31 414.54 L717.46 414.54 L719.61 414.56 L721.75 414.66 L723.9 414.82 L726.04 415.05 L728.19 415.32 L730.34 415.63 L732.48 415.98 L734.63 416.34 L736.77 416.71 L738.92 417.08 L741.07 417.43 L743.21 417.77 L745.36 418.08 L747.51 418.37 L749.65 418.67 L751.8 418.97 L753.94 419.27 L756.09 419.58 L758.24 419.89 L760.38 420.2 L762.53 420.51 L764.67 420.82 L766.82 421.13 L768.97 421.44 L771.11 421.75 L773.26 422.06 L775.4 422.37 L777.55 422.67 L779.7 422.96 L781.84 423.26 L783.99 423.55 L786.13 423.84 L788.28 424.14 L790.43 424.44 L792.57 424.75 L794.72 425.06 L796.86 425.38 L799.01 425.71 L801.16 426.05 L803.3 426.41 L805.45 426.77 L807.59 427.14 L809.74 427.52 L811.89 427.91 L814.03 428.31 L816.18 428.72 L818.32 429.15 L820.47 429.59 L822.62 430.04 L824.76 430.52 L826.91 431.01 L829.06 431.52 L831.2 432.06 L833.35 432.63 L835.49 433.23 L837.64 433.86 L839.79 434.51 L841.93 435.18 L844.08 435.87 L846.22 436.57 L848.37 437.29 L850.52 438.06 L852.66 438.87 L854.81 439.72 L856.95 440.58 L859.1 441.45 L861.25 442.3 L863.39 443.14 L865.54 443.94 L867.68 444.72 L869.83 445.48 L871.98 446.24 L874.12 446.99 L876.27 447.72 L878.41 448.46 L880.56 449.18 L882.71 449.9 L884.85 450.61 L887 451.33 L889.14 452.03 L891.29 452.73 L893.44 453.42 L895.58 454.11 L897.73 454.79 L899.87 455.45 L902.02 456.11 L904.17 456.77 L906.31 457.49 L908.46 458.22 L910.6 458.95 L912.75 459.64 L914.9 460.26 L917.04 460.79 L919.19 461.18 L921.34 461.45 L923.48 461.67 L925.63 461.87 L927.77 462.01 L929.92 462.07 L932.07 462.05 L934.21 462 L936.36 461.91 L938.5 461.8 L940.65 461.47 L942.8 460.85 L944.94 460 L947.09 458.97 L949.23 457.82" stroke="#1F3A93" stroke-width="1.4" fill="none" stroke-linejoin="round"/>
<g font-size="4.5" fill="#3a3a3a" stroke="#3a3a3a" stroke-width="0.12"><text x="584.5" y="647.81" text-anchor="end">0e+00</text><text x="584.5" y="575.26" text-anchor="end">1e+06</text><text x="584.5" y="502.72" text-anchor="end">2e+06</text><text x="584.5" y="430.17" text-anchor="end">3e+06</text><text x="972.5" y="647.81">0</text><text x="972.5" y="575.26">100</text><text x="972.5" y="502.72">200</text><text x="972.5" y="430.17">300</text><text x="608.01" y="665.7" text-anchor="middle">1990</text><text x="718.08" y="665.7" text-anchor="middle">2000</text><text x="828.16" y="665.7" text-anchor="middle">2010</text><text x="938.23" y="665.7" text-anchor="middle">2020</text></g>
<g stroke="#000" stroke-width="0.14">
<text x="778" y="672.3" font-size="5.6" text-anchor="middle" fill="#000" font-weight="normal">Year</text>
<text transform="translate(568.5 513.5) rotate(-90)" font-size="5.6" text-anchor="middle" fill="#000">Prevalence Number</text>
<text transform="translate(982.5 513.5) rotate(90)" font-size="5.6" text-anchor="middle" fill="#000">Age-standardized Prevalence rate per 100,000</text>
<text x="996" y="486.7" font-size="5.6" fill="#000">Number</text>
<rect x="996.2" y="490.3" width="8.2" height="7.8999999999999995" fill="#FFA607" stroke="none"/>
<rect x="996.2" y="499.3" width="8.2" height="7.8999999999999995" fill="#0234A8" stroke="none"/>
<text x="1007.6" y="496" font-size="4.8" fill="#111">Female</text>
<text x="1007.6" y="505.1" font-size="4.8" fill="#111">Male</text>
<text x="996" y="524.1" font-size="5.6" fill="#000">Rate</text>
<line x1="997" x2="1004" y1="532.2" y2="532.2" stroke="#EDA81A" stroke-width="1.4"/>
<line x1="997" x2="1004" y1="541.2" y2="541.2" stroke="#1F3A93" stroke-width="1.4"/>
<text x="1007.6" y="533.9" font-size="4.8" fill="#111">Female</text>
<text x="1007.6" y="542.9" font-size="4.8" fill="#111">Male</text>
</g>
<text transform="translate(559.91 413.77) scale(0.7169 1)" font-size="32.56" fill="#000" stroke="#000" stroke-width="0.45" stroke-linejoin="round">E</text></g>
<!-- panel F -->
<g><g stroke="#efefef" stroke-width="0.5" fill="none"><line x1="1092" x2="1477.5" y1="646.19" y2="646.19"/><line x1="1092" x2="1477.5" y1="596.41" y2="596.41"/><line x1="1092" x2="1477.5" y1="546.62" y2="546.62"/><line x1="1092" x2="1477.5" y1="496.84" y2="496.84"/><line x1="1092" x2="1477.5" y1="446.81" y2="446.81"/><line x1="1092" x2="1477.5" y1="397.03" y2="397.03"/><line x1="1114.51" x2="1114.51" y1="366.5" y2="657"/><line x1="1169.55" x2="1169.55" y1="366.5" y2="657"/><line x1="1224.58" x2="1224.58" y1="366.5" y2="657"/><line x1="1279.62" x2="1279.62" y1="366.5" y2="657"/><line x1="1334.66" x2="1334.66" y1="366.5" y2="657"/><line x1="1389.69" x2="1389.69" y1="366.5" y2="657"/><line x1="1444.73" x2="1444.73" y1="366.5" y2="657"/></g>
<path d="M1110.27 646.19h4.29V528.86h-4.29zM1121.28 646.19h4.29V528.11h-4.29zM1132.29 646.19h4.29V527.36h-4.29zM1143.3 646.19h4.29V526.86h-4.29zM1154.3 646.19h4.29V526.36h-4.29zM1165.31 646.19h4.29V525.86h-4.29zM1176.32 646.19h4.29V525.61h-4.29zM1187.33 646.19h4.29V525.36h-4.29zM1198.33 646.19h4.29V525.11h-4.29zM1209.34 646.19h4.29V524.86h-4.29zM1220.35 646.19h4.29V524.61h-4.29zM1231.35 646.19h4.29V524.36h-4.29zM1242.36 646.19h4.29V524.11h-4.29zM1253.37 646.19h4.29V523.86h-4.29zM1264.38 646.19h4.29V523.61h-4.29zM1275.38 646.19h4.29V523.36h-4.29zM1286.39 646.19h4.29V523.36h-4.29zM1297.4 646.19h4.29V523.61h-4.29zM1308.4 646.19h4.29V524.11h-4.29zM1319.41 646.19h4.29V524.61h-4.29zM1330.42 646.19h4.29V524.36h-4.29zM1341.43 646.19h4.29V523.36h-4.29zM1352.43 646.19h4.29V522.11h-4.29zM1363.44 646.19h4.29V520.61h-4.29zM1374.45 646.19h4.29V518.86h-4.29zM1385.45 646.19h4.29V517.11h-4.29zM1396.46 646.19h4.29V515.6h-4.29zM1407.47 646.19h4.29V513.85h-4.29zM1418.48 646.19h4.29V512.1h-4.29zM1429.48 646.19h4.29V509.6h-4.29zM1440.49 646.19h4.29V507.6h-4.29zM1451.5 646.19h4.29V504.6h-4.29z" fill="#FFA607"/>
<path d="M1115.06 646.19h3.69V543.37h-3.69zM1126.07 646.19h3.69V542.12h-3.69zM1137.08 646.19h3.69V541.62h-3.69zM1148.08 646.19h3.69V541.37h-3.69zM1159.09 646.19h3.69V541.12h-3.69zM1170.1 646.19h3.69V540.87h-3.69zM1181.11 646.19h3.69V540.87h-3.69zM1192.11 646.19h3.69V540.87h-3.69zM1203.12 646.19h3.69V541.12h-3.69zM1214.13 646.19h3.69V541.37h-3.69zM1225.13 646.19h3.69V541.37h-3.69zM1236.14 646.19h3.69V541.37h-3.69zM1247.15 646.19h3.69V541.37h-3.69zM1258.16 646.19h3.69V541.37h-3.69zM1269.16 646.19h3.69V541.37h-3.69zM1280.17 646.19h3.69V541.37h-3.69zM1291.18 646.19h3.69V541.37h-3.69zM1302.18 646.19h3.69V541.62h-3.69zM1313.19 646.19h3.69V541.87h-3.69zM1324.2 646.19h3.69V542.12h-3.69zM1335.21 646.19h3.69V541.87h-3.69zM1346.21 646.19h3.69V541.12h-3.69zM1357.22 646.19h3.69V540.12h-3.69zM1368.23 646.19h3.69V538.87h-3.69zM1379.24 646.19h3.69V537.87h-3.69zM1390.24 646.19h3.69V536.37h-3.69zM1401.25 646.19h3.69V534.87h-3.69zM1412.26 646.19h3.69V533.37h-3.69zM1423.26 646.19h3.69V531.87h-3.69zM1434.27 646.19h3.69V530.36h-3.69zM1445.28 646.19h3.69V528.86h-3.69zM1456.29 646.19h3.69V524.36h-3.69z" fill="#0234A8"/>
<path d="M1112.42 513.35V542.36M1111.72 513.35h1.4M1111.72 542.36h1.4M1123.43 512.94V541.69M1122.73 512.94h1.4M1122.73 541.69h1.4M1134.44 512.56V541.03M1133.73 512.56h1.4M1133.73 541.03h1.4M1145.44 512.24V540.58M1144.74 512.24h1.4M1144.74 540.58h1.4M1156.45 512V540.14M1155.75 512h1.4M1155.75 540.14h1.4M1167.46 511.85V539.7M1166.76 511.85h1.4M1166.76 539.7h1.4M1178.46 511.78V539.48M1177.76 511.78h1.4M1177.76 539.48h1.4M1189.47 511.74V539.26M1188.77 511.74h1.4M1188.77 539.26h1.4M1200.48 511.71V539.03M1199.78 511.71h1.4M1199.78 539.03h1.4M1211.49 511.67V538.81M1210.78 511.67h1.4M1210.78 538.81h1.4M1222.49 511.6V538.59M1221.79 511.6h1.4M1221.79 538.59h1.4M1233.5 511.39V538.37M1232.8 511.39h1.4M1232.8 538.37h1.4M1244.51 511.01V538.15M1243.81 511.01h1.4M1243.81 538.15h1.4M1255.51 510.59V537.93M1254.81 510.59h1.4M1254.81 537.93h1.4M1266.52 510.24V537.71M1265.82 510.24h1.4M1265.82 537.71h1.4M1277.53 510.1V537.49M1276.83 510.1h1.4M1276.83 537.49h1.4M1288.54 510.31V537.49M1287.83 510.31h1.4M1287.83 537.49h1.4M1299.54 510.81V537.71M1298.84 510.81h1.4M1298.84 537.71h1.4M1310.55 511.4V538.15M1309.85 511.4h1.4M1309.85 538.15h1.4M1321.56 511.89V538.59M1320.86 511.89h1.4M1320.86 538.59h1.4M1332.56 512.1V538.37M1331.86 512.1h1.4M1331.86 538.37h1.4M1343.57 511.52V537.49M1342.87 511.52h1.4M1342.87 537.49h1.4M1354.58 510V536.38M1353.88 510h1.4M1353.88 536.38h1.4M1365.59 507.93V535.05M1364.88 507.93h1.4M1364.88 535.05h1.4M1376.59 505.67V533.5M1375.89 505.67h1.4M1375.89 533.5h1.4M1387.6 503.6V531.95M1386.9 503.6h1.4M1386.9 531.95h1.4M1398.61 501.66V530.62M1397.91 501.66h1.4M1397.91 530.62h1.4M1409.61 499.59V529.07M1408.91 499.59h1.4M1408.91 529.07h1.4M1420.62 497.47V527.52M1419.92 497.47h1.4M1419.92 527.52h1.4M1431.63 495.09V525.31M1430.93 495.09h1.4M1430.93 525.31h1.4M1442.64 492.09V523.54M1441.93 492.09h1.4M1441.93 523.54h1.4M1453.64 487.59V520.88M1452.94 487.59h1.4M1452.94 520.88h1.4M1116.9 529.61V555.2M1116.2 529.61h1.4M1116.2 555.2h1.4M1127.91 528.91V554.09M1127.21 528.91h1.4M1127.21 554.09h1.4M1138.92 528.35V553.65M1138.21 528.35h1.4M1138.21 553.65h1.4M1149.92 527.94V553.43M1149.22 527.94h1.4M1149.22 553.43h1.4M1160.93 527.7V553.2M1160.23 527.7h1.4M1160.23 553.2h1.4M1171.94 527.61V552.98M1171.24 527.61h1.4M1171.24 552.98h1.4M1182.94 527.77V552.98M1182.24 527.77h1.4M1182.24 552.98h1.4M1193.95 528.16V552.98M1193.25 528.16h1.4M1193.25 552.98h1.4M1204.96 528.65V553.2M1204.26 528.65h1.4M1204.26 553.2h1.4M1215.97 529.1V553.43M1215.26 529.1h1.4M1215.26 553.43h1.4M1226.97 529.36V553.43M1226.27 529.36h1.4M1226.27 553.43h1.4M1237.98 529.49V553.43M1237.28 529.49h1.4M1237.28 553.43h1.4M1248.99 529.61V553.43M1248.29 529.61h1.4M1248.29 553.43h1.4M1259.99 529.72V553.43M1259.29 529.72h1.4M1259.29 553.43h1.4M1271 529.82V553.43M1270.3 529.82h1.4M1270.3 553.43h1.4M1282.01 529.91V553.43M1281.31 529.91h1.4M1281.31 553.43h1.4M1293.02 529.98V553.43M1292.31 529.98h1.4M1292.31 553.43h1.4M1304.02 530.04V553.65M1303.32 530.04h1.4M1303.32 553.65h1.4M1315.03 530.08V553.87M1314.33 530.08h1.4M1314.33 553.87h1.4M1326.04 530.1V554.09M1325.34 530.1h1.4M1325.34 554.09h1.4M1337.04 530.11V553.87M1336.34 530.11h1.4M1336.34 553.87h1.4M1348.05 529.71V553.2M1347.35 529.71h1.4M1347.35 553.2h1.4M1359.06 528.64V552.32M1358.36 528.64h1.4M1358.36 552.32h1.4M1370.07 527.15V551.21M1369.36 527.15h1.4M1369.36 551.21h1.4M1381.07 525.48V550.33M1380.37 525.48h1.4M1380.37 550.33h1.4M1392.08 523.86V549M1391.38 523.86h1.4M1391.38 549h1.4M1403.09 522.43V547.67M1402.39 522.43h1.4M1402.39 547.67h1.4M1414.09 520.99V546.34M1413.39 520.99h1.4M1413.39 546.34h1.4M1425.1 519.33V545.01M1424.4 519.33h1.4M1424.4 545.01h1.4M1436.11 517.19V543.68M1435.41 517.19h1.4M1435.41 543.68h1.4M1447.12 514.35V542.36M1446.41 514.35h1.4M1446.41 542.36h1.4M1458.12 508.35V538.37M1457.42 508.35h1.4M1457.42 538.37h1.4" stroke="#000" stroke-width="1.1" fill="none" opacity="0.55"/>
<path d="M1114.51 381.52 L1116.66 382.6 L1118.8 383.67 L1120.95 384.75 L1123.1 385.81 L1125.24 386.88 L1127.39 387.93 L1129.54 388.99 L1131.68 390.04 L1133.83 391.08 L1135.97 392.12 L1138.12 393.15 L1140.27 394.18 L1142.41 395.21 L1144.56 396.23 L1146.7 397.25 L1148.85 398.27 L1151 399.28 L1153.14 400.29 L1155.29 401.3 L1157.43 402.3 L1159.58 403.29 L1161.73 404.27 L1163.87 405.25 L1166.02 406.22 L1168.16 407.17 L1170.31 408.12 L1172.46 409.06 L1174.6 409.99 L1176.75 410.92 L1178.89 411.84 L1181.04 412.76 L1183.19 413.66 L1185.33 414.56 L1187.48 415.45 L1189.62 416.33 L1191.77 417.2 L1193.92 418.05 L1196.06 418.9 L1198.21 419.73 L1200.35 420.55 L1202.5 421.35 L1204.65 422.13 L1206.79 422.9 L1208.94 423.67 L1211.09 424.43 L1213.23 425.19 L1215.38 425.95 L1217.52 426.71 L1219.67 427.49 L1221.82 428.27 L1223.96 429.06 L1226.11 429.87 L1228.25 430.69 L1230.4 431.52 L1232.55 432.35 L1234.69 433.19 L1236.84 434.04 L1238.98 434.88 L1241.13 435.73 L1243.28 436.58 L1245.42 437.43 L1247.57 438.27 L1249.71 439.12 L1251.86 439.96 L1254.01 440.79 L1256.15 441.62 L1258.3 442.43 L1260.44 443.24 L1262.59 444.04 L1264.74 444.85 L1266.88 445.66 L1269.03 446.49 L1271.17 447.32 L1273.32 448.18 L1275.47 449.05 L1277.61 449.95 L1279.76 450.87 L1281.9 451.84 L1284.05 452.84 L1286.2 453.88 L1288.34 454.94 L1290.49 456.01 L1292.63 457.08 L1294.78 458.15 L1296.93 459.21 L1299.07 460.3 L1301.22 461.4 L1303.37 462.49 L1305.51 463.55 L1307.66 464.58 L1309.8 465.58 L1311.95 466.57 L1314.1 467.54 L1316.24 468.48 L1318.39 469.37 L1320.53 470.22 L1322.68 471.05 L1324.83 471.86 L1326.97 472.64 L1329.12 473.38 L1331.26 474.08 L1333.41 474.73 L1335.56 475.32 L1337.7 475.88 L1339.85 476.42 L1341.99 476.93 L1344.14 477.42 L1346.29 477.9 L1348.43 478.35 L1350.58 478.78 L1352.72 479.19 L1354.87 479.59 L1357.02 479.97 L1359.16 480.33 L1361.31 480.68 L1363.45 481.01 L1365.6 481.33 L1367.75 481.63 L1369.89 481.92 L1372.04 482.2 L1374.18 482.46 L1376.33 482.72 L1378.48 482.96 L1380.62 483.19 L1382.77 483.42 L1384.92 483.63 L1387.06 483.84 L1389.21 484.04 L1391.35 484.24 L1393.5 484.44 L1395.65 484.64 L1397.79 484.84 L1399.94 485.02 L1402.08 485.2 L1404.23 485.36 L1406.38 485.51 L1408.52 485.63 L1410.67 485.76 L1412.81 485.88 L1414.96 486.01 L1417.11 486.12 L1419.25 486.21 L1421.4 486.28 L1423.54 486.32 L1425.69 486.34 L1427.84 486.34 L1429.98 486.34 L1432.13 486.34 L1434.27 486.34 L1436.42 486.34 L1438.57 486.34 L1440.71 486.34 L1442.86 486.34 L1445 486.33 L1447.15 486.21 L1449.3 485.92 L1451.44 485.52 L1453.59 485.06 L1455.73 484.58 L1455.73 511.1 L1453.59 511.64 L1451.44 512.18 L1449.3 512.65 L1447.15 512.98 L1445 513.1 L1442.86 513.1 L1440.71 513.1 L1438.57 513.1 L1436.42 513.1 L1434.27 513.1 L1432.13 513.1 L1429.98 513.1 L1427.84 513.1 L1425.69 513.1 L1423.54 513.1 L1421.4 513.1 L1419.25 513.1 L1417.11 513.1 L1414.96 513.09 L1412.81 513.09 L1410.67 513.08 L1408.52 513.06 L1406.38 513.05 L1404.23 513.03 L1402.08 513.01 L1399.94 512.99 L1397.79 512.97 L1395.65 512.94 L1393.5 512.92 L1391.35 512.89 L1389.21 512.86 L1387.06 512.82 L1384.92 512.75 L1382.77 512.67 L1380.62 512.57 L1378.48 512.45 L1376.33 512.31 L1374.18 512.16 L1372.04 512 L1369.89 511.83 L1367.75 511.65 L1365.6 511.46 L1363.45 511.26 L1361.31 511.07 L1359.16 510.85 L1357.02 510.6 L1354.87 510.33 L1352.72 510.03 L1350.58 509.71 L1348.43 509.36 L1346.29 509 L1344.14 508.61 L1341.99 508.21 L1339.85 507.78 L1337.7 507.35 L1335.56 506.9 L1333.41 506.43 L1331.26 505.92 L1329.12 505.36 L1326.97 504.76 L1324.83 504.11 L1322.68 503.44 L1320.53 502.73 L1318.39 502 L1316.24 501.26 L1314.1 500.51 L1311.95 499.75 L1309.8 498.99 L1307.66 498.22 L1305.51 497.42 L1303.37 496.59 L1301.22 495.74 L1299.07 494.87 L1296.93 493.99 L1294.78 493.11 L1292.63 492.22 L1290.49 491.34 L1288.34 490.45 L1286.2 489.53 L1284.05 488.61 L1281.9 487.72 L1279.76 486.89 L1277.61 486.11 L1275.47 485.36 L1273.32 484.63 L1271.17 483.92 L1269.03 483.23 L1266.88 482.56 L1264.74 481.89 L1262.59 481.24 L1260.44 480.59 L1258.3 479.95 L1256.15 479.3 L1254.01 478.66 L1251.86 478.01 L1249.71 477.36 L1247.57 476.72 L1245.42 476.09 L1243.28 475.46 L1241.13 474.83 L1238.98 474.21 L1236.84 473.6 L1234.69 472.98 L1232.55 472.37 L1230.4 471.75 L1228.25 471.13 L1226.11 470.52 L1223.96 469.89 L1221.82 469.26 L1219.67 468.62 L1217.52 467.99 L1215.38 467.4 L1213.23 466.85 L1211.09 466.32 L1208.94 465.8 L1206.79 465.3 L1204.65 464.81 L1202.5 464.32 L1200.35 463.83 L1198.21 463.34 L1196.06 462.83 L1193.92 462.33 L1191.77 461.83 L1189.62 461.33 L1187.48 460.83 L1185.33 460.33 L1183.19 459.83 L1181.04 459.33 L1178.89 458.83 L1176.75 458.32 L1174.6 457.8 L1172.46 457.28 L1170.31 456.76 L1168.16 456.22 L1166.02 455.68 L1163.87 455.14 L1161.73 454.59 L1159.58 454.04 L1157.43 453.48 L1155.29 452.91 L1153.14 452.35 L1151 451.77 L1148.85 451.19 L1146.7 450.61 L1144.56 450.02 L1142.41 449.42 L1140.27 448.81 L1138.12 448.2 L1135.97 447.58 L1133.83 446.96 L1131.68 446.33 L1129.54 445.69 L1127.39 445.05 L1125.24 444.4 L1123.1 443.74 L1120.95 443.08 L1118.8 442.41 L1116.66 441.74 L1114.51 441.06z" fill="#FFA500" fill-opacity="0.2"/>
<path d="M1114.51 426.05 L1116.66 426.98 L1118.8 427.91 L1120.95 428.83 L1123.1 429.74 L1125.24 430.65 L1127.39 431.56 L1129.54 432.46 L1131.68 433.35 L1133.83 434.23 L1135.97 435.11 L1138.12 435.98 L1140.27 436.85 L1142.41 437.71 L1144.56 438.55 L1146.7 439.39 L1148.85 440.21 L1151 441.02 L1153.14 441.83 L1155.29 442.63 L1157.43 443.44 L1159.58 444.24 L1161.73 445.05 L1163.87 445.86 L1166.02 446.68 L1168.16 447.52 L1170.31 448.36 L1172.46 449.22 L1174.6 450.08 L1176.75 450.96 L1178.89 451.83 L1181.04 452.72 L1183.19 453.6 L1185.33 454.49 L1187.48 455.38 L1189.62 456.27 L1191.77 457.15 L1193.92 458.03 L1196.06 458.91 L1198.21 459.78 L1200.35 460.67 L1202.5 461.56 L1204.65 462.44 L1206.79 463.33 L1208.94 464.2 L1211.09 465.05 L1213.23 465.88 L1215.38 466.68 L1217.52 467.45 L1219.67 468.2 L1221.82 468.92 L1223.96 469.63 L1226.11 470.3 L1228.25 470.96 L1230.4 471.61 L1232.55 472.24 L1234.69 472.86 L1236.84 473.47 L1238.98 474.07 L1241.13 474.68 L1243.28 475.28 L1245.42 475.89 L1247.57 476.5 L1249.71 477.12 L1251.86 477.76 L1254.01 478.41 L1256.15 479.07 L1258.3 479.74 L1260.44 480.41 L1262.59 481.1 L1264.74 481.78 L1266.88 482.46 L1269.03 483.14 L1271.17 483.81 L1273.32 484.47 L1275.47 485.12 L1277.61 485.76 L1279.76 486.37 L1281.9 486.95 L1284.05 487.5 L1286.2 488.04 L1288.34 488.63 L1290.49 489.28 L1292.63 490.04 L1294.78 490.88 L1296.93 491.78 L1299.07 492.71 L1301.22 493.65 L1303.37 494.57 L1305.51 495.45 L1307.66 496.26 L1309.8 496.97 L1311.95 497.65 L1314.1 498.32 L1316.24 498.98 L1318.39 499.62 L1320.53 500.23 L1322.68 500.82 L1324.83 501.38 L1326.97 501.9 L1329.12 502.38 L1331.26 502.83 L1333.41 503.22 L1335.56 503.57 L1337.7 503.9 L1339.85 504.22 L1341.99 504.51 L1344.14 504.79 L1346.29 505.06 L1348.43 505.31 L1350.58 505.55 L1352.72 505.77 L1354.87 505.99 L1357.02 506.19 L1359.16 506.38 L1361.31 506.57 L1363.45 506.75 L1365.6 506.93 L1367.75 507.11 L1369.89 507.29 L1372.04 507.46 L1374.18 507.63 L1376.33 507.78 L1378.48 507.92 L1380.62 508.05 L1382.77 508.16 L1384.92 508.25 L1387.06 508.31 L1389.21 508.35 L1391.35 508.38 L1393.5 508.41 L1395.65 508.44 L1397.79 508.46 L1399.94 508.49 L1402.08 508.51 L1404.23 508.53 L1406.38 508.55 L1408.52 508.56 L1410.67 508.57 L1412.81 508.58 L1414.96 508.59 L1417.11 508.6 L1419.25 508.6 L1421.4 508.6 L1423.54 508.59 L1425.69 508.58 L1427.84 508.56 L1429.98 508.53 L1432.13 508.49 L1434.27 508.45 L1436.42 508.39 L1438.57 508.33 L1440.71 508.26 L1442.86 508.19 L1445 508.1 L1447.15 507.83 L1449.3 507.28 L1451.44 506.54 L1453.59 505.7 L1455.73 504.85 L1455.73 532.62 L1453.59 532.95 L1451.44 533.28 L1449.3 533.57 L1447.15 533.78 L1445 533.87 L1442.86 533.87 L1440.71 533.87 L1438.57 533.87 L1436.42 533.87 L1434.27 533.87 L1432.13 533.87 L1429.98 533.87 L1427.84 533.87 L1425.69 533.87 L1423.54 533.87 L1421.4 533.87 L1419.25 533.87 L1417.11 533.87 L1414.96 533.87 L1412.81 533.87 L1410.67 533.87 L1408.52 533.87 L1406.38 533.86 L1404.23 533.82 L1402.08 533.76 L1399.94 533.67 L1397.79 533.56 L1395.65 533.45 L1393.5 533.33 L1391.35 533.21 L1389.21 533.09 L1387.06 532.97 L1384.92 532.84 L1382.77 532.7 L1380.62 532.55 L1378.48 532.38 L1376.33 532.21 L1374.18 532.03 L1372.04 531.83 L1369.89 531.61 L1367.75 531.38 L1365.6 531.13 L1363.45 530.87 L1361.31 530.6 L1359.16 530.32 L1357.02 530.02 L1354.87 529.7 L1352.72 529.34 L1350.58 528.96 L1348.43 528.56 L1346.29 528.15 L1344.14 527.74 L1341.99 527.33 L1339.85 526.94 L1337.7 526.58 L1335.56 526.24 L1333.41 525.94 L1331.26 525.67 L1329.12 525.41 L1326.97 525.17 L1324.83 524.92 L1322.68 524.67 L1320.53 524.41 L1318.39 524.13 L1316.24 523.85 L1314.1 523.57 L1311.95 523.27 L1309.8 522.95 L1307.66 522.61 L1305.51 522.24 L1303.37 521.84 L1301.22 521.41 L1299.07 520.96 L1296.93 520.5 L1294.78 520.03 L1292.63 519.55 L1290.49 519.04 L1288.34 518.52 L1286.2 517.99 L1284.05 517.45 L1281.9 516.92 L1279.76 516.39 L1277.61 515.87 L1275.47 515.34 L1273.32 514.82 L1271.17 514.29 L1269.03 513.76 L1266.88 513.24 L1264.74 512.71 L1262.59 512.18 L1260.44 511.65 L1258.3 511.12 L1256.15 510.6 L1254.01 510.07 L1251.86 509.54 L1249.71 509.01 L1247.57 508.48 L1245.42 507.96 L1243.28 507.43 L1241.13 506.9 L1238.98 506.37 L1236.84 505.84 L1234.69 505.31 L1232.55 504.78 L1230.4 504.26 L1228.25 503.73 L1226.11 503.21 L1223.96 502.7 L1221.82 502.18 L1219.67 501.68 L1217.52 501.18 L1215.38 500.68 L1213.23 500.18 L1211.09 499.68 L1208.94 499.18 L1206.79 498.68 L1204.65 498.18 L1202.5 497.67 L1200.35 497.15 L1198.21 496.63 L1196.06 496.09 L1193.92 495.54 L1191.77 494.98 L1189.62 494.42 L1187.48 493.84 L1185.33 493.26 L1183.19 492.68 L1181.04 492.1 L1178.89 491.52 L1176.75 490.95 L1174.6 490.38 L1172.46 489.82 L1170.31 489.28 L1168.16 488.74 L1166.02 488.22 L1163.87 487.7 L1161.73 487.19 L1159.58 486.68 L1157.43 486.17 L1155.29 485.67 L1153.14 485.17 L1151 484.68 L1148.85 484.18 L1146.7 483.68 L1144.56 483.18 L1142.41 482.67 L1140.27 482.17 L1138.12 481.66 L1135.97 481.15 L1133.83 480.64 L1131.68 480.14 L1129.54 479.63 L1127.39 479.12 L1125.24 478.62 L1123.1 478.11 L1120.95 477.6 L1118.8 477.09 L1116.66 476.59 L1114.51 476.08z" fill="#0033A0" fill-opacity="0.2"/>
<path d="M1114.51 411.29 L1116.66 412.31 L1118.8 413.32 L1120.95 414.33 L1123.1 415.32 L1125.24 416.32 L1127.39 417.3 L1129.54 418.27 L1131.68 419.24 L1133.83 420.2 L1135.97 421.15 L1138.12 422.1 L1140.27 423.03 L1142.41 423.96 L1144.56 424.88 L1146.7 425.8 L1148.85 426.71 L1151 427.62 L1153.14 428.52 L1155.29 429.41 L1157.43 430.29 L1159.58 431.16 L1161.73 432.02 L1163.87 432.87 L1166.02 433.71 L1168.16 434.53 L1170.31 435.34 L1172.46 436.13 L1174.6 436.91 L1176.75 437.67 L1178.89 438.43 L1181.04 439.18 L1183.19 439.91 L1185.33 440.64 L1187.48 441.37 L1189.62 442.09 L1191.77 442.8 L1193.92 443.51 L1196.06 444.23 L1198.21 444.94 L1200.35 445.64 L1202.5 446.34 L1204.65 447.03 L1206.79 447.72 L1208.94 448.4 L1211.09 449.08 L1213.23 449.76 L1215.38 450.43 L1217.52 451.1 L1219.67 451.77 L1221.82 452.45 L1223.96 453.12 L1226.11 453.79 L1228.25 454.46 L1230.4 455.13 L1232.55 455.8 L1234.69 456.47 L1236.84 457.13 L1238.98 457.8 L1241.13 458.46 L1243.28 459.12 L1245.42 459.78 L1247.57 460.44 L1249.71 461.09 L1251.86 461.75 L1254.01 462.39 L1256.15 463.03 L1258.3 463.67 L1260.44 464.29 L1262.59 464.92 L1264.74 465.54 L1266.88 466.17 L1269.03 466.8 L1271.17 467.44 L1273.32 468.09 L1275.47 468.75 L1277.61 469.43 L1279.76 470.12 L1281.9 470.83 L1284.05 471.56 L1286.2 472.3 L1288.34 473.06 L1290.49 473.83 L1292.63 474.63 L1294.78 475.44 L1296.93 476.29 L1299.07 477.18 L1301.22 478.1 L1303.37 479.02 L1305.51 479.94 L1307.66 480.84 L1309.8 481.73 L1311.95 482.63 L1314.1 483.53 L1316.24 484.39 L1318.39 485.21 L1320.53 485.97 L1322.68 486.68 L1324.83 487.37 L1326.97 488.03 L1329.12 488.66 L1331.26 489.25 L1333.41 489.79 L1335.56 490.29 L1337.7 490.76 L1339.85 491.2 L1341.99 491.62 L1344.14 492.03 L1346.29 492.41 L1348.43 492.79 L1350.58 493.15 L1352.72 493.51 L1354.87 493.87 L1357.02 494.23 L1359.16 494.59 L1361.31 494.96 L1363.45 495.32 L1365.6 495.68 L1367.75 496.03 L1369.89 496.36 L1372.04 496.67 L1374.18 496.97 L1376.33 497.23 L1378.48 497.49 L1380.62 497.74 L1382.77 497.97 L1384.92 498.19 L1387.06 498.38 L1389.21 498.56 L1391.35 498.71 L1393.5 498.86 L1395.65 498.99 L1397.79 499.12 L1399.94 499.24 L1402.08 499.35 L1404.23 499.45 L1406.38 499.54 L1408.52 499.63 L1410.67 499.71 L1412.81 499.79 L1414.96 499.87 L1417.11 499.95 L1419.25 500.01 L1421.4 500.06 L1423.54 500.09 L1425.69 500.09 L1427.84 500.09 L1429.98 500.09 L1432.13 500.09 L1434.27 500.09 L1436.42 500.09 L1438.57 500.09 L1440.71 500.09 L1442.86 500.09 L1445 500.09 L1447.15 500.09 L1449.3 500.09 L1451.44 500.09 L1453.59 500.09 L1455.73 500.09" stroke="#EDA81A" stroke-width="1.4" fill="none" stroke-linejoin="round"/>
<path d="M1114.51 451.56 L1116.66 452.4 L1118.8 453.23 L1120.95 454.05 L1123.1 454.87 L1125.24 455.68 L1127.39 456.49 L1129.54 457.29 L1131.68 458.08 L1133.83 458.87 L1135.97 459.65 L1138.12 460.43 L1140.27 461.19 L1142.41 461.95 L1144.56 462.71 L1146.7 463.46 L1148.85 464.2 L1151 464.94 L1153.14 465.68 L1155.29 466.4 L1157.43 467.13 L1159.58 467.84 L1161.73 468.55 L1163.87 469.25 L1166.02 469.95 L1168.16 470.64 L1170.31 471.32 L1172.46 471.99 L1174.6 472.65 L1176.75 473.3 L1178.89 473.95 L1181.04 474.59 L1183.19 475.23 L1185.33 475.86 L1187.48 476.49 L1189.62 477.12 L1191.77 477.76 L1193.92 478.39 L1196.06 479.03 L1198.21 479.68 L1200.35 480.33 L1202.5 480.99 L1204.65 481.66 L1206.79 482.33 L1208.94 483 L1211.09 483.66 L1213.23 484.32 L1215.38 484.97 L1217.52 485.61 L1219.67 486.23 L1221.82 486.84 L1223.96 487.42 L1226.11 487.98 L1228.25 488.53 L1230.4 489.06 L1232.55 489.58 L1234.69 490.09 L1236.84 490.59 L1238.98 491.08 L1241.13 491.57 L1243.28 492.06 L1245.42 492.55 L1247.57 493.04 L1249.71 493.53 L1251.86 494.03 L1254.01 494.54 L1256.15 495.04 L1258.3 495.54 L1260.44 496.04 L1262.59 496.54 L1264.74 497.04 L1266.88 497.54 L1269.03 498.05 L1271.17 498.55 L1273.32 499.06 L1275.47 499.58 L1277.61 500.1 L1279.76 500.63 L1281.9 501.16 L1284.05 501.69 L1286.2 502.22 L1288.34 502.77 L1290.49 503.32 L1292.63 503.9 L1294.78 504.5 L1296.93 505.13 L1299.07 505.82 L1301.22 506.53 L1303.37 507.24 L1305.51 507.94 L1307.66 508.61 L1309.8 509.25 L1311.95 509.88 L1314.1 510.5 L1316.24 511.1 L1318.39 511.67 L1320.53 512.19 L1322.68 512.7 L1324.83 513.18 L1326.97 513.65 L1329.12 514.09 L1331.26 514.51 L1333.41 514.9 L1335.56 515.25 L1337.7 515.59 L1339.85 515.91 L1341.99 516.22 L1344.14 516.51 L1346.29 516.79 L1348.43 517.07 L1350.58 517.32 L1352.72 517.57 L1354.87 517.81 L1357.02 518.04 L1359.16 518.26 L1361.31 518.48 L1363.45 518.69 L1365.6 518.9 L1367.75 519.09 L1369.89 519.27 L1372.04 519.42 L1374.18 519.56 L1376.33 519.66 L1378.48 519.75 L1380.62 519.83 L1382.77 519.9 L1384.92 519.97 L1387.06 520.03 L1389.21 520.09 L1391.35 520.16 L1393.5 520.24 L1395.65 520.32 L1397.79 520.4 L1399.94 520.47 L1402.08 520.53 L1404.23 520.58 L1406.38 520.6 L1408.52 520.61 L1410.67 520.61 L1412.81 520.61 L1414.96 520.61 L1417.11 520.61 L1419.25 520.61 L1421.4 520.61 L1423.54 520.61 L1425.69 520.61 L1427.84 520.61 L1429.98 520.61 L1432.13 520.61 L1434.27 520.61 L1436.42 520.61 L1438.57 520.61 L1440.71 520.61 L1442.86 520.61 L1445 520.61 L1447.15 520.43 L1449.3 520.02 L1451.44 519.44 L1453.59 518.78 L1455.73 518.11" stroke="#1F3A93" stroke-width="1.4" fill="none" stroke-linejoin="round"/>
<g font-size="4.5" fill="#3a3a3a" stroke="#3a3a3a" stroke-width="0.12"><text x="1090" y="647.81" text-anchor="end">0e+00</text><text x="1090" y="548.24" text-anchor="end">5e+05</text><text x="1090" y="448.43" text-anchor="end">1e+06</text><text x="1480.5" y="647.81">0</text><text x="1480.5" y="548.24">50</text><text x="1480.5" y="448.43">100</text><text x="1114.51" y="666" text-anchor="middle">1990</text><text x="1224.58" y="666" text-anchor="middle">2000</text><text x="1334.66" y="666" text-anchor="middle">2010</text><text x="1444.73" y="666" text-anchor="middle">2020</text></g>
<g stroke="#000" stroke-width="0.14">
<text x="1284.7" y="672.6" font-size="5.6" text-anchor="middle" fill="#000" font-weight="normal">Year</text>
<text transform="translate(1075 513.5) rotate(-90)" font-size="5.6" text-anchor="middle" fill="#000">Prevalence Number</text>
<text transform="translate(1489.5 513.5) rotate(90)" font-size="5.6" text-anchor="middle" fill="#000">Age-standardized Prevalence rate per 100,000</text>
<text x="1503" y="487" font-size="5.6" fill="#000">Number</text>
<rect x="1503.2" y="490.6" width="8.2" height="7.8999999999999995" fill="#FFA607" stroke="none"/>
<rect x="1503.2" y="499.6" width="8.2" height="7.8999999999999995" fill="#0234A8" stroke="none"/>
<text x="1514.6" y="496.3" font-size="4.8" fill="#111">Female</text>
<text x="1514.6" y="505.4" font-size="4.8" fill="#111">Male</text>
<text x="1503" y="524.4" font-size="5.6" fill="#000">Rate</text>
<line x1="1504" x2="1511" y1="532.5" y2="532.5" stroke="#EDA81A" stroke-width="1.4"/>
<line x1="1504" x2="1511" y1="541.5" y2="541.5" stroke="#1F3A93" stroke-width="1.4"/>
<text x="1514.6" y="534.2" font-size="4.8" fill="#111">Female</text>
<text x="1514.6" y="543.2" font-size="4.8" fill="#111">Male</text>
</g>
<text transform="translate(1066.34 413.77) scale(0.7443 1)" font-size="32.56" fill="#000" stroke="#000" stroke-width="0.45" stroke-linejoin="round">F</text></g>
<!-- panel G -->
<g><g stroke="#efefef" stroke-width="0.5" fill="none"><line x1="85" x2="465" y1="1006.94" y2="1006.94"/><line x1="85" x2="465" y1="964.41" y2="964.41"/><line x1="85" x2="465" y1="921.88" y2="921.88"/><line x1="85" x2="465" y1="879.36" y2="879.36"/><line x1="85" x2="465" y1="837.08" y2="837.08"/><line x1="85" x2="465" y1="794.55" y2="794.55"/><line x1="85" x2="465" y1="752.02" y2="752.02"/><line x1="105.51" x2="105.51" y1="728.5" y2="1018"/><line x1="146.79" x2="146.79" y1="728.5" y2="1018"/><line x1="188.06" x2="188.06" y1="728.5" y2="1018"/><line x1="229.34" x2="229.34" y1="728.5" y2="1018"/><line x1="270.62" x2="270.62" y1="728.5" y2="1018"/><line x1="311.89" x2="311.89" y1="728.5" y2="1018"/><line x1="353.17" x2="353.17" y1="728.5" y2="1018"/><line x1="394.45" x2="394.45" y1="728.5" y2="1018"/><line x1="435.73" x2="435.73" y1="728.5" y2="1018"/></g>
<path d="M102.33 1006.94h3.22V968.92h-3.22zM110.59 1006.94h3.22V968.16h-3.22zM118.84 1006.94h3.22V968.16h-3.22zM127.1 1006.94h3.22V968.16h-3.22zM135.35 1006.94h3.22V967.66h-3.22zM143.61 1006.94h3.22V967.16h-3.22zM151.86 1006.94h3.22V966.91h-3.22zM160.12 1006.94h3.22V966.16h-3.22zM168.37 1006.94h3.22V965.16h-3.22zM176.63 1006.94h3.22V963.66h-3.22zM184.89 1006.94h3.22V963.16h-3.22zM193.14 1006.94h3.22V962.66h-3.22zM201.4 1006.94h3.22V961.41h-3.22zM209.65 1006.94h3.22V960.16h-3.22zM217.91 1006.94h3.22V958.66h-3.22zM226.16 1006.94h3.22V957.16h-3.22zM234.42 1006.94h3.22V955.66h-3.22zM242.67 1006.94h3.22V954.41h-3.22zM250.93 1006.94h3.22V952.15h-3.22zM259.18 1006.94h3.22V949.65h-3.22zM267.44 1006.94h3.22V945.65h-3.22zM275.69 1006.94h3.22V942.15h-3.22zM283.95 1006.94h3.22V939.65h-3.22zM292.21 1006.94h3.22V935.64h-3.22zM300.46 1006.94h3.22V932.64h-3.22zM308.72 1006.94h3.22V931.64h-3.22zM316.97 1006.94h3.22V935.14h-3.22zM325.23 1006.94h3.22V935.64h-3.22zM333.48 1006.94h3.22V933.14h-3.22zM341.74 1006.94h3.22V930.14h-3.22zM349.99 1006.94h3.22V927.64h-3.22zM358.25 1006.94h3.22V926.39h-3.22zM366.5 1006.94h3.22V927.14h-3.22zM374.76 1006.94h3.22V925.89h-3.22zM383.01 1006.94h3.22V923.39h-3.22zM391.27 1006.94h3.22V921.38h-3.22zM399.53 1006.94h3.22V918.13h-3.22zM407.78 1006.94h3.22V914.13h-3.22zM416.04 1006.94h3.22V910.13h-3.22zM424.29 1006.94h3.22V906.37h-3.22zM432.55 1006.94h3.22V903.12h-3.22zM440.8 1006.94h3.22V900.62h-3.22z" fill="#FFA607"/>
<path d="M105.92 1006.94h2.77V974.42h-2.77zM114.18 1006.94h2.77V973.17h-2.77zM122.43 1006.94h2.77V971.92h-2.77zM130.69 1006.94h2.77V970.92h-2.77zM138.94 1006.94h2.77V969.92h-2.77zM147.2 1006.94h2.77V968.92h-2.77zM155.46 1006.94h2.77V968.41h-2.77zM163.71 1006.94h2.77V966.16h-2.77zM171.97 1006.94h2.77V964.16h-2.77zM180.22 1006.94h2.77V961.91h-2.77zM188.48 1006.94h2.77V960.16h-2.77zM196.73 1006.94h2.77V958.16h-2.77zM204.99 1006.94h2.77V956.41h-2.77zM213.24 1006.94h2.77V954.66h-2.77zM221.5 1006.94h2.77V953.16h-2.77zM229.75 1006.94h2.77V951.15h-2.77zM238.01 1006.94h2.77V949.4h-2.77zM246.26 1006.94h2.77V947.65h-2.77zM254.52 1006.94h2.77V945.15h-2.77zM262.77 1006.94h2.77V942.15h-2.77zM271.03 1006.94h2.77V937.14h-2.77zM279.29 1006.94h2.77V933.14h-2.77zM287.54 1006.94h2.77V929.39h-2.77zM295.8 1006.94h2.77V923.14h-2.77zM304.05 1006.94h2.77V918.38h-2.77zM312.31 1006.94h2.77V916.88h-2.77zM320.56 1006.94h2.77V920.38h-2.77zM328.82 1006.94h2.77V919.13h-2.77zM337.07 1006.94h2.77V914.63h-2.77zM345.33 1006.94h2.77V908.38h-2.77zM353.58 1006.94h2.77V903.37h-2.77zM361.84 1006.94h2.77V900.37h-2.77zM370.09 1006.94h2.77V896.87h-2.77zM378.35 1006.94h2.77V893.12h-2.77zM386.61 1006.94h2.77V890.11h-2.77zM394.86 1006.94h2.77V887.11h-2.77zM403.12 1006.94h2.77V883.11h-2.77zM411.37 1006.94h2.77V880.11h-2.77zM419.63 1006.94h2.77V877.11h-2.77zM427.88 1006.94h2.77V873.1h-2.77zM436.14 1006.94h2.77V868.6h-2.77zM444.39 1006.94h2.77V863.6h-2.77z" fill="#0234A8"/>
<path d="M103.94 959.66V976.42M103.42 959.66h1.05M103.42 976.42h1.05M112.2 959.22V975.43M111.67 959.22h1.05M111.67 975.43h1.05M120.45 958.74V974.41M119.93 958.74h1.05M119.93 974.41h1.05M128.71 958.24V973.37M128.18 958.24h1.05M128.18 973.37h1.05M136.96 957.71V972.3M136.44 957.71h1.05M136.44 972.3h1.05M145.22 957.16V971.21M144.69 957.16h1.05M144.69 971.21h1.05M153.47 956.58V970.1M152.95 956.58h1.05M152.95 970.1h1.05M161.73 955.98V968.97M161.2 955.98h1.05M161.2 968.97h1.05M169.98 955.35V967.81M169.46 955.35h1.05M169.46 967.81h1.05M178.24 954.66V966.64M177.71 954.66h1.05M177.71 966.64h1.05M186.5 953.91V965.45M185.97 953.91h1.05M185.97 965.45h1.05M194.75 953.11V964.24M194.22 953.11h1.05M194.22 964.24h1.05M203.01 952.26V963.01M202.48 952.26h1.05M202.48 963.01h1.05M211.26 951.31V961.76M210.74 951.31h1.05M210.74 961.76h1.05M219.52 950.21V960.5M218.99 950.21h1.05M218.99 960.5h1.05M227.77 948.9V959.23M227.25 948.9h1.05M227.25 959.23h1.05M236.03 947.09V957.94M235.5 947.09h1.05M235.5 957.94h1.05M244.28 944.67V956.64M243.76 944.67h1.05M243.76 956.64h1.05M252.54 941.91V955.32M252.01 941.91h1.05M252.01 955.32h1.05M260.79 939.07V953.99M260.27 939.07h1.05M260.27 953.99h1.05M269.05 936.39V952.65M268.52 936.39h1.05M268.52 952.65h1.05M277.3 933.77V951.27M276.78 933.77h1.05M276.78 951.27h1.05M285.56 931.03V949.83M285.03 931.03h1.05M285.03 949.83h1.05M293.82 928.35V948.34M293.29 928.35h1.05M293.29 948.34h1.05M302.07 925.91V946.81M301.54 925.91h1.05M301.54 946.81h1.05M310.33 923.89V945.26M309.8 923.89h1.05M309.8 945.26h1.05M318.58 922.3V943.7M318.06 922.3h1.05M318.06 943.7h1.05M326.84 920.96V942.14M326.31 920.96h1.05M326.31 942.14h1.05M335.09 919.74V940.61M334.57 919.74h1.05M334.57 940.61h1.05M343.35 918.5V939.1M342.82 918.5h1.05M342.82 939.1h1.05M351.6 917.13V937.64M351.08 917.13h1.05M351.08 937.64h1.05M359.86 915.75V936.22M359.33 915.75h1.05M359.33 936.22h1.05M368.11 914.45V934.81M367.59 914.45h1.05M367.59 934.81h1.05M376.37 913.01V933.4M375.84 913.01h1.05M375.84 933.4h1.05M384.62 911.22V932.01M384.1 911.22h1.05M384.1 932.01h1.05M392.88 908.88V930.64M392.35 908.88h1.05M392.35 930.64h1.05M401.14 904.42V929.27M400.61 904.42h1.05M400.61 929.27h1.05M409.39 897.88V927.92M408.86 897.88h1.05M408.86 927.92h1.05M417.65 891.36V926.58M417.12 891.36h1.05M417.12 926.58h1.05M425.9 885.61V925.25M425.37 885.61h1.05M425.37 925.25h1.05M434.16 878.86V923.94M433.63 878.86h1.05M433.63 923.94h1.05M442.41 875.6V922.64M441.89 875.6h1.05M441.89 922.64h1.05M107.3 962.16V978.97M106.78 962.16h1.05M106.78 978.97h1.05M115.56 961.67V977.9M115.03 961.67h1.05M115.03 977.9h1.05M123.81 960.92V976.82M123.29 960.92h1.05M123.29 976.82h1.05M132.07 959.97V975.96M131.54 959.97h1.05M131.54 975.96h1.05M140.32 958.87V975.1M139.8 958.87h1.05M139.8 975.1h1.05M148.58 957.66V974.24M148.05 957.66h1.05M148.05 974.24h1.05M156.83 956.07V973.81M156.31 956.07h1.05M156.31 973.81h1.05M165.09 953.98V971.87M164.56 953.98h1.05M164.56 971.87h1.05M173.34 951.69V970.15M172.82 951.69h1.05M172.82 970.15h1.05M181.6 949.48V968.21M181.07 949.48h1.05M181.07 968.21h1.05M189.86 947.65V966.71M189.33 947.65h1.05M189.33 966.71h1.05M198.11 946.28V964.99M197.58 946.28h1.05M197.58 964.99h1.05M206.37 945.13V963.48M205.84 945.13h1.05M205.84 963.48h1.05M214.62 944.04V961.98M214.1 944.04h1.05M214.1 961.98h1.05M222.88 942.85V960.68M222.35 942.85h1.05M222.35 960.68h1.05M231.13 941.4V958.96M230.61 941.4h1.05M230.61 958.96h1.05M239.39 939.63V957.46M238.86 939.63h1.05M238.86 957.46h1.05M247.64 937.59V955.95M247.12 937.59h1.05M247.12 955.95h1.05M255.9 935.23V953.8M255.37 935.23h1.05M255.37 953.8h1.05M264.15 932.51V951.22M263.63 932.51h1.05M263.63 951.22h1.05M272.41 929.39V946.92M271.88 929.39h1.05M271.88 946.92h1.05M280.66 925.19V943.47M280.14 925.19h1.05M280.14 943.47h1.05M288.92 919.88V940.25M288.39 919.88h1.05M288.39 940.25h1.05M297.18 914.38V934.87M296.65 914.38h1.05M296.65 934.87h1.05M305.43 908.88V930.78M304.9 908.88h1.05M304.9 930.78h1.05M313.69 908.13V929.49M313.16 908.13h1.05M313.16 929.49h1.05M321.94 911.63V932.5M321.41 911.63h1.05M321.41 932.5h1.05M330.2 909.38V931.43M329.67 909.38h1.05M329.67 931.43h1.05M338.45 904.62V927.55M337.93 904.62h1.05M337.93 927.55h1.05M346.71 897.62V922.17M346.18 897.62h1.05M346.18 922.17h1.05M354.96 892.12V917.87M354.44 892.12h1.05M354.44 917.87h1.05M363.22 887.61V915.29M362.69 887.61h1.05M362.69 915.29h1.05M371.47 881.86V912.28M370.95 881.86h1.05M370.95 912.28h1.05M379.73 875.85V909.05M379.2 875.85h1.05M379.2 909.05h1.05M387.98 872.6V906.47M387.46 872.6h1.05M387.46 906.47h1.05M396.24 868.85V903.89M395.71 868.85h1.05M395.71 903.89h1.05M404.49 860.59V900.45M403.97 860.59h1.05M403.97 900.45h1.05M412.75 854.09V897.86M412.22 854.09h1.05M412.22 897.86h1.05M421.01 850.84V895.28M420.48 850.84h1.05M420.48 895.28h1.05M429.26 842.33V891.84M428.73 842.33h1.05M428.73 891.84h1.05M437.52 840.33V887.97M436.99 840.33h1.05M436.99 887.97h1.05M445.77 830.07V883.66M445.25 830.07h1.05M445.25 883.66h1.05" stroke="#000" stroke-width="1.1" fill="none" opacity="0.55"/>
<path d="M105.51 809.31 L109.64 809.69 L113.77 810.06 L117.89 812.56 L122.02 815.07 L126.15 818.82 L130.28 822.57 L134.4 824.45 L138.53 826.32 L142.66 828.2 L146.79 830.07 L150.91 830.7 L155.04 831.33 L159.17 833.2 L163.3 835.08 L167.43 834.83 L171.55 834.58 L175.68 836.7 L179.81 838.83 L183.94 840.08 L188.06 841.33 L192.19 842.21 L196.32 843.08 L200.45 843.46 L204.57 843.83 L208.7 843.46 L212.83 843.08 L216.96 842.21 L221.09 841.33 L225.21 841.58 L229.34 841.83 L233.47 844.08 L237.6 846.34 L241.72 848.46 L245.85 850.59 L249.98 850.34 L254.11 850.09 L258.23 849.46 L262.36 848.84 L266.49 846.34 L270.62 843.83 L274.75 843.58 L278.87 843.33 L283 843.83 L287.13 844.33 L291.26 842.21 L295.38 840.08 L299.51 838.83 L303.64 837.58 L307.77 839.46 L311.89 841.33 L316.02 848.84 L320.15 856.34 L324.28 858.84 L328.41 861.35 L332.53 861.97 L336.66 862.6 L340.79 862.85 L344.92 863.1 L349.04 863.47 L353.17 863.85 L357.3 865.72 L361.43 867.6 L365.55 871.35 L369.68 875.1 L373.81 876.98 L377.94 878.86 L382.07 880.11 L386.19 881.36 L390.32 881.36 L394.45 881.36 L398.58 880.98 L402.7 880.61 L406.83 880.11 L410.96 879.61 L415.09 879.61 L419.21 879.61 L423.34 879.86 L427.47 880.11 L431.6 879.48 L435.73 878.86 L439.85 878.23 L443.98 877.61 L443.98 923.89 L439.85 924.51 L435.73 925.14 L431.6 924.51 L427.47 923.89 L423.34 922.64 L419.21 921.38 L415.09 920.76 L410.96 920.13 L406.83 919.51 L402.7 918.88 L398.58 918.26 L394.45 917.63 L390.32 916.38 L386.19 915.13 L382.07 913.25 L377.94 911.38 L373.81 909.5 L369.68 907.63 L365.55 904.5 L361.43 901.37 L357.3 899.5 L353.17 897.62 L349.04 896.99 L344.92 896.37 L340.79 895.12 L336.66 893.87 L332.53 893.24 L328.41 892.62 L324.28 889.49 L320.15 886.36 L316.02 880.11 L311.89 873.85 L307.77 873.23 L303.64 872.6 L299.51 874.48 L295.38 876.36 L291.26 878.23 L287.13 880.11 L283 880.73 L278.87 881.36 L274.75 881.98 L270.62 882.61 L266.49 885.11 L262.36 887.61 L258.23 889.49 L254.11 891.36 L249.98 891.11 L245.85 890.86 L241.72 891.36 L237.6 891.87 L233.47 890.99 L229.34 890.11 L225.21 890.49 L221.09 890.86 L216.96 891.11 L212.83 891.36 L208.7 891.99 L204.57 892.62 L200.45 891.99 L196.32 891.36 L192.19 891.11 L188.06 890.86 L183.94 889.24 L179.81 887.61 L175.68 886.99 L171.55 886.36 L167.43 885.74 L163.3 885.11 L159.17 884.49 L155.04 883.86 L150.91 883.48 L146.79 883.11 L142.66 881.98 L138.53 880.86 L134.4 879.86 L130.28 878.86 L126.15 876.98 L122.02 875.1 L117.89 875.1 L113.77 875.1 L109.64 875.1 L105.51 875.1z" fill="#FFA500" fill-opacity="0.2"/>
<path d="M105.51 752.52 L109.64 757.15 L113.77 761.78 L117.89 761.28 L122.02 760.78 L126.15 760.03 L130.28 759.28 L134.4 761.53 L138.53 763.78 L142.66 766.03 L146.79 768.28 L150.91 774.16 L155.04 780.04 L159.17 777.67 L163.3 775.29 L167.43 775.16 L171.55 775.04 L175.68 773.16 L179.81 771.29 L183.94 771.29 L188.06 771.29 L192.19 773.16 L196.32 775.04 L200.45 774.41 L204.57 773.79 L208.7 775.66 L212.83 777.54 L216.96 778.79 L221.09 780.04 L225.21 781.04 L229.34 782.04 L233.47 781.42 L237.6 780.79 L241.72 782.54 L245.85 784.3 L249.98 783.67 L254.11 783.04 L258.23 782.17 L262.36 781.29 L266.49 778.17 L270.62 775.04 L274.75 771.04 L278.87 767.03 L283 766.91 L287.13 766.78 L291.26 758.4 L295.38 750.02 L299.51 745.64 L303.64 741.27 L307.77 743.39 L311.89 745.52 L316.02 756.53 L320.15 767.53 L324.28 768.41 L328.41 769.29 L332.53 769.04 L336.66 768.79 L340.79 766.91 L344.92 765.03 L349.04 764.66 L353.17 764.28 L357.3 765.28 L361.43 766.28 L365.55 766.91 L369.68 767.53 L373.81 767.16 L377.94 766.78 L382.07 769.91 L386.19 773.04 L390.32 775.29 L394.45 777.54 L398.58 775.66 L402.7 773.79 L406.83 774.79 L410.96 775.79 L415.09 777.92 L419.21 780.04 L423.34 779.42 L427.47 778.79 L431.6 781.29 L435.73 783.79 L439.85 781.54 L443.98 779.29 L443.98 853.84 L439.85 852.96 L435.73 852.09 L431.6 850.84 L427.47 849.59 L423.34 847.09 L419.21 844.58 L415.09 841.96 L410.96 839.33 L406.83 835.95 L402.7 832.58 L398.58 830.7 L394.45 828.82 L390.32 826.32 L386.19 823.82 L382.07 821.32 L377.94 818.82 L373.81 816.94 L369.68 815.07 L365.55 812.94 L361.43 810.81 L357.3 808.94 L353.17 807.06 L349.04 806.68 L344.92 806.31 L340.79 807.19 L336.66 808.06 L332.53 808.44 L328.41 808.81 L324.28 806.93 L320.15 805.06 L316.02 795.43 L311.89 785.8 L307.77 784.17 L303.64 782.54 L299.51 785.05 L295.38 787.55 L291.26 795.93 L287.13 804.31 L283 806.56 L278.87 808.81 L274.75 811.94 L270.62 815.07 L266.49 822.82 L262.36 830.58 L258.23 831.7 L254.11 832.83 L249.98 833.95 L245.85 835.08 L241.72 835.39 L237.6 835.7 L233.47 836.02 L229.34 836.33 L225.21 836.64 L221.09 836.95 L216.96 837.27 L212.83 837.58 L208.7 840.71 L204.57 843.83 L200.45 844.46 L196.32 845.08 L192.19 845.84 L188.06 846.59 L183.94 847.34 L179.81 848.09 L175.68 849.09 L171.55 850.09 L167.43 851.96 L163.3 853.84 L159.17 855.97 L155.04 858.09 L150.91 858.22 L146.79 858.34 L142.66 858.47 L138.53 858.59 L134.4 858.84 L130.28 859.09 L126.15 859.34 L122.02 859.59 L117.89 860.03 L113.77 860.47 L109.64 860.91 L105.51 861.35z" fill="#0033A0" fill-opacity="0.2"/>
<path d="M105.51 844.58 L109.64 844.96 L113.77 845.33 L117.89 847.09 L122.02 848.84 L126.15 850.71 L130.28 852.59 L134.4 854.22 L138.53 855.84 L142.66 857.34 L146.79 858.84 L150.91 860.34 L155.04 861.85 L159.17 862.85 L163.3 863.85 L167.43 864.47 L171.55 865.1 L175.68 864.85 L179.81 864.6 L183.94 866.35 L188.06 868.1 L192.19 869.35 L196.32 870.6 L200.45 870.85 L204.57 871.1 L208.7 871.1 L212.83 871.1 L216.96 870.98 L221.09 870.85 L225.21 871.23 L229.34 871.6 L233.47 871.85 L237.6 872.1 L241.72 872.73 L245.85 873.35 L249.98 872.73 L254.11 872.1 L258.23 870.73 L262.36 869.35 L266.49 866.85 L270.62 864.35 L274.75 862.6 L278.87 860.84 L283 861.1 L287.13 861.35 L291.26 859.22 L295.38 857.09 L299.51 855.72 L303.64 854.34 L307.77 855.97 L311.89 857.59 L316.02 864.22 L320.15 870.85 L324.28 874.23 L328.41 877.61 L332.53 877.86 L336.66 878.11 L340.79 878.36 L344.92 878.61 L349.04 878.98 L353.17 879.36 L357.3 881.36 L361.43 883.36 L365.55 887.11 L369.68 890.86 L373.81 892.37 L377.94 893.87 L382.07 894.74 L386.19 895.62 L390.32 897.24 L394.45 898.87 L398.58 898.99 L402.7 899.12 L406.83 899.37 L410.96 899.62 L415.09 899.87 L419.21 900.12 L423.34 900.5 L427.47 900.87 L431.6 901.37 L435.73 901.87 L439.85 902.5 L443.98 903.12" stroke="#EDA81A" stroke-width="1.4" fill="none" stroke-linejoin="round"/>
<path d="M105.51 813.81 L109.64 813.56 L113.77 813.31 L117.89 812.69 L122.02 812.06 L126.15 812.94 L130.28 813.81 L134.4 814.44 L138.53 815.07 L142.66 816.07 L146.79 817.07 L150.91 819.19 L155.04 821.32 L159.17 819.44 L163.3 817.57 L167.43 816.69 L171.55 815.82 L175.68 814.69 L179.81 813.56 L183.94 813.56 L188.06 813.56 L192.19 813.81 L196.32 814.06 L200.45 813.31 L204.57 812.56 L208.7 812.06 L212.83 811.56 L216.96 811.69 L221.09 811.81 L225.21 811.31 L229.34 810.81 L233.47 810.56 L237.6 810.31 L241.72 810.69 L245.85 811.06 L249.98 810.19 L254.11 809.31 L258.23 807.81 L262.36 806.31 L266.49 801.06 L270.62 795.8 L274.75 791.8 L278.87 787.8 L283 786.42 L287.13 785.05 L291.26 777.17 L295.38 769.29 L299.51 765.53 L303.64 761.78 L307.77 763.41 L311.89 765.03 L316.02 775.66 L320.15 786.3 L324.28 787.92 L328.41 789.55 L332.53 789.42 L336.66 789.3 L340.79 787.55 L344.92 785.8 L349.04 785.17 L353.17 784.55 L357.3 786.92 L361.43 789.3 L365.55 791.8 L369.68 794.3 L373.81 795.05 L377.94 795.8 L382.07 798.3 L386.19 800.81 L390.32 802.93 L394.45 805.06 L398.58 805.68 L402.7 806.31 L406.83 808.44 L410.96 810.56 L415.09 813.06 L419.21 815.57 L423.34 816.32 L427.47 817.07 L431.6 817.44 L435.73 817.82 L439.85 818.44 L443.98 819.07" stroke="#1F3A93" stroke-width="1.4" fill="none" stroke-linejoin="round"/>
<g font-size="4.5" fill="#3a3a3a" stroke="#3a3a3a" stroke-width="0.12"><text x="82.5" y="1008.56" text-anchor="end">0</text><text x="82.5" y="923.5" text-anchor="end">400000</text><text x="82.5" y="838.7" text-anchor="end">800000</text><text x="82.5" y="753.64" text-anchor="end">1200000</text><text x="467" y="1008.56">0</text><text x="467" y="923.5">40</text><text x="467" y="838.7">80</text><text x="467" y="753.64">120</text><text x="105.51" y="1026.7" text-anchor="middle">1980</text><text x="188.06" y="1026.7" text-anchor="middle">1990</text><text x="270.62" y="1026.7" text-anchor="middle">2000</text><text x="353.17" y="1026.7" text-anchor="middle">2010</text><text x="435.73" y="1026.7" text-anchor="middle">2020</text></g>
<g stroke="#000" stroke-width="0.14">
<text x="274" y="1033" font-size="5.6" text-anchor="middle" fill="#000" font-weight="normal">Year</text>
<text transform="translate(62 874) rotate(-90)" font-size="5.6" text-anchor="middle" fill="#000">Deaths Number</text>
<text transform="translate(476.5 874) rotate(90)" font-size="5.6" text-anchor="middle" fill="#000">Age-standardized Deaths rate per 100,000</text>
<text x="489.5" y="847.5" font-size="5.6" fill="#000">Number</text>
<rect x="489.7" y="851.1" width="8.2" height="7.8999999999999995" fill="#FFA607" stroke="none"/>
<rect x="489.7" y="860.1" width="8.2" height="7.8999999999999995" fill="#0234A8" stroke="none"/>
<text x="501.1" y="856.8" font-size="4.8" fill="#111">Female</text>
<text x="501.1" y="865.9" font-size="4.8" fill="#111">Male</text>
<text x="489.5" y="884.9" font-size="5.6" fill="#000">Rate</text>
<line x1="490.5" x2="497.5" y1="893" y2="893" stroke="#EDA81A" stroke-width="1.4"/>
<line x1="490.5" x2="497.5" y1="902" y2="902" stroke="#1F3A93" stroke-width="1.4"/>
<text x="501.1" y="894.7" font-size="4.8" fill="#111">Female</text>
<text x="501.1" y="903.7" font-size="4.8" fill="#111">Male</text>
</g>
<text transform="translate(6.18 744.88) scale(0.8866 1)" font-size="32.56" fill="#000" stroke="#000" stroke-width="0.45" stroke-linejoin="round">G</text></g>
<!-- panel H -->
<g><g stroke="#efefef" stroke-width="0.5" fill="none"><line x1="584.5" x2="964" y1="1006.69" y2="1006.69"/><line x1="584.5" x2="964" y1="978.92" y2="978.92"/><line x1="584.5" x2="964" y1="951.4" y2="951.4"/><line x1="584.5" x2="964" y1="923.64" y2="923.64"/><line x1="584.5" x2="964" y1="896.12" y2="896.12"/><line x1="584.5" x2="964" y1="868.35" y2="868.35"/><line x1="584.5" x2="964" y1="840.83" y2="840.83"/><line x1="584.5" x2="964" y1="813.06" y2="813.06"/><line x1="584.5" x2="964" y1="785.55" y2="785.55"/><line x1="584.5" x2="964" y1="757.78" y2="757.78"/><line x1="584.5" x2="964" y1="730.01" y2="730.01"/><line x1="604.51" x2="604.51" y1="728.5" y2="1018"/><line x1="645.89" x2="645.89" y1="728.5" y2="1018"/><line x1="687.26" x2="687.26" y1="728.5" y2="1018"/><line x1="728.64" x2="728.64" y1="728.5" y2="1018"/><line x1="770.02" x2="770.02" y1="728.5" y2="1018"/><line x1="811.39" x2="811.39" y1="728.5" y2="1018"/><line x1="852.77" x2="852.77" y1="728.5" y2="1018"/><line x1="894.15" x2="894.15" y1="728.5" y2="1018"/><line x1="935.52" x2="935.52" y1="728.5" y2="1018"/></g>
<path d="M601.32 1006.69h3.23V960.16h-3.23zM609.6 1006.69h3.23V959.66h-3.23zM617.87 1006.69h3.23V960.16h-3.23zM626.15 1006.69h3.23V960.41h-3.23zM634.42 1006.69h3.23V960.66h-3.23zM642.7 1006.69h3.23V960.66h-3.23zM650.98 1006.69h3.23V960.91h-3.23zM659.25 1006.69h3.23V960.66h-3.23zM667.53 1006.69h3.23V960.16h-3.23zM675.8 1006.69h3.23V959.41h-3.23zM684.08 1006.69h3.23V959.66h-3.23zM692.35 1006.69h3.23V959.66h-3.23zM700.63 1006.69h3.23V959.41h-3.23zM708.9 1006.69h3.23V958.91h-3.23zM717.18 1006.69h3.23V958.41h-3.23zM725.45 1006.69h3.23V957.66h-3.23zM733.73 1006.69h3.23V957.16h-3.23zM742.01 1006.69h3.23V956.66h-3.23zM750.28 1006.69h3.23V955.66h-3.23zM758.56 1006.69h3.23V953.91h-3.23zM766.83 1006.69h3.23V951.65h-3.23zM775.11 1006.69h3.23V949.4h-3.23zM783.38 1006.69h3.23V947.15h-3.23zM791.66 1006.69h3.23V945.15h-3.23zM799.93 1006.69h3.23V943.15h-3.23zM808.21 1006.69h3.23V944.15h-3.23zM816.48 1006.69h3.23V948.15h-3.23zM824.76 1006.69h3.23V949.4h-3.23zM833.03 1006.69h3.23V949.4h-3.23zM841.31 1006.69h3.23V949.15h-3.23zM849.59 1006.69h3.23V949.15h-3.23zM857.86 1006.69h3.23V949.9h-3.23zM866.14 1006.69h3.23V952.4h-3.23zM874.41 1006.69h3.23V953.41h-3.23zM882.69 1006.69h3.23V953.91h-3.23zM890.96 1006.69h3.23V953.91h-3.23zM899.24 1006.69h3.23V953.16h-3.23zM907.51 1006.69h3.23V952.65h-3.23zM915.79 1006.69h3.23V951.15h-3.23zM924.06 1006.69h3.23V950.4h-3.23zM932.34 1006.69h3.23V949.65h-3.23zM940.61 1006.69h3.23V947.15h-3.23z" fill="#FFA607"/>
<path d="M604.92 1006.69h2.77V961.41h-2.77zM613.2 1006.69h2.77V961.16h-2.77zM621.47 1006.69h2.77V960.16h-2.77zM629.75 1006.69h2.77V960.16h-2.77zM638.02 1006.69h2.77V959.66h-2.77zM646.3 1006.69h2.77V959.66h-2.77zM654.58 1006.69h2.77V959.66h-2.77zM662.85 1006.69h2.77V957.66h-2.77zM671.13 1006.69h2.77V956.16h-2.77zM679.4 1006.69h2.77V954.41h-2.77zM687.68 1006.69h2.77V953.41h-2.77zM695.95 1006.69h2.77V952.4h-2.77zM704.23 1006.69h2.77V951.4h-2.77zM712.5 1006.69h2.77V950.65h-2.77zM720.78 1006.69h2.77V949.9h-2.77zM729.05 1006.69h2.77V948.4h-2.77zM737.33 1006.69h2.77V946.9h-2.77zM745.6 1006.69h2.77V945.65h-2.77zM753.88 1006.69h2.77V943.9h-2.77zM762.16 1006.69h2.77V941.65h-2.77zM770.43 1006.69h2.77V937.64h-2.77zM778.71 1006.69h2.77V934.39h-2.77zM786.98 1006.69h2.77V931.64h-2.77zM795.26 1006.69h2.77V928.14h-2.77zM803.53 1006.69h2.77V925.14h-2.77zM811.81 1006.69h2.77V925.14h-2.77zM820.08 1006.69h2.77V928.89h-2.77zM828.36 1006.69h2.77V929.39h-2.77zM836.63 1006.69h2.77V927.89h-2.77zM844.91 1006.69h2.77V925.89h-2.77zM853.18 1006.69h2.77V924.89h-2.77zM861.46 1006.69h2.77V925.89h-2.77zM869.74 1006.69h2.77V925.89h-2.77zM878.01 1006.69h2.77V926.64h-2.77zM886.29 1006.69h2.77V927.39h-2.77zM894.56 1006.69h2.77V927.39h-2.77zM902.84 1006.69h2.77V926.14h-2.77zM911.11 1006.69h2.77V926.14h-2.77zM919.39 1006.69h2.77V925.64h-2.77zM927.66 1006.69h2.77V924.39h-2.77zM935.94 1006.69h2.77V922.13h-2.77zM944.21 1006.69h2.77V920.13h-2.77z" fill="#0234A8"/>
<path d="M602.94 946.4V969.47M602.41 946.4h1.06M602.41 969.47h1.06M611.21 947.03V969.07M610.68 947.03h1.06M610.68 969.07h1.06M619.49 947.52V969.47M618.96 947.52h1.06M618.96 969.47h1.06M627.76 947.87V969.67M627.24 947.87h1.06M627.24 969.67h1.06M636.04 948.08V969.87M635.51 948.08h1.06M635.51 969.87h1.06M644.31 948.15V969.87M643.79 948.15h1.06M643.79 969.87h1.06M652.59 948.02V970.07M652.06 948.02h1.06M652.06 970.07h1.06M660.86 947.7V969.87M660.34 947.7h1.06M660.34 969.87h1.06M669.14 947.27V969.47M668.61 947.27h1.06M668.61 969.47h1.06M677.42 946.81V968.87M676.89 946.81h1.06M676.89 968.87h1.06M685.69 946.4V969.07M685.16 946.4h1.06M685.16 969.07h1.06M693.97 946.05V969.07M693.44 946.05h1.06M693.44 969.07h1.06M702.24 945.69V968.87M701.71 945.69h1.06M701.71 968.87h1.06M710.52 945.33V968.47M709.99 945.33h1.06M709.99 968.47h1.06M718.79 944.98V968.06M718.26 944.98h1.06M718.26 968.06h1.06M727.07 944.65V967.46M726.54 944.65h1.06M726.54 967.46h1.06M735.34 944.37V967.06M734.82 944.37h1.06M734.82 967.06h1.06M743.62 944.13V966.66M743.09 944.13h1.06M743.09 966.66h1.06M751.89 943.89V965.86M751.37 943.89h1.06M751.37 965.86h1.06M760.17 943.58V964.46M759.64 943.58h1.06M759.64 964.46h1.06M768.44 943.15V962.66M767.92 943.15h1.06M767.92 962.66h1.06M776.72 942.01V960.86M776.19 942.01h1.06M776.19 960.86h1.06M785 939.98V959.06M784.47 939.98h1.06M784.47 959.06h1.06M793.27 937.73V957.46M792.74 937.73h1.06M792.74 957.46h1.06M801.55 935.9V955.86M801.02 935.9h1.06M801.02 955.86h1.06M809.82 935.14V956.66M809.29 935.14h1.06M809.29 956.66h1.06M818.1 935.65V959.86M817.57 935.65h1.06M817.57 959.86h1.06M826.37 936.9V960.86M825.85 936.9h1.06M825.85 960.86h1.06M834.65 938.54V960.86M834.12 938.54h1.06M834.12 960.86h1.06M842.92 940.16V960.66M842.4 940.16h1.06M842.4 960.66h1.06M851.2 941.41V960.66M850.67 941.41h1.06M850.67 960.66h1.06M859.47 942.4V961.26M858.95 942.4h1.06M858.95 961.26h1.06M867.75 943.4V963.26M867.22 943.4h1.06M867.22 963.26h1.06M876.02 944.28V964.06M875.5 944.28h1.06M875.5 964.06h1.06M884.3 944.91V964.46M883.77 944.91h1.06M883.77 964.46h1.06M892.58 945.15V964.46M892.05 945.15h1.06M892.05 964.46h1.06M900.85 944.15V963.86M900.32 944.15h1.06M900.32 963.86h1.06M909.13 941.86V963.46M908.6 941.86h1.06M908.6 963.46h1.06M917.4 939.39V962.26M916.87 939.39h1.06M916.87 962.26h1.06M925.68 936.93V961.66M925.15 936.93h1.06M925.15 961.66h1.06M933.95 934.38V961.06M933.43 934.38h1.06M933.43 961.06h1.06M942.23 932.14V959.06M941.7 932.14h1.06M941.7 959.06h1.06M606.31 948.4V968.2M605.78 948.4h1.06M605.78 968.2h1.06M614.58 948.39V967.99M614.05 948.39h1.06M614.05 967.99h1.06M622.86 948.36V967.14M622.33 948.36h1.06M622.33 967.14h1.06M631.13 948.31V967.14M630.6 948.31h1.06M630.6 967.14h1.06M639.41 948.24V966.71M638.88 948.24h1.06M638.88 966.71h1.06M647.68 948.15V966.71M647.15 948.15h1.06M647.15 966.71h1.06M655.96 947.56V966.71M655.43 947.56h1.06M655.43 966.71h1.06M664.23 946.26V965.01M663.71 946.26h1.06M663.71 965.01h1.06M672.51 944.64V963.74M671.98 944.64h1.06M671.98 963.74h1.06M680.78 943.06V962.25M680.26 943.06h1.06M680.26 962.25h1.06M689.06 941.9V961.4M688.53 941.9h1.06M688.53 961.4h1.06M697.33 941.22V960.55M696.81 941.22h1.06M696.81 960.55h1.06M705.61 940.7V959.7M705.08 940.7h1.06M705.08 959.7h1.06M713.89 940.22V959.06M713.36 940.22h1.06M713.36 959.06h1.06M722.16 939.66V958.42M721.63 939.66h1.06M721.63 958.42h1.06M730.44 938.89V957.15M729.91 938.89h1.06M729.91 957.15h1.06M738.71 937.7V955.87M738.18 937.7h1.06M738.18 955.87h1.06M746.99 936.05V954.81M746.46 936.05h1.06M746.46 954.81h1.06M755.26 934.04V953.32M754.73 934.04h1.06M754.73 953.32h1.06M763.54 931.79V951.4M763.01 931.79h1.06M763.01 951.4h1.06M771.81 929.42V948M771.29 929.42h1.06M771.29 948h1.06M780.09 926.63V945.24M779.56 926.63h1.06M779.56 945.24h1.06M788.36 923.38V942.9M787.84 923.38h1.06M787.84 942.9h1.06M796.64 920.15V939.92M796.11 920.15h1.06M796.11 939.92h1.06M804.91 917.13V937.37M804.39 917.13h1.06M804.39 937.37h1.06M813.19 917.13V937.37M812.66 917.13h1.06M812.66 937.37h1.06M821.47 921.38V940.56M820.94 921.38h1.06M820.94 940.56h1.06M829.74 920.23V940.98M829.21 920.23h1.06M829.21 940.98h1.06M838.02 918.37V939.71M837.49 918.37h1.06M837.49 939.71h1.06M846.29 916.82V938.01M845.76 916.82h1.06M845.76 938.01h1.06M854.57 915.62V937.16M854.04 915.62h1.06M854.04 937.16h1.06M862.84 914.94V938.01M862.31 914.94h1.06M862.31 938.01h1.06M871.12 914.63V938.01M870.59 914.63h1.06M870.59 938.01h1.06M879.39 914.89V938.65M878.87 914.89h1.06M878.87 938.65h1.06M887.67 915.13V939.28M887.14 915.13h1.06M887.14 939.28h1.06M895.94 914.39V939.28M895.42 914.39h1.06M895.42 939.28h1.06M904.22 910.39V938.22M903.69 910.39h1.06M903.69 938.22h1.06M912.49 908.88V938.22M911.97 908.88h1.06M911.97 938.22h1.06M920.77 909.38V937.8M920.24 909.38h1.06M920.24 937.8h1.06M929.05 904.62V936.73M928.52 904.62h1.06M928.52 936.73h1.06M937.32 903.86V934.82M936.79 903.86h1.06M936.79 934.82h1.06M945.6 898.87V933.12M945.07 898.87h1.06M945.07 933.12h1.06" stroke="#000" stroke-width="1.1" fill="none" opacity="0.55"/>
<path d="M604.51 784.55 L608.65 784.8 L612.78 785.06 L616.92 788.2 L621.06 791.34 L625.2 795.73 L629.34 800.11 L633.47 803.87 L637.61 807.63 L641.75 811.39 L645.89 815.16 L650.02 818.92 L654.16 822.62 L658.3 824.25 L662.44 825.84 L666.57 826.34 L670.71 826.98 L674.85 831.12 L678.99 835.18 L683.13 837.62 L687.26 840.05 L691.4 842.19 L695.54 844.32 L699.68 844.09 L703.81 843.83 L707.95 846.34 L712.09 848.84 L716.23 848.59 L720.36 848.35 L724.5 850.74 L728.64 853.12 L732.78 855.37 L736.92 857.67 L741.05 862.06 L745.19 866.35 L749.33 866.6 L753.47 866.93 L757.6 869.81 L761.74 872.58 L765.88 871.97 L770.02 871.37 L774.15 870.74 L778.29 870.11 L782.43 871.58 L786.57 873.08 L790.71 872.61 L794.84 872.11 L798.98 872.35 L803.12 872.6 L807.26 875.72 L811.39 878.86 L815.53 886.38 L819.67 893.88 L823.81 897.02 L827.94 900.14 L832.08 901.64 L836.22 903.15 L840.36 904.78 L844.5 906.41 L848.63 908.04 L852.77 909.69 L856.91 912.45 L861.05 915.28 L865.18 920.29 L869.32 925.22 L873.46 927.73 L877.6 930.19 L881.73 931.44 L885.87 932.68 L890.01 933.66 L894.15 934.63 L898.29 934.27 L902.42 933.9 L906.56 934.14 L910.7 934.39 L914.84 934.77 L918.97 935.14 L923.11 935.39 L927.25 935.64 L931.39 935.39 L935.52 935.14 L939.66 934.89 L943.8 934.64 L943.8 961.41 L939.66 961.41 L935.52 961.41 L931.39 960.79 L927.25 960.16 L923.11 959.91 L918.97 959.66 L914.84 958.91 L910.7 958.16 L906.56 957.28 L902.42 956.4 L898.29 955.78 L894.15 955.13 L890.01 953.31 L885.87 951.48 L881.73 949.61 L877.6 947.72 L873.46 945.24 L869.32 942.73 L865.18 939.01 L861.05 935.25 L856.91 932.1 L852.77 928.97 L848.63 927.05 L844.5 925.17 L840.36 923.91 L836.22 922.65 L832.08 920.78 L827.94 918.9 L823.81 915.78 L819.67 912.64 L815.53 907.64 L811.39 902.62 L807.26 900.74 L803.12 898.87 L798.98 898.87 L794.84 898.88 L790.71 899.5 L786.57 900.12 L782.43 900.37 L778.29 900.63 L774.15 901 L770.02 901.42 L765.88 903.24 L761.74 905.07 L757.6 905.73 L753.47 906.36 L749.33 905.4 L745.19 904.4 L741.05 904.13 L736.92 903.88 L732.78 902.64 L728.64 901.39 L724.5 901.37 L720.36 901.37 L716.23 900.75 L712.09 900.12 L707.95 898.62 L703.81 897.12 L699.68 895.86 L695.54 894.61 L691.4 893.61 L687.26 892.59 L683.13 890.52 L678.99 888.45 L674.85 887.16 L670.71 885.91 L666.57 886.1 L662.44 886.35 L658.3 884.54 L654.16 882.66 L650.02 881.15 L645.89 879.64 L641.75 878.02 L637.61 876.39 L633.47 874.88 L629.34 873.37 L625.2 872.36 L621.06 871.36 L616.92 868.87 L612.78 866.36 L608.65 866.1 L604.51 865.85z" fill="#FFA500" fill-opacity="0.2"/>
<path d="M604.51 741.27 L608.65 746.91 L612.78 752.53 L616.92 753.53 L621.06 754.56 L625.2 758.58 L629.34 762.59 L633.47 766.35 L637.61 770.1 L641.75 773.23 L645.89 776.38 L650.02 780.14 L654.16 783.85 L658.3 785.73 L662.44 787.61 L666.57 789.49 L670.71 791.27 L674.85 790.39 L678.99 789.67 L683.13 792.34 L687.26 795.02 L691.4 797.78 L695.54 800.54 L699.68 800.56 L703.81 800.56 L707.95 802.43 L712.09 804.31 L716.23 806.57 L720.36 808.82 L724.5 809.82 L728.64 810.83 L732.78 811.95 L736.92 813.09 L741.05 814.34 L745.19 815.54 L749.33 814.41 L753.47 813.35 L757.6 814.86 L761.74 816.24 L765.88 813.81 L770.02 811.37 L774.15 810.09 L778.29 808.84 L782.43 809.43 L786.57 810.05 L790.71 807.34 L794.84 804.58 L798.98 802.94 L803.12 801.31 L807.26 805.67 L811.39 810.06 L815.53 818.21 L819.67 826.34 L823.81 829.72 L827.94 833.08 L832.08 833.71 L836.22 834.35 L840.36 835.98 L844.5 837.62 L848.63 839.88 L852.77 842.16 L856.91 845.55 L861.05 848.93 L865.18 852.06 L869.32 855.2 L873.46 858.33 L877.6 861.48 L881.73 864.99 L885.87 868.44 L890.01 870.51 L894.15 872.58 L898.29 871.98 L902.42 871.36 L906.56 873.47 L910.7 875.6 L914.84 877.61 L918.97 879.61 L923.11 879.23 L927.25 878.87 L931.39 880.12 L935.52 881.36 L939.66 881.36 L943.8 881.36 L943.8 923.89 L939.66 923.27 L935.52 922.64 L931.39 922.02 L927.25 921.39 L923.11 919.52 L918.97 917.64 L914.84 916.01 L910.7 914.37 L906.56 912.24 L902.42 910.11 L898.29 907.85 L894.15 905.6 L890.01 903.53 L885.87 901.46 L881.73 898.37 L877.6 895.24 L873.46 891.5 L869.32 887.74 L865.18 883.98 L861.05 880.22 L856.91 875.85 L852.77 871.46 L848.63 868.66 L844.5 865.9 L840.36 864.25 L836.22 862.62 L832.08 861.11 L827.94 859.61 L823.81 856.74 L819.67 853.85 L815.53 845.98 L811.39 838.08 L807.26 835.32 L803.12 832.58 L798.98 833.58 L794.84 834.61 L790.71 838 L786.57 841.34 L782.43 841.97 L778.29 842.62 L774.15 844.5 L770.02 846.44 L765.88 850.7 L761.74 854.96 L757.6 855.94 L753.47 856.82 L749.33 856.23 L745.19 855.61 L741.05 856.57 L736.92 857.58 L732.78 857.84 L728.64 858.09 L724.5 857.85 L720.36 857.59 L716.23 857.59 L712.09 857.59 L707.95 856.97 L703.81 856.34 L699.68 857.22 L695.54 858.08 L691.4 856.83 L687.26 855.59 L683.13 855.71 L678.99 855.84 L674.85 854.64 L670.71 853.39 L666.57 852.74 L662.44 852.11 L658.3 854.15 L654.16 856.28 L650.02 854.27 L645.89 852.14 L641.75 850.5 L637.61 848.87 L633.47 846.99 L629.34 845.11 L625.2 842.61 L621.06 840.11 L616.92 838.59 L612.78 837.09 L608.65 837.33 L604.51 837.58z" fill="#0033A0" fill-opacity="0.2"/>
<path d="M604.51 830.07 L608.65 830.95 L612.78 831.84 L616.92 834.35 L621.06 836.86 L625.2 839.74 L629.34 842.62 L633.47 845.13 L637.61 847.63 L641.75 850.14 L645.89 852.65 L650.02 855.16 L654.16 857.65 L658.3 859.53 L662.44 861.4 L666.57 863.03 L670.71 864.62 L674.85 865.25 L678.99 865.96 L683.13 868.64 L687.26 871.32 L691.4 873.46 L695.54 875.59 L699.68 877.22 L703.81 878.85 L707.95 880.11 L712.09 881.36 L716.23 882.24 L720.36 883.12 L724.5 884.5 L728.64 885.88 L732.78 887.13 L736.92 888.38 L741.05 889.13 L745.19 889.87 L749.33 890.25 L753.47 890.61 L757.6 890.61 L761.74 890.58 L765.88 889.48 L770.02 888.39 L774.15 887.87 L778.29 887.37 L782.43 886.87 L786.57 886.37 L790.71 886.11 L794.84 885.86 L798.98 885.99 L803.12 886.11 L807.26 888.73 L811.39 891.36 L815.53 897.01 L819.67 902.64 L823.81 906.4 L827.94 910.14 L832.08 911.65 L836.22 913.15 L840.36 914.78 L844.5 916.41 L848.63 917.91 L852.77 919.44 L856.91 921.69 L861.05 924 L865.18 927.76 L869.32 931.48 L873.46 934.24 L877.6 936.97 L881.73 938.98 L885.87 940.96 L890.01 942.42 L894.15 943.88 L898.29 944.77 L902.42 945.64 L906.56 946.4 L910.7 947.15 L914.84 947.65 L918.97 948.15 L923.11 948.53 L927.25 948.91 L931.39 949.28 L935.52 949.66 L939.66 949.91 L943.8 950.15" stroke="#EDA81A" stroke-width="1.4" fill="none" stroke-linejoin="round"/>
<path d="M604.51 792.55 L608.65 794.06 L612.78 795.56 L616.92 797.19 L621.06 798.83 L625.2 801.59 L629.34 804.34 L633.47 806.85 L637.61 809.37 L641.75 812.25 L645.89 815.13 L650.02 818.02 L654.16 820.81 L658.3 820.56 L662.44 820.34 L666.57 820.84 L670.71 821.32 L674.85 821.45 L678.99 821.63 L683.13 823.09 L687.26 824.55 L691.4 826.43 L695.54 828.31 L699.68 829.57 L703.81 830.82 L707.95 831.95 L712.09 833.08 L716.23 834.21 L720.36 835.33 L724.5 835.58 L728.64 835.83 L732.78 836.34 L736.92 836.83 L741.05 837.08 L745.19 837.33 L749.33 837.33 L753.47 837.32 L757.6 837.07 L761.74 836.73 L765.88 833.44 L770.02 830.15 L774.15 828.48 L778.29 826.85 L782.43 826.09 L786.57 825.33 L790.71 822.11 L794.84 818.85 L798.98 817.95 L803.12 817.07 L807.26 819.81 L811.39 822.57 L815.53 831.1 L819.67 839.6 L823.81 842.73 L827.94 845.85 L832.08 847.35 L836.22 848.86 L840.36 850.49 L844.5 852.13 L848.63 854.39 L852.77 856.69 L856.91 860.7 L861.05 864.71 L865.18 868.47 L869.32 872.22 L873.46 875.6 L877.6 878.98 L881.73 882.11 L885.87 885.19 L890.01 887.02 L894.15 888.84 L898.29 890.23 L902.42 891.6 L906.56 893.61 L910.7 895.61 L914.84 897.24 L918.97 898.87 L923.11 899.88 L927.25 900.88 L931.39 901.5 L935.52 902.13 L939.66 903.01 L943.8 903.87" stroke="#1F3A93" stroke-width="1.4" fill="none" stroke-linejoin="round"/>
<g font-size="4.5" fill="#3a3a3a" stroke="#3a3a3a" stroke-width="0.12"><text x="582.5" y="1008.31" text-anchor="end">0</text><text x="582.5" y="953.02" text-anchor="end">500000</text><text x="582.5" y="897.74" text-anchor="end">1000000</text><text x="582.5" y="842.45" text-anchor="end">1500000</text><text x="582.5" y="787.17" text-anchor="end">2000000</text><text x="582.5" y="731.63" text-anchor="end">2500000</text><text x="966" y="1008.31">0</text><text x="966" y="953.02">50</text><text x="966" y="897.74">100</text><text x="966" y="842.45">150</text><text x="966" y="787.17">200</text><text x="966" y="731.63">250</text><text x="604.51" y="1026.7" text-anchor="middle">1980</text><text x="687.26" y="1026.7" text-anchor="middle">1990</text><text x="770.02" y="1026.7" text-anchor="middle">2000</text><text x="852.77" y="1026.7" text-anchor="middle">2010</text><text x="935.52" y="1026.7" text-anchor="middle">2020</text></g>
<g stroke="#000" stroke-width="0.14">
<text x="773.7" y="1033" font-size="5.6" text-anchor="middle" fill="#000" font-weight="normal">Year</text>
<text transform="translate(561.5 874) rotate(-90)" font-size="5.6" text-anchor="middle" fill="#000">Deaths Number</text>
<text transform="translate(976 874) rotate(90)" font-size="5.6" text-anchor="middle" fill="#000">Age-standardized Deaths rate per 100,000</text>
<text x="989.5" y="847.5" font-size="5.6" fill="#000">Number</text>
<rect x="989.7" y="851.1" width="8.2" height="7.8999999999999995" fill="#FFA607" stroke="none"/>
<rect x="989.7" y="860.1" width="8.2" height="7.8999999999999995" fill="#0234A8" stroke="none"/>
<text x="1001.1" y="856.8" font-size="4.8" fill="#111">Female</text>
<text x="1001.1" y="865.9" font-size="4.8" fill="#111">Male</text>
<text x="989.5" y="884.9" font-size="5.6" fill="#000">Rate</text>
<line x1="990.5" x2="997.5" y1="893" y2="893" stroke="#EDA81A" stroke-width="1.4"/>
<line x1="990.5" x2="997.5" y1="902" y2="902" stroke="#1F3A93" stroke-width="1.4"/>
<text x="1001.1" y="894.7" font-size="4.8" fill="#111">Female</text>
<text x="1001.1" y="903.7" font-size="4.8" fill="#111">Male</text>
</g>
<text transform="translate(559.35 744.88) scale(0.9258 1)" font-size="32.56" fill="#000" stroke="#000" stroke-width="0.45" stroke-linejoin="round">H</text></g>
<!-- panel I -->
<g><g stroke="#efefef" stroke-width="0.5" fill="none"><line x1="1092" x2="1481" y1="1006.69" y2="1006.69"/><line x1="1092" x2="1481" y1="958.91" y2="958.91"/><line x1="1092" x2="1481" y1="911.38" y2="911.38"/><line x1="1092" x2="1481" y1="863.6" y2="863.6"/><line x1="1092" x2="1481" y1="815.82" y2="815.82"/><line x1="1092" x2="1481" y1="768.03" y2="768.03"/><line x1="1113.26" x2="1113.26" y1="728.5" y2="1018"/><line x1="1155.41" x2="1155.41" y1="728.5" y2="1018"/><line x1="1197.57" x2="1197.57" y1="728.5" y2="1018"/><line x1="1239.72" x2="1239.72" y1="728.5" y2="1018"/><line x1="1281.87" x2="1281.87" y1="728.5" y2="1018"/><line x1="1324.02" x2="1324.02" y1="728.5" y2="1018"/><line x1="1366.18" x2="1366.18" y1="728.5" y2="1018"/><line x1="1408.33" x2="1408.33" y1="728.5" y2="1018"/><line x1="1450.48" x2="1450.48" y1="728.5" y2="1018"/></g>
<path d="M1110.02 1006.69h3.29V965.16h-3.29zM1118.45 1006.69h3.29V964.41h-3.29zM1126.88 1006.69h3.29V964.91h-3.29zM1135.31 1006.69h3.29V964.91h-3.29zM1143.74 1006.69h3.29V964.66h-3.29zM1152.17 1006.69h3.29V964.16h-3.29zM1160.6 1006.69h3.29V963.91h-3.29zM1169.03 1006.69h3.29V963.16h-3.29zM1177.46 1006.69h3.29V962.41h-3.29zM1185.89 1006.69h3.29V960.66h-3.29zM1194.32 1006.69h3.29V960.41h-3.29zM1202.75 1006.69h3.29V959.41h-3.29zM1211.18 1006.69h3.29V959.41h-3.29zM1219.61 1006.69h3.29V958.91h-3.29zM1228.04 1006.69h3.29V959.16h-3.29zM1236.47 1006.69h3.29V959.66h-3.29zM1244.9 1006.69h3.29V961.41h-3.29zM1253.33 1006.69h3.29V963.41h-3.29zM1261.76 1006.69h3.29V965.16h-3.29zM1270.2 1006.69h3.29V967.66h-3.29zM1278.63 1006.69h3.29V971.42h-3.29zM1287.06 1006.69h3.29V975.17h-3.29zM1295.49 1006.69h3.29V979.67h-3.29zM1303.92 1006.69h3.29V983.93h-3.29zM1312.35 1006.69h3.29V986.43h-3.29zM1320.78 1006.69h3.29V988.18h-3.29zM1329.21 1006.69h3.29V990.18h-3.29zM1337.64 1006.69h3.29V990.93h-3.29zM1346.07 1006.69h3.29V991.43h-3.29zM1354.5 1006.69h3.29V990.93h-3.29zM1362.93 1006.69h3.29V990.18h-3.29zM1371.36 1006.69h3.29V990.93h-3.29zM1379.79 1006.69h3.29V990.93h-3.29zM1388.22 1006.69h3.29V990.93h-3.29zM1396.65 1006.69h3.29V990.18h-3.29zM1405.08 1006.69h3.29V990.18h-3.29zM1413.51 1006.69h3.29V988.93h-3.29zM1421.94 1006.69h3.29V988.93h-3.29zM1430.37 1006.69h3.29V988.93h-3.29zM1438.81 1006.69h3.29V988.43h-3.29zM1447.24 1006.69h3.29V988.18h-3.29zM1455.67 1006.69h3.29V988.43h-3.29z" fill="#FFA607"/>
<path d="M1113.68 1006.69h2.82V969.67h-2.82zM1122.11 1006.69h2.82V968.92h-2.82zM1130.54 1006.69h2.82V968.41h-2.82zM1138.97 1006.69h2.82V968.16h-2.82zM1147.41 1006.69h2.82V968.16h-2.82zM1155.84 1006.69h2.82V968.16h-2.82zM1164.27 1006.69h2.82V967.91h-2.82zM1172.7 1006.69h2.82V966.66h-2.82zM1181.13 1006.69h2.82V965.41h-2.82zM1189.56 1006.69h2.82V964.16h-2.82zM1197.99 1006.69h2.82V963.41h-2.82zM1206.42 1006.69h2.82V962.16h-2.82zM1214.85 1006.69h2.82V961.91h-2.82zM1223.28 1006.69h2.82V961.16h-2.82zM1231.71 1006.69h2.82V961.16h-2.82zM1240.14 1006.69h2.82V960.91h-2.82zM1248.57 1006.69h2.82V961.66h-2.82zM1257 1006.69h2.82V962.91h-2.82zM1265.43 1006.69h2.82V964.16h-2.82zM1273.86 1006.69h2.82V965.91h-2.82zM1282.29 1006.69h2.82V968.16h-2.82zM1290.72 1006.69h2.82V971.17h-2.82zM1299.15 1006.69h2.82V975.67h-2.82zM1307.58 1006.69h2.82V979.42h-2.82zM1316.02 1006.69h2.82V982.67h-2.82zM1324.45 1006.69h2.82V984.43h-2.82zM1332.88 1006.69h2.82V986.18h-2.82zM1341.31 1006.69h2.82V986.68h-2.82zM1349.74 1006.69h2.82V986.43h-2.82zM1358.17 1006.69h2.82V985.93h-2.82zM1366.6 1006.69h2.82V985.68h-2.82zM1375.03 1006.69h2.82V985.93h-2.82zM1383.46 1006.69h2.82V986.68h-2.82zM1391.89 1006.69h2.82V986.43h-2.82zM1400.32 1006.69h2.82V985.93h-2.82zM1408.75 1006.69h2.82V984.93h-2.82zM1417.18 1006.69h2.82V983.93h-2.82zM1425.61 1006.69h2.82V984.43h-2.82zM1434.04 1006.69h2.82V984.43h-2.82zM1442.47 1006.69h2.82V984.43h-2.82zM1450.9 1006.69h2.82V983.67h-2.82zM1459.33 1006.69h2.82V983.67h-2.82z" fill="#0234A8"/>
<path d="M1111.66 945.15V988.93M1111.12 945.15h1.07M1111.12 988.93h1.07M1120.09 945.7V988.52M1119.55 945.7h1.07M1119.55 988.52h1.07M1128.52 946.18V988.13M1127.98 946.18h1.07M1127.98 988.13h1.07M1136.95 946.56V987.77M1136.41 946.56h1.07M1136.41 987.77h1.07M1145.38 946.81V987.45M1144.84 946.81h1.07M1144.84 987.45h1.07M1153.81 946.9V987.16M1153.28 946.9h1.07M1153.28 987.16h1.07M1162.24 946.85V986.91M1161.71 946.85h1.07M1161.71 986.91h1.07M1170.67 946.72V986.7M1170.14 946.72h1.07M1170.14 986.7h1.07M1179.1 946.58V986.55M1178.57 946.58h1.07M1178.57 986.55h1.07M1187.53 946.45V986.46M1187 946.45h1.07M1187 986.46h1.07M1195.96 946.4V986.43M1195.43 946.4h1.07M1195.43 986.43h1.07M1204.4 946.48V986.43M1203.86 946.48h1.07M1203.86 986.43h1.07M1212.83 946.71V986.43M1212.29 946.71h1.07M1212.29 986.43h1.07M1221.26 947.07V986.43M1220.72 947.07h1.07M1220.72 986.43h1.07M1229.69 947.56V986.43M1229.15 947.56h1.07M1229.15 986.43h1.07M1238.12 948.16V986.43M1237.58 948.16h1.07M1237.58 986.43h1.07M1246.55 949.58V986.59M1246.01 949.58h1.07M1246.01 986.59h1.07M1254.98 952.09V987.01M1254.44 952.09h1.07M1254.44 987.01h1.07M1263.41 955.12V987.6M1262.87 955.12h1.07M1262.87 987.6h1.07M1271.84 959.18V988.27M1271.3 959.18h1.07M1271.3 988.27h1.07M1280.27 963.91V988.93M1279.73 963.91h1.07M1279.73 988.93h1.07M1288.7 968.25V989.78M1288.16 968.25h1.07M1288.16 989.78h1.07M1297.13 972.72V990.88M1296.59 972.72h1.07M1296.59 990.88h1.07M1305.56 978.36V991.99M1305.02 978.36h1.07M1305.02 991.99h1.07M1313.99 982.66V992.85M1313.45 982.66h1.07M1313.45 992.85h1.07M1322.42 984.42V993.18M1321.88 984.42h1.07M1321.88 993.18h1.07M1330.85 985.18V993.18M1330.32 985.18h1.07M1330.32 993.18h1.07M1339.28 985.18V993.18M1338.75 985.18h1.07M1338.75 993.18h1.07M1347.71 985.18V993.18M1347.18 985.18h1.07M1347.18 993.18h1.07M1356.14 985.18V993.18M1355.61 985.18h1.07M1355.61 993.18h1.07M1364.57 985.18V993.18M1364.04 985.18h1.07M1364.04 993.18h1.07M1373.01 985.1V993.18M1372.47 985.1h1.07M1372.47 993.18h1.07M1381.44 984.9V993.18M1380.9 984.9h1.07M1380.9 993.18h1.07M1389.87 984.61V993.18M1389.33 984.61h1.07M1389.33 993.18h1.07M1398.3 984.27V993.18M1397.76 984.27h1.07M1397.76 993.18h1.07M1406.73 983.93V993.18M1406.19 983.93h1.07M1406.19 993.18h1.07M1415.16 983.46V993.18M1414.62 983.46h1.07M1414.62 993.18h1.07M1423.59 982.81V993.18M1423.05 982.81h1.07M1423.05 993.18h1.07M1432.02 982.15V993.18M1431.48 982.15h1.07M1431.48 993.18h1.07M1440.45 981.63V993.18M1439.91 981.63h1.07M1439.91 993.18h1.07M1448.88 981.42V993.18M1448.34 981.42h1.07M1448.34 993.18h1.07M1457.31 981.42V993.18M1456.77 981.42h1.07M1456.77 993.18h1.07M1115.09 945.65V988.93M1114.55 945.65h1.07M1114.55 988.93h1.07M1123.52 946.02V988.68M1122.98 946.02h1.07M1122.98 988.68h1.07M1131.95 946.24V988.43M1131.41 946.24h1.07M1131.41 988.43h1.07M1140.38 946.35V988.18M1139.85 946.35h1.07M1139.85 988.18h1.07M1148.81 946.39V987.93M1148.28 946.39h1.07M1148.28 987.93h1.07M1157.24 946.4V987.68M1156.71 946.4h1.07M1156.71 987.68h1.07M1165.67 946.12V987.43M1165.14 946.12h1.07M1165.14 987.43h1.07M1174.1 945.41V987.18M1173.57 945.41h1.07M1173.57 987.18h1.07M1182.54 944.47V986.93M1182 944.47h1.07M1182 986.93h1.07M1190.97 943.48V986.68M1190.43 943.48h1.07M1190.43 986.68h1.07M1199.4 942.65V986.43M1198.86 942.65h1.07M1198.86 986.43h1.07M1207.83 941.86V986.14M1207.29 941.86h1.07M1207.29 986.14h1.07M1216.26 941V985.8M1215.72 941h1.07M1215.72 985.8h1.07M1224.69 940.2V985.49M1224.15 940.2h1.07M1224.15 985.49h1.07M1233.12 939.62V985.26M1232.58 939.62h1.07M1232.58 985.26h1.07M1241.55 939.4V985.18M1241.01 939.4h1.07M1241.01 985.18h1.07M1249.98 940.32V985.33M1249.44 940.32h1.07M1249.44 985.33h1.07M1258.41 942.49V985.74M1257.87 942.49h1.07M1257.87 985.74h1.07M1266.84 945.12V986.32M1266.3 945.12h1.07M1266.3 986.32h1.07M1275.27 948.31V986.99M1274.73 948.31h1.07M1274.73 986.99h1.07M1283.7 952.65V987.68M1283.16 952.65h1.07M1283.16 987.68h1.07M1292.13 959.47V988.63M1291.59 959.47h1.07M1291.59 988.63h1.07M1300.56 966.48V989.93M1300.02 966.48h1.07M1300.02 989.93h1.07M1308.99 971.49V991.25M1308.46 971.49h1.07M1308.46 991.25h1.07M1317.42 975.15V992.28M1316.89 975.15h1.07M1316.89 992.28h1.07M1325.85 977.7V992.68M1325.32 977.7h1.07M1325.32 992.68h1.07M1334.28 978.92V992.68M1333.75 978.92h1.07M1333.75 992.68h1.07M1342.71 978.83V992.68M1342.18 978.83h1.07M1342.18 992.68h1.07M1351.14 978.61V992.68M1350.61 978.61h1.07M1350.61 992.68h1.07M1359.58 978.36V992.68M1359.04 978.36h1.07M1359.04 992.68h1.07M1368.01 978.17V992.68M1367.47 978.17h1.07M1367.47 992.68h1.07M1376.44 978.06V992.65M1375.9 978.06h1.07M1375.9 992.65h1.07M1384.87 977.99V992.58M1384.33 977.99h1.07M1384.33 992.58h1.07M1393.3 977.91V992.45M1392.76 977.91h1.07M1392.76 992.45h1.07M1401.73 977.82V992.28M1401.19 977.82h1.07M1401.19 992.28h1.07M1410.16 977.67V992.08M1409.62 977.67h1.07M1409.62 992.08h1.07M1418.59 977.29V991.83M1418.05 977.29h1.07M1418.05 991.83h1.07M1427.02 976.59V991.55M1426.48 976.59h1.07M1426.48 991.55h1.07M1435.45 975.7V991.25M1434.91 975.7h1.07M1434.91 991.25h1.07M1443.88 974.76V990.91M1443.34 974.76h1.07M1443.34 990.91h1.07M1452.31 973.92V990.56M1451.77 973.92h1.07M1451.77 990.56h1.07M1460.74 973.17V990.18M1460.2 973.17h1.07M1460.2 990.18h1.07" stroke="#000" stroke-width="1.1" fill="none" opacity="0.55"/>
<path d="M1113.26 789.3 L1117.48 790.29 L1121.69 791.28 L1125.91 795.06 L1130.12 799 L1134.34 807.05 L1138.55 815.07 L1142.77 815.69 L1146.98 816.31 L1151.2 818.21 L1155.41 820.2 L1159.63 824.54 L1163.84 828.88 L1168.06 833.21 L1172.28 837.55 L1176.49 837.83 L1180.71 838.16 L1184.92 840.39 L1189.14 842.61 L1193.35 844.22 L1197.57 845.84 L1201.78 848.01 L1206 850.13 L1210.21 851.12 L1214.43 852.15 L1218.64 854.88 L1222.86 857.6 L1227.07 859.46 L1231.29 861.32 L1235.5 864.5 L1239.72 867.75 L1243.93 872.71 L1248.15 877.66 L1252.36 882.62 L1256.58 887.58 L1260.8 892.54 L1265.01 897.5 L1269.23 902.61 L1273.44 907.71 L1277.66 912.67 L1281.87 917.63 L1286.09 923.83 L1290.3 930.03 L1294.52 937.04 L1298.73 944.03 L1302.95 949.61 L1307.16 955.17 L1311.38 958.27 L1315.59 961.37 L1319.81 964.57 L1324.02 967.74 L1328.24 970.22 L1332.45 972.68 L1336.67 973.92 L1340.89 975.16 L1345.1 976.16 L1349.32 977.15 L1353.53 977.67 L1357.75 978.18 L1361.96 978.55 L1366.18 978.92 L1370.39 979.79 L1374.61 980.66 L1378.82 981.3 L1383.04 981.93 L1387.25 982.3 L1391.47 982.68 L1395.68 982.92 L1399.9 983.17 L1404.11 983.54 L1408.33 983.91 L1412.54 983.55 L1416.76 983.18 L1420.97 983.55 L1425.19 983.92 L1429.41 984.17 L1433.62 984.42 L1437.84 984.18 L1442.05 983.93 L1446.27 984.18 L1450.48 984.43 L1454.7 984.55 L1458.91 984.67 L1458.91 992.18 L1454.7 992.12 L1450.48 992.05 L1446.27 991.99 L1442.05 991.93 L1437.84 991.87 L1433.62 991.8 L1429.41 991.74 L1425.19 991.68 L1420.97 991.62 L1416.76 991.55 L1412.54 991.49 L1408.33 991.42 L1404.11 991.17 L1399.9 990.92 L1395.68 990.67 L1391.47 990.42 L1387.25 990.18 L1383.04 989.93 L1378.82 989.68 L1374.61 989.43 L1370.39 989.18 L1366.18 988.93 L1361.96 988.61 L1357.75 988.3 L1353.53 987.98 L1349.32 987.66 L1345.1 987.04 L1340.89 986.42 L1336.67 985.8 L1332.45 985.18 L1328.24 983.95 L1324.02 982.71 L1319.81 981.19 L1315.59 979.65 L1311.38 977.41 L1307.16 975.18 L1302.95 972.95 L1298.73 970.72 L1294.52 969.79 L1290.3 968.9 L1286.09 968.28 L1281.87 967.66 L1277.66 967.04 L1273.44 966.41 L1269.23 965.85 L1265.01 965.53 L1260.8 965.21 L1256.58 964.9 L1252.36 964.58 L1248.15 964.27 L1243.93 963.95 L1239.72 963.63 L1235.5 963.32 L1231.29 963 L1227.07 962.72 L1222.86 962.45 L1218.64 962.18 L1214.43 961.91 L1210.21 961.64 L1206 961.37 L1201.78 961.1 L1197.57 960.83 L1193.35 960.56 L1189.14 960.01 L1184.92 959.14 L1180.71 958.26 L1176.49 957.39 L1172.28 956.51 L1168.06 955.64 L1163.84 954.77 L1159.63 953.89 L1155.41 953.02 L1151.2 952.15 L1146.98 951.24 L1142.77 950.32 L1138.55 949.4 L1134.34 948.49 L1130.12 947.57 L1125.91 946.65 L1121.69 945.73 L1117.48 944.82 L1113.26 943.9z" fill="#FFA500" fill-opacity="0.2"/>
<path d="M1113.26 741.77 L1117.48 743.13 L1121.69 744.49 L1125.91 747.91 L1130.12 751.44 L1134.34 758.25 L1138.55 765.05 L1142.77 768.77 L1146.98 772.49 L1151.2 776.96 L1155.41 781.44 L1159.63 786.4 L1163.84 791.3 L1168.06 791.55 L1172.28 791.8 L1176.49 793.7 L1180.71 795.63 L1184.92 797.86 L1189.14 800.1 L1193.35 802.33 L1197.57 804.56 L1201.78 804.56 L1206 804.66 L1210.21 807.14 L1214.43 809.6 L1218.64 811.08 L1222.86 812.58 L1227.07 815.31 L1231.29 818.03 L1235.5 819.96 L1239.72 821.96 L1243.93 826.67 L1248.15 831.38 L1252.36 835.72 L1256.58 840.06 L1260.8 845.63 L1265.01 851.21 L1269.23 858.2 L1273.44 865.24 L1277.66 873.3 L1281.87 881.36 L1286.09 890.66 L1290.3 899.95 L1294.52 910.16 L1298.73 920.31 L1302.95 927.75 L1307.16 935.16 L1311.38 938.26 L1315.59 941.36 L1319.81 944.55 L1324.02 947.72 L1328.24 949.95 L1332.45 952.16 L1336.67 953.03 L1340.89 953.9 L1345.1 954.89 L1349.32 955.88 L1353.53 956.53 L1357.75 957.18 L1361.96 958.29 L1366.18 959.41 L1370.39 960.28 L1374.61 961.14 L1378.82 962.16 L1383.04 963.18 L1387.25 963.8 L1391.47 964.42 L1395.68 965.29 L1399.9 966.15 L1404.11 966.53 L1408.33 966.9 L1412.54 966.29 L1416.76 965.67 L1420.97 966.67 L1425.19 967.66 L1429.41 967.91 L1433.62 968.16 L1437.84 967.29 L1442.05 966.42 L1446.27 967.04 L1450.48 967.66 L1454.7 968.53 L1458.91 969.4 L1458.91 988.92 L1454.7 988.72 L1450.48 988.51 L1446.27 988.3 L1442.05 988.09 L1437.84 987.88 L1433.62 987.67 L1429.41 987.46 L1425.19 987.26 L1420.97 987.05 L1416.76 986.84 L1412.54 986.63 L1408.33 986.42 L1404.11 986.17 L1399.9 985.92 L1395.68 985.67 L1391.47 985.42 L1387.25 985.17 L1383.04 984.92 L1378.82 984.67 L1374.61 984.42 L1370.39 984.17 L1366.18 983.93 L1361.96 983.48 L1357.75 983.04 L1353.53 982.6 L1349.32 982.16 L1345.1 981.67 L1340.89 981.17 L1336.67 980.67 L1332.45 980.18 L1328.24 978.7 L1324.02 977.21 L1319.81 975.56 L1315.59 973.9 L1311.38 972.04 L1307.16 970.18 L1302.95 968.69 L1298.73 967.2 L1294.52 966.79 L1290.3 966.41 L1286.09 966.16 L1281.87 965.91 L1277.66 965.64 L1273.44 965.38 L1269.23 965.11 L1265.01 964.88 L1260.8 964.64 L1256.58 964.4 L1252.36 964.16 L1248.15 963.93 L1243.93 963.69 L1239.72 963.45 L1235.5 963.22 L1231.29 962.98 L1227.07 962.74 L1222.86 962.49 L1218.64 962.25 L1214.43 962.01 L1210.21 961.76 L1206 961.52 L1201.78 961.28 L1197.57 961.04 L1193.35 960.79 L1189.14 960.58 L1184.92 960.4 L1180.71 960.22 L1176.49 960.04 L1172.28 959.86 L1168.06 959.68 L1163.84 959.5 L1159.63 959.32 L1155.41 959.14 L1151.2 958.96 L1146.98 958.74 L1142.77 958.51 L1138.55 958.28 L1134.34 958.05 L1130.12 957.83 L1125.91 957.6 L1121.69 957.37 L1117.48 957.14 L1113.26 956.91z" fill="#0033A0" fill-opacity="0.2"/>
<path d="M1113.26 860.09 L1117.48 860.09 L1121.69 860.09 L1125.91 862.23 L1130.12 864.39 L1134.34 866.25 L1138.55 868.11 L1142.77 869.72 L1146.98 871.33 L1151.2 872.61 L1155.41 873.89 L1159.63 875.13 L1163.84 876.37 L1168.06 877.23 L1172.28 878.1 L1176.49 878.74 L1180.71 879.34 L1184.92 878.84 L1189.14 878.38 L1193.35 879.62 L1197.57 880.86 L1201.78 881.37 L1206 881.91 L1210.21 883.15 L1214.43 884.39 L1218.64 885.5 L1222.86 886.62 L1227.07 888.11 L1231.29 889.6 L1235.5 891.76 L1239.72 893.98 L1243.93 897.95 L1248.15 901.92 L1252.36 905.64 L1256.58 909.35 L1260.8 913.2 L1265.01 917.04 L1269.23 921.12 L1273.44 925.21 L1277.66 929.55 L1281.87 933.89 L1286.09 938.85 L1290.3 943.81 L1294.52 949.54 L1298.73 955.27 L1302.95 959.85 L1307.16 964.43 L1311.38 967.65 L1315.59 970.88 L1319.81 973.44 L1324.02 975.98 L1328.24 977.83 L1332.45 979.68 L1336.67 980.55 L1340.89 981.42 L1345.1 982.04 L1349.32 982.66 L1353.53 982.92 L1357.75 983.18 L1361.96 983.43 L1366.18 983.67 L1370.39 984.17 L1374.61 984.67 L1378.82 985.05 L1383.04 985.43 L1387.25 985.81 L1391.47 986.18 L1395.68 986.3 L1399.9 986.43 L1404.11 986.55 L1408.33 986.67 L1412.54 986.8 L1416.76 986.93 L1420.97 987.05 L1425.19 987.18 L1429.41 987.3 L1433.62 987.42 L1437.84 987.55 L1442.05 987.68 L1446.27 987.68 L1450.48 987.68 L1454.7 987.68 L1458.91 987.68" stroke="#EDA81A" stroke-width="1.4" fill="none" stroke-linejoin="round"/>
<path d="M1113.26 845.08 L1117.48 845.95 L1121.69 846.82 L1125.91 848.09 L1130.12 849.39 L1134.34 851.62 L1138.55 853.85 L1142.77 855.71 L1146.98 857.57 L1151.2 859.49 L1155.41 861.41 L1159.63 863.52 L1163.84 865.6 L1168.06 865.97 L1172.28 866.35 L1176.49 866.86 L1180.71 867.35 L1184.92 867.48 L1189.14 867.61 L1193.35 868.23 L1197.57 868.85 L1201.78 869.23 L1206 869.64 L1210.21 870.63 L1214.43 871.62 L1218.64 872.36 L1222.86 873.11 L1227.07 874.72 L1231.29 876.34 L1235.5 877.62 L1239.72 878.95 L1243.93 882.05 L1248.15 885.15 L1252.36 888.25 L1256.58 891.35 L1260.8 895.06 L1265.01 898.78 L1269.23 902.61 L1273.44 906.44 L1277.66 910.16 L1281.87 913.88 L1286.09 918.47 L1290.3 923.05 L1294.52 929.16 L1298.73 935.26 L1302.95 940.22 L1307.16 945.17 L1311.38 949.27 L1315.59 953.36 L1319.81 956.43 L1324.02 959.49 L1328.24 962.35 L1332.45 965.17 L1336.67 966.17 L1340.89 967.16 L1345.1 967.78 L1349.32 968.4 L1353.53 968.79 L1357.75 969.17 L1361.96 969.42 L1366.18 969.67 L1370.39 970.29 L1374.61 970.91 L1378.82 971.42 L1383.04 971.93 L1387.25 972.3 L1391.47 972.67 L1395.68 973.04 L1399.9 973.41 L1404.11 973.66 L1408.33 973.91 L1412.54 974.17 L1416.76 974.43 L1420.97 975.42 L1425.19 976.41 L1429.41 977.04 L1433.62 977.66 L1437.84 978.05 L1442.05 978.43 L1446.27 978.67 L1450.48 978.92 L1454.7 979.29 L1458.91 979.67" stroke="#1F3A93" stroke-width="1.4" fill="none" stroke-linejoin="round"/>
<g font-size="4.5" fill="#3a3a3a" stroke="#3a3a3a" stroke-width="0.12"><text x="1090" y="1008.31" text-anchor="end">0e+00</text><text x="1090" y="913" text-anchor="end">2e+05</text><text x="1090" y="817.44" text-anchor="end">4e+05</text><text x="1482.5" y="1008.31">0</text><text x="1482.5" y="913">20</text><text x="1482.5" y="817.44">40</text><text x="1113.26" y="1027" text-anchor="middle">1980</text><text x="1197.57" y="1027" text-anchor="middle">1990</text><text x="1281.87" y="1027" text-anchor="middle">2000</text><text x="1366.18" y="1027" text-anchor="middle">2010</text><text x="1450.48" y="1027" text-anchor="middle">2020</text></g>
<g stroke="#000" stroke-width="0.14">
<text x="1286.5" y="1033.5" font-size="5.6" text-anchor="middle" fill="#000" font-weight="normal">Year</text>
<text transform="translate(1075 874) rotate(-90)" font-size="5.6" text-anchor="middle" fill="#000">Deaths Number</text>
<text transform="translate(1489.5 874) rotate(90)" font-size="5.6" text-anchor="middle" fill="#000">Age-standardized Deaths rate per 100,000</text>
<text x="1503" y="847.8" font-size="5.6" fill="#000">Number</text>
<rect x="1503.2" y="851.4" width="8.2" height="7.8999999999999995" fill="#FFA607" stroke="none"/>
<rect x="1503.2" y="860.4" width="8.2" height="7.8999999999999995" fill="#0234A8" stroke="none"/>
<text x="1514.6" y="857.1" font-size="4.8" fill="#111">Female</text>
<text x="1514.6" y="866.2" font-size="4.8" fill="#111">Male</text>
<text x="1503" y="885.2" font-size="5.6" fill="#000">Rate</text>
<line x1="1504" x2="1511" y1="893.3" y2="893.3" stroke="#EDA81A" stroke-width="1.4"/>
<line x1="1504" x2="1511" y1="902.3" y2="902.3" stroke="#1F3A93" stroke-width="1.4"/>
<text x="1514.6" y="895" font-size="4.8" fill="#111">Female</text>
<text x="1514.6" y="904" font-size="4.8" fill="#111">Male</text>
</g>
<text transform="translate(1066.14 744.88) scale(0.9312 1)" font-size="32.56" fill="#000" stroke="#000" stroke-width="0.45" stroke-linejoin="round">I</text></g>
<!-- panel J -->
<g><g stroke="#efefef" stroke-width="0.5" fill="none"><line x1="91.5" x2="470.5" y1="1367.71" y2="1367.71"/><line x1="91.5" x2="470.5" y1="1335.69" y2="1335.69"/><line x1="91.5" x2="470.5" y1="1303.67" y2="1303.67"/><line x1="91.5" x2="470.5" y1="1271.39" y2="1271.39"/><line x1="91.5" x2="470.5" y1="1239.37" y2="1239.37"/><line x1="91.5" x2="470.5" y1="1207.35" y2="1207.35"/><line x1="91.5" x2="470.5" y1="1175.08" y2="1175.08"/><line x1="91.5" x2="470.5" y1="1143.06" y2="1143.06"/><line x1="91.5" x2="470.5" y1="1111.04" y2="1111.04"/><line x1="113.01" x2="113.01" y1="1088" y2="1380"/><line x1="167.14" x2="167.14" y1="1088" y2="1380"/><line x1="221.26" x2="221.26" y1="1088" y2="1380"/><line x1="275.38" x2="275.38" y1="1088" y2="1380"/><line x1="329.51" x2="329.51" y1="1088" y2="1380"/><line x1="383.63" x2="383.63" y1="1088" y2="1380"/><line x1="437.75" x2="437.75" y1="1088" y2="1380"/></g>
<path d="M108.85 1367.71h4.22V1308.17h-4.22zM119.67 1367.71h4.22V1307.17h-4.22zM130.5 1367.71h4.22V1306.17h-4.22zM141.32 1367.71h4.22V1304.42h-4.22zM152.15 1367.71h4.22V1302.91h-4.22zM162.97 1367.71h4.22V1301.91h-4.22zM173.79 1367.71h4.22V1300.91h-4.22zM184.62 1367.71h4.22V1299.66h-4.22zM195.44 1367.71h4.22V1297.66h-4.22zM206.27 1367.71h4.22V1294.66h-4.22zM217.09 1367.71h4.22V1290.91h-4.22zM227.92 1367.71h4.22V1287.65h-4.22zM238.74 1367.71h4.22V1285.15h-4.22zM249.57 1367.71h4.22V1280.9h-4.22zM260.39 1367.71h4.22V1277.4h-4.22zM271.22 1367.71h4.22V1276.9h-4.22zM282.04 1367.71h4.22V1279.9h-4.22zM292.86 1367.71h4.22V1280.15h-4.22zM303.69 1367.71h4.22V1278.15h-4.22zM314.51 1367.71h4.22V1275.4h-4.22zM325.34 1367.71h4.22V1272.9h-4.22zM336.16 1367.71h4.22V1271.14h-4.22zM346.99 1367.71h4.22V1271.14h-4.22zM357.81 1367.71h4.22V1269.39h-4.22zM368.64 1367.71h4.22V1267.14h-4.22zM379.46 1367.71h4.22V1264.89h-4.22zM390.29 1367.71h4.22V1261.14h-4.22zM401.11 1367.71h4.22V1256.88h-4.22zM411.93 1367.71h4.22V1253.13h-4.22zM422.76 1367.71h4.22V1249.38h-4.22zM433.58 1367.71h4.22V1245.88h-4.22zM444.41 1367.71h4.22V1241.87h-4.22z" fill="#FFA607"/>
<path d="M113.56 1367.71h3.63V1300.16h-3.63zM124.38 1367.71h3.63V1298.16h-3.63zM135.21 1367.71h3.63V1295.91h-3.63zM146.03 1367.71h3.63V1293.91h-3.63zM156.85 1367.71h3.63V1292.16h-3.63zM167.68 1367.71h3.63V1290.16h-3.63zM178.5 1367.71h3.63V1288.16h-3.63zM189.33 1367.71h3.63V1286.4h-3.63zM200.15 1367.71h3.63V1284.15h-3.63zM210.98 1367.71h3.63V1280.9h-3.63zM221.8 1367.71h3.63V1275.4h-3.63zM232.63 1367.71h3.63V1270.64h-3.63zM243.45 1367.71h3.63V1266.39h-3.63zM254.28 1367.71h3.63V1260.14h-3.63zM265.1 1367.71h3.63V1254.13h-3.63zM275.92 1367.71h3.63V1252.63h-3.63zM286.75 1367.71h3.63V1255.38h-3.63zM297.57 1367.71h3.63V1253.88h-3.63zM308.4 1367.71h3.63V1248.88h-3.63zM319.22 1367.71h3.63V1242.63h-3.63zM330.05 1367.71h3.63V1236.87h-3.63zM340.87 1367.71h3.63V1233.12h-3.63zM351.7 1367.71h3.63V1228.87h-3.63zM362.52 1367.71h3.63V1225.11h-3.63zM373.35 1367.71h3.63V1222.11h-3.63zM384.17 1367.71h3.63V1219.36h-3.63zM394.99 1367.71h3.63V1214.36h-3.63zM405.82 1367.71h3.63V1211.1h-3.63zM416.64 1367.71h3.63V1208.1h-3.63zM427.47 1367.71h3.63V1203.85h-3.63zM438.29 1367.71h3.63V1199.1h-3.63zM449.12 1367.71h3.63V1193.84h-3.63z" fill="#0234A8"/>
<path d="M110.96 1296.41V1317.17M110.27 1296.41h1.38M110.27 1317.17h1.38M121.78 1295.13V1315.2M121.09 1295.13h1.38M121.09 1315.2h1.38M132.61 1293.78V1313.25M131.92 1293.78h1.38M131.92 1313.25h1.38M143.43 1292.37V1311.33M142.74 1292.37h1.38M142.74 1311.33h1.38M154.26 1290.91V1309.45M153.57 1290.91h1.38M153.57 1309.45h1.38M165.08 1289.39V1307.6M164.39 1289.39h1.38M164.39 1307.6h1.38M175.91 1287.89V1305.78M175.22 1287.89h1.38M175.22 1305.78h1.38M186.73 1286.38V1304M186.04 1286.38h1.38M186.04 1304h1.38M197.55 1284.77V1302.26M196.86 1284.77h1.38M196.86 1302.26h1.38M208.38 1282.96V1300.55M207.69 1282.96h1.38M207.69 1300.55h1.38M219.2 1280.86V1298.89M218.51 1280.86h1.38M218.51 1298.89h1.38M230.03 1277.64V1297.24M229.34 1277.64h1.38M229.34 1297.24h1.38M240.85 1273.49V1295.59M240.16 1273.49h1.38M240.16 1295.59h1.38M251.68 1269.71V1293.96M250.99 1269.71h1.38M250.99 1293.96h1.38M262.5 1267.65V1292.36M261.81 1267.65h1.38M261.81 1292.36h1.38M273.33 1267.14V1290.79M272.64 1267.14h1.38M272.64 1290.79h1.38M284.15 1271.39V1289.27M283.46 1271.39h1.38M283.46 1289.27h1.38M294.98 1270.37V1287.81M294.29 1270.37h1.38M294.29 1287.81h1.38M305.8 1267.92V1286.42M305.11 1267.92h1.38M305.11 1286.42h1.38M316.62 1264.88V1285.11M315.93 1264.88h1.38M315.93 1285.11h1.38M327.45 1262.12V1283.89M326.76 1262.12h1.38M326.76 1283.89h1.38M338.27 1259.93V1282.85M337.58 1259.93h1.38M337.58 1282.85h1.38M349.1 1257.9V1281.97M348.41 1257.9h1.38M348.41 1281.97h1.38M359.92 1255.76V1281.11M359.23 1255.76h1.38M359.23 1281.11h1.38M370.75 1253.27V1280.14M370.06 1253.27h1.38M370.06 1280.14h1.38M381.57 1250.15V1278.91M380.88 1250.15h1.38M380.88 1278.91h1.38M392.4 1245.34V1277.28M391.71 1245.34h1.38M391.71 1277.28h1.38M403.22 1239.33V1275.24M402.53 1239.33h1.38M402.53 1275.24h1.38M414.05 1232.78V1272.83M413.36 1232.78h1.38M413.36 1272.83h1.38M424.87 1226.39V1270.1M424.18 1226.39h1.38M424.18 1270.1h1.38M435.69 1221.35V1267.09M435 1221.35h1.38M435 1267.09h1.38M446.52 1215.11V1263.89M445.83 1215.11h1.38M445.83 1263.89h1.38M115.36 1283.9V1308.27M114.67 1283.9h1.38M114.67 1308.27h1.38M126.19 1283.15V1306.51M125.5 1283.15h1.38M125.5 1306.51h1.38M137.01 1280.15V1304.53M136.32 1280.15h1.38M136.32 1304.53h1.38M147.84 1279.4V1302.76M147.15 1279.4h1.38M147.15 1302.76h1.38M158.66 1277.9V1301.22M157.97 1277.9h1.38M157.97 1301.22h1.38M169.49 1277.15V1299.46M168.8 1277.15h1.38M168.8 1299.46h1.38M180.31 1275.15V1297.7M179.62 1275.15h1.38M179.62 1297.7h1.38M191.14 1274.4V1296.16M190.45 1274.4h1.38M190.45 1296.16h1.38M201.96 1271.14V1294.18M201.27 1271.14h1.38M201.27 1294.18h1.38M212.78 1269.39V1291.32M212.09 1269.39h1.38M212.09 1291.32h1.38M223.61 1263.39V1286.47M222.92 1263.39h1.38M222.92 1286.47h1.38M234.43 1258.39V1282.29M233.74 1258.39h1.38M233.74 1282.29h1.38M245.26 1255.13V1278.55M244.57 1255.13h1.38M244.57 1278.55h1.38M256.08 1248.13V1273.05M255.39 1248.13h1.38M255.39 1273.05h1.38M266.91 1242.13V1267.76M266.22 1242.13h1.38M266.22 1267.76h1.38M277.73 1240.87V1266.44M277.04 1240.87h1.38M277.04 1266.44h1.38M288.56 1243.88V1268.86M287.87 1243.88h1.38M287.87 1268.86h1.38M299.38 1240.62V1267.54M298.69 1240.62h1.38M298.69 1267.54h1.38M310.21 1234.62V1263.14M309.52 1234.62h1.38M309.52 1263.14h1.38M321.03 1228.37V1257.64M320.34 1228.37h1.38M320.34 1257.64h1.38M331.85 1222.61V1252.57M331.16 1222.61h1.38M331.16 1252.57h1.38M342.68 1215.61V1249.27M341.99 1215.61h1.38M341.99 1249.27h1.38M353.5 1210.6V1245.53M352.81 1210.6h1.38M352.81 1245.53h1.38M364.33 1205.1V1242.23M363.64 1205.1h1.38M363.64 1242.23h1.38M375.15 1200.1V1239.58M374.46 1200.1h1.38M374.46 1239.58h1.38M385.98 1196.35V1237.16M385.29 1196.35h1.38M385.29 1237.16h1.38M396.8 1187.59V1232.76M396.11 1187.59h1.38M396.11 1232.76h1.38M407.63 1180.84V1229.9M406.94 1180.84h1.38M406.94 1229.9h1.38M418.45 1175.58V1227.26M417.76 1175.58h1.38M417.76 1227.26h1.38M429.28 1169.58V1223.51M428.59 1169.58h1.38M428.59 1223.51h1.38M440.1 1164.32V1219.33M439.41 1164.32h1.38M439.41 1219.33h1.38M450.92 1157.07V1214.71M450.23 1157.07h1.38M450.23 1214.71h1.38" stroke="#000" stroke-width="1.1" fill="none" opacity="0.55"/>
<path d="M113.01 1183.84 L118.43 1184.21 L123.84 1184.59 L129.25 1184.84 L134.66 1185.08 L140.08 1185.7 L145.49 1186.33 L150.9 1186.71 L156.31 1187.09 L161.73 1188.61 L167.14 1190.1 L172.55 1190.73 L177.96 1191.43 L183.37 1194.51 L188.79 1197.58 L194.2 1196.97 L199.61 1196.35 L205.02 1196.98 L210.44 1197.56 L215.85 1195.67 L221.26 1193.82 L226.67 1193.21 L232.09 1192.59 L237.5 1193.22 L242.91 1193.82 L248.32 1191.93 L253.73 1190.08 L259.15 1189.46 L264.56 1188.85 L269.97 1191.08 L275.38 1193.36 L280.8 1199.9 L286.21 1206.39 L291.62 1208.91 L297.03 1211.37 L302.44 1211.73 L307.86 1212.1 L313.27 1212.61 L318.68 1213.11 L324.09 1214.12 L329.51 1215.13 L334.92 1216.36 L340.33 1217.59 L345.74 1219.84 L351.16 1222.11 L356.57 1223.24 L361.98 1224.37 L367.39 1225.36 L372.8 1226.34 L378.22 1227.35 L383.63 1228.35 L389.04 1228.86 L394.45 1229.37 L399.87 1228.23 L405.28 1227.11 L410.69 1226.49 L416.1 1225.88 L421.51 1225.86 L426.93 1225.86 L432.34 1225.86 L437.75 1225.86 L443.16 1225.49 L448.58 1225.11 L448.58 1269.64 L443.16 1269.64 L437.75 1269.64 L432.34 1269.27 L426.93 1268.88 L421.51 1267.62 L416.1 1266.38 L410.69 1265.76 L405.28 1265.15 L399.87 1264.52 L394.45 1263.89 L389.04 1263.51 L383.63 1263.13 L378.22 1262.25 L372.8 1261.36 L367.39 1260.13 L361.98 1258.9 L356.57 1256.39 L351.16 1253.87 L345.74 1250.73 L340.33 1247.6 L334.92 1245.76 L329.51 1243.91 L324.09 1243.26 L318.68 1242.63 L313.27 1241.62 L307.86 1240.62 L302.44 1240.01 L297.03 1239.39 L291.62 1236.92 L286.21 1234.41 L280.8 1229.78 L275.38 1225.12 L269.97 1223.48 L264.56 1221.87 L259.15 1222.86 L253.73 1223.84 L248.32 1225.34 L242.91 1226.85 L237.5 1227.49 L232.09 1228.12 L226.67 1228.49 L221.26 1228.85 L215.85 1231.3 L210.44 1233.82 L205.02 1234.73 L199.61 1235.61 L194.2 1236 L188.79 1236.37 L183.37 1236.37 L177.96 1236.37 L172.55 1235.76 L167.14 1235.13 L161.73 1235.37 L156.31 1235.62 L150.9 1235.37 L145.49 1235.13 L140.08 1235.76 L134.66 1236.36 L129.25 1235.74 L123.84 1235.13 L118.43 1234.5 L113.01 1233.87z" fill="#FFA500" fill-opacity="0.2"/>
<path d="M113.01 1114.29 L118.43 1116.56 L123.84 1118.79 L129.25 1118.79 L134.66 1118.79 L140.08 1121.26 L145.49 1123.78 L150.9 1124.8 L156.31 1125.8 L161.73 1127.32 L167.14 1128.81 L172.55 1129.44 L177.96 1130.1 L183.37 1131.95 L188.79 1133.8 L194.2 1133.18 L199.61 1132.56 L205.02 1133.44 L210.44 1134.22 L215.85 1130.2 L221.26 1126.21 L226.67 1123.51 L232.09 1120.8 L237.5 1120.42 L242.91 1119.98 L248.32 1114.32 L253.73 1108.72 L259.15 1105.64 L264.56 1102.57 L269.97 1105.4 L275.38 1108.31 L280.8 1116.49 L286.21 1124.57 L291.62 1125.7 L297.03 1126.78 L302.44 1126.17 L307.86 1125.55 L313.27 1124.67 L318.68 1123.8 L324.09 1123.29 L329.51 1122.79 L334.92 1122.55 L340.33 1122.3 L345.74 1123.29 L351.16 1124.3 L356.57 1124.3 L361.98 1124.31 L367.39 1125.91 L372.8 1127.51 L378.22 1129.02 L383.63 1130.53 L389.04 1129.43 L394.45 1128.3 L399.87 1128.93 L405.28 1129.56 L410.69 1130.42 L416.1 1131.29 L421.51 1132.17 L426.93 1133.05 L432.34 1133.8 L437.75 1134.56 L443.16 1134.81 L448.58 1135.06 L448.58 1207.6 L443.16 1207.36 L437.75 1207.1 L432.34 1206.1 L426.93 1205.08 L421.51 1202.56 L416.1 1200.05 L410.69 1197.59 L405.28 1195.13 L399.87 1191.37 L394.45 1187.59 L389.04 1186.96 L383.63 1186.31 L378.22 1183.54 L372.8 1180.77 L367.39 1178.19 L361.98 1175.61 L356.57 1173.71 L351.16 1171.83 L345.74 1170.31 L340.33 1168.8 L334.92 1167.33 L329.51 1165.85 L324.09 1165.7 L318.68 1165.58 L313.27 1166.33 L307.86 1167.08 L302.44 1167.32 L297.03 1167.57 L291.62 1164.52 L286.21 1161.37 L280.8 1155.37 L275.38 1149.33 L269.97 1148.44 L264.56 1147.58 L259.15 1149.43 L253.73 1151.27 L248.32 1157.22 L242.91 1163.26 L237.5 1165.44 L232.09 1167.58 L226.67 1169.42 L221.26 1171.27 L215.85 1175.59 L210.44 1180 L205.02 1182.31 L199.61 1184.57 L194.2 1184.46 L188.79 1184.34 L183.37 1184.71 L177.96 1185.08 L172.55 1185.7 L167.14 1186.33 L161.73 1186.96 L156.31 1187.59 L150.9 1187.84 L145.49 1188.11 L140.08 1190.5 L134.66 1192.85 L129.25 1193.09 L123.84 1193.34 L118.43 1194.46 L113.01 1195.59z" fill="#0033A0" fill-opacity="0.2"/>
<path d="M113.01 1211.36 L118.43 1212.61 L123.84 1213.86 L129.25 1214.11 L134.66 1214.35 L140.08 1214.6 L145.49 1214.86 L150.9 1215.11 L156.31 1215.36 L161.73 1215.86 L167.14 1216.37 L172.55 1217 L177.96 1217.64 L183.37 1218.62 L188.79 1219.61 L194.2 1219.36 L199.61 1219.1 L205.02 1218.1 L210.44 1217.06 L215.85 1214.8 L221.26 1212.57 L226.67 1211.46 L232.09 1210.36 L237.5 1210.23 L242.91 1210.08 L248.32 1208.2 L253.73 1206.34 L259.15 1205.72 L264.56 1205.11 L269.97 1206.97 L275.38 1208.87 L280.8 1215.16 L286.21 1221.4 L291.62 1224.04 L297.03 1226.63 L302.44 1227.12 L307.86 1227.61 L313.27 1227.99 L318.68 1228.37 L324.09 1228.75 L329.51 1229.14 L334.92 1230.62 L340.33 1232.1 L345.74 1235.09 L351.16 1238.11 L356.57 1239.75 L361.98 1241.38 L367.39 1242.24 L372.8 1243.11 L378.22 1244.35 L383.63 1245.61 L389.04 1245.88 L394.45 1246.13 L399.87 1246.25 L405.28 1246.38 L410.69 1246.63 L416.1 1246.87 L421.51 1247.49 L426.93 1248.12 L432.34 1248.5 L437.75 1248.88 L443.16 1249.13 L448.58 1249.38" stroke="#EDA81A" stroke-width="1.4" fill="none" stroke-linejoin="round"/>
<path d="M113.01 1160.07 L118.43 1160.32 L123.84 1160.57 L129.25 1160.07 L134.66 1159.58 L140.08 1159.32 L145.49 1159.07 L150.9 1159.57 L156.31 1160.07 L161.73 1159.82 L167.14 1159.58 L172.55 1159.83 L177.96 1160.09 L183.37 1160.83 L188.79 1161.57 L194.2 1161.07 L199.61 1160.57 L205.02 1159.68 L210.44 1158.73 L215.85 1154.33 L221.26 1149.97 L226.67 1147.14 L232.09 1144.32 L237.5 1143.05 L242.91 1141.74 L248.32 1135.83 L253.73 1129.99 L259.15 1127.28 L264.56 1124.58 L269.97 1126.04 L275.38 1127.57 L280.8 1135.75 L286.21 1143.85 L291.62 1146.24 L297.03 1148.55 L302.44 1148.06 L307.86 1147.57 L313.27 1146.06 L318.68 1144.56 L324.09 1143.93 L329.51 1143.34 L334.92 1144.81 L340.33 1146.29 L345.74 1147.8 L351.16 1149.31 L356.57 1150.57 L361.98 1151.84 L367.39 1154.05 L372.8 1156.27 L378.22 1158.16 L383.63 1160.05 L389.04 1160.69 L394.45 1161.32 L399.87 1163.21 L405.28 1165.1 L410.69 1166.94 L416.1 1168.79 L421.51 1169.81 L426.93 1170.82 L432.34 1171.33 L437.75 1171.83 L443.16 1172.34 L448.58 1172.83" stroke="#1F3A93" stroke-width="1.4" fill="none" stroke-linejoin="round"/>
<g font-size="4.5" fill="#3a3a3a" stroke="#3a3a3a" stroke-width="0.12"><text x="90" y="1369.33" text-anchor="end">0.0e+00</text><text x="90" y="1305.29" text-anchor="end">5.0e+06</text><text x="90" y="1240.99" text-anchor="end">1.0e+07</text><text x="90" y="1176.7" text-anchor="end">1.5e+07</text><text x="90" y="1112.66" text-anchor="end">2.0e+07</text><text x="471.7" y="1369.33">0</text><text x="471.7" y="1305.29">500</text><text x="471.7" y="1240.99">1000</text><text x="471.7" y="1176.7">1500</text><text x="471.7" y="1112.66">2000</text><text x="113.01" y="1387.4" text-anchor="middle">1990</text><text x="221.26" y="1387.4" text-anchor="middle">2000</text><text x="329.51" y="1387.4" text-anchor="middle">2010</text><text x="437.75" y="1387.4" text-anchor="middle">2020</text></g>
<g stroke="#000" stroke-width="0.14">
<text x="280" y="1394" font-size="5.6" text-anchor="middle" fill="#000" font-weight="normal">Year</text>
<text transform="translate(70 1235) rotate(-90)" font-size="5.6" text-anchor="middle" fill="#000">DALYs Number</text>
<text transform="translate(484.5 1235) rotate(90)" font-size="5.6" text-anchor="middle" fill="#000">Age-standardized DALYs rate per 100,000</text>
<text x="497.7" y="1207.8" font-size="5.6" fill="#000">Number</text>
<rect x="497.9" y="1211.4" width="8.2" height="7.8999999999999995" fill="#FFA607" stroke="none"/>
<rect x="497.9" y="1220.4" width="8.2" height="7.8999999999999995" fill="#0234A8" stroke="none"/>
<text x="509.3" y="1217.1" font-size="4.8" fill="#111">Female</text>
<text x="509.3" y="1226.2" font-size="4.8" fill="#111">Male</text>
<text x="497.7" y="1245.2" font-size="5.6" fill="#000">Rate</text>
<line x1="498.7" x2="505.7" y1="1253.3" y2="1253.3" stroke="#EDA81A" stroke-width="1.4"/>
<line x1="498.7" x2="505.7" y1="1262.3" y2="1262.3" stroke="#1F3A93" stroke-width="1.4"/>
<text x="509.3" y="1255" font-size="4.8" fill="#111">Female</text>
<text x="509.3" y="1264" font-size="4.8" fill="#111">Male</text>
</g>
<text transform="translate(7.91 1121.92) scale(1.1446 0.8091)" font-family='"DejaVu Sans", "Liberation Sans", sans-serif' font-size="30" fill="#000" stroke="#000" stroke-width="0.45" stroke-linejoin="round">J</text></g>
<!-- panel K -->
<g><g stroke="#efefef" stroke-width="0.5" fill="none"><line x1="582" x2="964" y1="1367.71" y2="1367.71"/><line x1="582" x2="964" y1="1333.68" y2="1333.68"/><line x1="582" x2="964" y1="1299.66" y2="1299.66"/><line x1="582" x2="964" y1="1265.64" y2="1265.64"/><line x1="582" x2="964" y1="1231.87" y2="1231.87"/><line x1="582" x2="964" y1="1197.85" y2="1197.85"/><line x1="582" x2="964" y1="1163.82" y2="1163.82"/><line x1="582" x2="964" y1="1129.8" y2="1129.8"/><line x1="582" x2="964" y1="1095.78" y2="1095.78"/><line x1="603.76" x2="603.76" y1="1088" y2="1380"/><line x1="658.46" x2="658.46" y1="1088" y2="1380"/><line x1="713.16" x2="713.16" y1="1088" y2="1380"/><line x1="767.85" x2="767.85" y1="1088" y2="1380"/><line x1="822.55" x2="822.55" y1="1088" y2="1380"/><line x1="877.25" x2="877.25" y1="1088" y2="1380"/><line x1="931.95" x2="931.95" y1="1088" y2="1380"/></g>
<path d="M599.55 1367.71h4.27V1298.91h-4.27zM610.49 1367.71h4.27V1299.41h-4.27zM621.43 1367.71h4.27V1299.41h-4.27zM632.37 1367.71h4.27V1299.16h-4.27zM643.31 1367.71h4.27V1298.91h-4.27zM654.25 1367.71h4.27V1298.66h-4.27zM665.18 1367.71h4.27V1298.41h-4.27zM676.12 1367.71h4.27V1298.16h-4.27zM687.06 1367.71h4.27V1297.16h-4.27zM698 1367.71h4.27V1295.16h-4.27zM708.94 1367.71h4.27V1293.16h-4.27zM719.88 1367.71h4.27V1290.91h-4.27zM730.82 1367.71h4.27V1288.16h-4.27zM741.76 1367.71h4.27V1285.65h-4.27zM752.7 1367.71h4.27V1283.9h-4.27zM763.64 1367.71h4.27V1285.15h-4.27zM774.58 1367.71h4.27V1289.66h-4.27zM785.52 1367.71h4.27V1292.16h-4.27zM796.46 1367.71h4.27V1293.16h-4.27zM807.4 1367.71h4.27V1293.91h-4.27zM818.34 1367.71h4.27V1294.66h-4.27zM829.28 1367.71h4.27V1296.16h-4.27zM840.22 1367.71h4.27V1298.41h-4.27zM851.16 1367.71h4.27V1300.66h-4.27zM862.1 1367.71h4.27V1301.66h-4.27zM873.04 1367.71h4.27V1302.16h-4.27zM883.98 1367.71h4.27V1301.41h-4.27zM894.92 1367.71h4.27V1300.91h-4.27zM905.86 1367.71h4.27V1300.16h-4.27zM916.8 1367.71h4.27V1299.41h-4.27zM927.74 1367.71h4.27V1298.16h-4.27zM938.68 1367.71h4.27V1296.91h-4.27z" fill="#FFA607"/>
<path d="M604.31 1367.71h3.66V1281.65h-3.66zM615.25 1367.71h3.66V1280.9h-3.66zM626.19 1367.71h3.66V1279.4h-3.66zM637.12 1367.71h3.66V1278.9h-3.66zM648.06 1367.71h3.66V1278.15h-3.66zM659 1367.71h3.66V1276.4h-3.66zM669.94 1367.71h3.66V1274.9h-3.66zM680.88 1367.71h3.66V1273.4h-3.66zM691.82 1367.71h3.66V1271.39h-3.66zM702.76 1367.71h3.66V1268.64h-3.66zM713.7 1367.71h3.66V1263.89h-3.66zM724.64 1367.71h3.66V1260.14h-3.66zM735.58 1367.71h3.66V1255.88h-3.66zM746.52 1367.71h3.66V1251.63h-3.66zM757.46 1367.71h3.66V1247.63h-3.66zM768.4 1367.71h3.66V1247.63h-3.66zM779.34 1367.71h3.66V1252.13h-3.66zM790.28 1367.71h3.66V1253.13h-3.66zM801.22 1367.71h3.66V1251.38h-3.66zM812.16 1367.71h3.66V1250.38h-3.66zM823.1 1367.71h3.66V1249.88h-3.66zM834.04 1367.71h3.66V1250.88h-3.66zM844.98 1367.71h3.66V1251.63h-3.66zM855.92 1367.71h3.66V1253.63h-3.66zM866.86 1367.71h3.66V1255.38h-3.66zM877.8 1367.71h3.66V1255.88h-3.66zM888.74 1367.71h3.66V1255.13h-3.66zM899.68 1367.71h3.66V1255.88h-3.66zM910.62 1367.71h3.66V1255.88h-3.66zM921.55 1367.71h3.66V1254.88h-3.66zM932.49 1367.71h3.66V1253.38h-3.66zM943.43 1367.71h3.66V1251.63h-3.66z" fill="#0234A8"/>
<path d="M601.68 1283.15V1311.42M600.98 1283.15h1.39M600.98 1311.42h1.39M612.62 1282.59V1308.05M611.92 1282.59h1.39M611.92 1308.05h1.39M623.56 1282.1V1305.11M622.86 1282.1h1.39M622.86 1305.11h1.39M634.5 1281.73V1302.56M633.8 1281.73h1.39M633.8 1302.56h1.39M645.44 1281.49V1300.38M644.74 1281.49h1.39M644.74 1300.38h1.39M656.38 1281.4V1298.54M655.68 1281.4h1.39M655.68 1298.54h1.39M667.32 1281.48V1297.01M666.62 1281.48h1.39M666.62 1297.01h1.39M678.26 1281.66V1295.76M677.56 1281.66h1.39M677.56 1295.76h1.39M689.2 1281.89V1294.77M688.5 1281.89h1.39M688.5 1294.77h1.39M700.14 1282.07V1294.01M699.44 1282.07h1.39M699.44 1294.01h1.39M711.08 1282.15V1293.45M710.38 1282.15h1.39M710.38 1293.45h1.39M722.02 1280.93V1293.06M721.32 1280.93h1.39M721.32 1293.06h1.39M732.96 1278.26V1292.82M732.26 1278.26h1.39M732.26 1292.82h1.39M743.9 1275.6V1292.69M743.2 1275.6h1.39M743.2 1292.69h1.39M754.84 1274.4V1292.66M754.14 1274.4h1.39M754.14 1292.66h1.39M765.77 1276.4V1293.24M765.08 1276.4h1.39M765.08 1293.24h1.39M776.71 1278.37V1294.77M776.02 1278.37h1.39M776.02 1294.77h1.39M787.65 1280.36V1296.92M786.96 1280.36h1.39M786.96 1296.92h1.39M798.59 1282.29V1299.37M797.9 1282.29h1.39M797.9 1299.37h1.39M809.53 1284.08V1301.81M808.84 1284.08h1.39M808.84 1301.81h1.39M820.47 1285.64V1303.9M819.78 1285.64h1.39M819.78 1303.9h1.39M831.41 1287.15V1305.97M830.72 1287.15h1.39M830.72 1305.97h1.39M842.35 1288.69V1308.29M841.65 1288.69h1.39M841.65 1308.29h1.39M853.29 1290.06V1310.45M852.59 1290.06h1.39M852.59 1310.45h1.39M864.23 1291.04V1312.05M863.53 1291.04h1.39M863.53 1312.05h1.39M875.17 1291.41V1312.67M874.47 1291.41h1.39M874.47 1312.67h1.39M886.11 1290.65V1312.67M885.41 1290.65h1.39M885.41 1312.67h1.39M897.05 1288.77V1312.67M896.35 1288.77h1.39M896.35 1312.67h1.39M907.99 1286.38V1312.67M907.29 1286.38h1.39M907.29 1312.67h1.39M918.93 1282.64V1312.67M918.23 1282.64h1.39M918.23 1312.67h1.39M929.87 1280.9V1312.67M929.17 1280.9h1.39M929.17 1312.67h1.39M940.81 1278.92V1312.67M940.11 1278.92h1.39M940.11 1312.67h1.39M606.13 1263.39V1291.98M605.44 1263.39h1.39M605.44 1291.98h1.39M617.07 1263.39V1291.32M616.38 1263.39h1.39M616.38 1291.32h1.39M628.01 1260.89V1290M627.31 1260.89h1.39M627.31 1290h1.39M638.95 1261.39V1289.56M638.25 1261.39h1.39M638.25 1289.56h1.39M649.89 1262.14V1288.9M649.19 1262.14h1.39M649.19 1288.9h1.39M660.83 1260.89V1287.35M660.13 1260.89h1.39M660.13 1287.35h1.39M671.77 1259.64V1286.03M671.07 1259.64h1.39M671.07 1286.03h1.39M682.71 1259.14V1284.71M682.01 1259.14h1.39M682.01 1284.71h1.39M693.65 1255.13V1282.95M692.95 1255.13h1.39M692.95 1282.95h1.39M704.59 1255.13V1280.53M703.89 1255.13h1.39M703.89 1280.53h1.39M715.53 1250.13V1276.35M714.83 1250.13h1.39M714.83 1276.35h1.39M726.47 1246.88V1273.05M725.77 1246.88h1.39M725.77 1273.05h1.39M737.41 1243.38V1269.3M736.71 1243.38h1.39M736.71 1269.3h1.39M748.35 1239.87V1265.56M747.65 1239.87h1.39M747.65 1265.56h1.39M759.29 1234.62V1262.04M758.59 1234.62h1.39M758.59 1262.04h1.39M770.23 1235.87V1262.04M769.53 1235.87h1.39M769.53 1262.04h1.39M781.17 1240.62V1266M780.47 1240.62h1.39M780.47 1266h1.39M792.11 1240.12V1266.88M791.41 1240.12h1.39M791.41 1266.88h1.39M803.05 1237.62V1265.34M802.35 1237.62h1.39M802.35 1265.34h1.39M813.99 1236.87V1264.46M813.29 1236.87h1.39M813.29 1264.46h1.39M824.93 1235.62V1264.02M824.23 1235.62h1.39M824.23 1264.02h1.39M835.86 1235.37V1264.9M835.17 1235.37h1.39M835.17 1264.9h1.39M846.8 1235.37V1265.56M846.11 1235.37h1.39M846.11 1265.56h1.39M857.74 1234.62V1267.32M857.05 1234.62h1.39M857.05 1267.32h1.39M868.68 1236.62V1268.86M867.99 1236.62h1.39M867.99 1268.86h1.39M879.62 1236.62V1269.3M878.93 1236.62h1.39M878.93 1269.3h1.39M890.56 1232.12V1268.64M889.87 1232.12h1.39M889.87 1268.64h1.39M901.5 1230.87V1269.3M900.81 1230.87h1.39M900.81 1269.3h1.39M912.44 1232.62V1269.3M911.74 1232.62h1.39M911.74 1269.3h1.39M923.38 1227.12V1268.42M922.68 1227.12h1.39M922.68 1268.42h1.39M934.32 1226.11V1267.1M933.62 1226.11h1.39M933.62 1267.1h1.39M945.26 1222.11V1265.56M944.56 1222.11h1.39M944.56 1265.56h1.39" stroke="#000" stroke-width="1.1" fill="none" opacity="0.55"/>
<path d="M603.76 1163.82 L609.23 1165.69 L614.7 1167.55 L620.17 1168.2 L625.64 1168.89 L631.11 1171.75 L636.58 1174.59 L642.05 1175.46 L647.52 1176.33 L652.99 1179.43 L658.46 1182.54 L663.93 1184.84 L669.4 1187.18 L674.87 1192.4 L680.34 1197.6 L685.81 1198.85 L691.28 1200.09 L696.75 1203.25 L702.22 1206.36 L707.69 1206.73 L713.16 1207.11 L718.62 1207.35 L724.09 1207.6 L729.56 1208.85 L735.03 1210.09 L740.5 1209.85 L745.97 1209.62 L751.44 1210.24 L756.91 1210.89 L762.38 1214.24 L767.85 1217.6 L773.32 1226.91 L778.79 1236.23 L784.26 1240.13 L789.73 1243.91 L795.2 1245.78 L800.67 1247.64 L806.14 1249.88 L811.61 1252.12 L817.08 1254.23 L822.55 1256.35 L828.02 1259.26 L833.49 1262.2 L838.96 1266.18 L844.43 1270.15 L849.9 1273.63 L855.37 1277.11 L860.84 1278.87 L866.31 1280.61 L871.78 1281.65 L877.25 1282.66 L882.72 1283.28 L888.19 1283.9 L893.66 1283.65 L899.13 1283.41 L904.6 1284.03 L910.07 1284.66 L915.54 1284.91 L921.01 1285.16 L926.48 1285.4 L931.95 1285.65 L937.42 1285.41 L942.89 1285.16 L942.89 1314.67 L937.42 1314.29 L931.95 1313.92 L926.48 1313.55 L921.01 1313.17 L915.54 1312.55 L910.07 1311.93 L904.6 1311.05 L899.13 1310.15 L893.66 1308.91 L888.19 1307.67 L882.72 1306.42 L877.25 1305.18 L871.78 1303.28 L866.31 1301.36 L860.84 1298.87 L855.37 1296.37 L849.9 1292.65 L844.43 1288.92 L838.96 1285.19 L833.49 1281.46 L828.02 1278.27 L822.55 1275.11 L817.08 1273.25 L811.61 1271.38 L806.14 1269.52 L800.67 1267.65 L795.2 1265.54 L789.73 1263.43 L784.26 1259.89 L778.79 1256.3 L773.32 1250.46 L767.85 1244.62 L762.38 1242.01 L756.91 1239.4 L751.44 1239.13 L745.97 1238.88 L740.5 1239.49 L735.03 1240.13 L729.56 1240.75 L724.09 1241.37 L718.62 1241.62 L713.16 1241.87 L707.69 1243.1 L702.22 1244.34 L696.75 1244.5 L691.28 1244.62 L685.81 1244.25 L680.34 1243.88 L674.87 1243.26 L669.4 1242.64 L663.93 1241.63 L658.46 1240.6 L652.99 1239.36 L647.52 1238.12 L642.05 1237.62 L636.58 1237.13 L631.11 1236.14 L625.64 1235.14 L620.17 1233.25 L614.7 1231.35 L609.23 1229.86 L603.76 1228.37z" fill="#FFA500" fill-opacity="0.2"/>
<path d="M603.76 1102.53 L609.23 1106.64 L614.7 1110.74 L620.17 1110.79 L625.64 1110.85 L631.11 1113.58 L636.58 1116.33 L642.05 1120.68 L647.52 1125.03 L652.99 1127.28 L658.46 1129.52 L663.93 1131.05 L669.4 1132.59 L674.87 1134.45 L680.34 1136.3 L685.81 1134.81 L691.28 1133.32 L696.75 1135.7 L702.22 1138.01 L707.69 1136.27 L713.16 1134.55 L718.62 1133.92 L724.09 1133.3 L729.56 1133.55 L735.03 1133.8 L740.5 1132.92 L745.97 1132.02 L751.44 1130.53 L756.91 1129.1 L762.38 1133.95 L767.85 1138.8 L773.32 1146.87 L778.79 1154.95 L784.26 1159.08 L789.73 1163.09 L795.2 1164.09 L800.67 1165.09 L806.14 1167.58 L811.61 1170.06 L817.08 1172.3 L822.55 1174.54 L828.02 1177.58 L833.49 1180.64 L838.96 1184.12 L844.43 1187.6 L849.9 1190.33 L855.37 1193.07 L860.84 1197.4 L866.31 1201.75 L871.78 1204.09 L877.25 1206.34 L882.72 1205.72 L888.19 1205.1 L893.66 1206.96 L899.13 1208.83 L904.6 1211.74 L910.07 1214.6 L915.54 1214.48 L921.01 1214.36 L926.48 1215.36 L931.95 1216.35 L937.42 1216.48 L942.89 1216.61 L942.89 1271.38 L937.42 1270.76 L931.95 1270.14 L926.48 1268.89 L921.01 1267.65 L915.54 1265.79 L910.07 1263.93 L904.6 1262.02 L899.13 1260.1 L893.66 1257.62 L888.19 1255.13 L882.72 1252.64 L877.25 1250.16 L871.78 1247.62 L866.31 1245.03 L860.84 1240.68 L855.37 1236.33 L849.9 1231.98 L844.43 1227.63 L838.96 1223.9 L833.49 1220.17 L828.02 1215.73 L822.55 1211.31 L817.08 1208.82 L811.61 1206.34 L806.14 1203.85 L800.67 1201.36 L795.2 1199.5 L789.73 1197.63 L784.26 1193.85 L778.79 1189.99 L773.32 1182.9 L767.85 1175.83 L762.38 1173.22 L756.91 1170.6 L751.44 1171.19 L745.97 1171.82 L740.5 1174.07 L735.03 1176.34 L729.56 1177.34 L724.09 1178.33 L718.62 1179.2 L713.16 1180.07 L707.69 1183.15 L702.22 1186.26 L696.75 1188.2 L691.28 1190.09 L685.81 1189.47 L680.34 1188.84 L674.87 1188.22 L669.4 1187.6 L663.93 1188.84 L658.46 1190.09 L652.99 1189.84 L647.52 1189.59 L642.05 1188.34 L636.58 1187.1 L631.11 1186.47 L625.64 1185.85 L620.17 1185.84 L614.7 1185.83 L609.23 1185.21 L603.76 1184.59z" fill="#0033A0" fill-opacity="0.2"/>
<path d="M603.76 1200.85 L609.23 1203.58 L614.7 1206.32 L620.17 1208.49 L625.64 1210.64 L631.11 1212.25 L636.58 1213.87 L642.05 1215.36 L647.52 1216.85 L652.99 1218.47 L658.46 1220.08 L663.93 1221.61 L669.4 1223.14 L674.87 1224.76 L680.34 1226.37 L685.81 1226.99 L691.28 1227.61 L696.75 1227.87 L702.22 1228.1 L707.69 1227.61 L713.16 1227.11 L718.62 1226.86 L724.09 1226.61 L729.56 1226.37 L735.03 1226.12 L740.5 1225.99 L745.97 1225.87 L751.44 1226.25 L756.91 1226.65 L762.38 1229.63 L767.85 1232.61 L773.32 1239.07 L778.79 1245.53 L784.26 1249.76 L789.73 1253.92 L795.2 1256.04 L800.67 1258.15 L806.14 1260.14 L811.61 1262.13 L817.08 1264.24 L822.55 1266.35 L828.02 1269.51 L833.49 1272.7 L838.96 1276.18 L844.43 1279.66 L849.9 1282.77 L855.37 1285.87 L860.84 1288 L866.31 1290.11 L871.78 1291.65 L877.25 1293.17 L882.72 1294.16 L888.19 1295.16 L893.66 1296.15 L899.13 1297.15 L904.6 1297.79 L910.07 1298.42 L915.54 1299.05 L921.01 1299.67 L926.48 1300.16 L931.95 1300.66 L937.42 1301.03 L942.89 1301.41" stroke="#EDA81A" stroke-width="1.4" fill="none" stroke-linejoin="round"/>
<path d="M603.76 1145.06 L609.23 1147.55 L614.7 1150.03 L620.17 1151.57 L625.64 1153.1 L631.11 1154.72 L636.58 1156.33 L642.05 1157.95 L647.52 1159.57 L652.99 1160.07 L658.46 1160.56 L663.93 1161.32 L669.4 1162.09 L674.87 1162.96 L680.34 1163.83 L685.81 1164.2 L691.28 1164.57 L696.75 1164.57 L702.22 1164.5 L707.69 1161.64 L713.16 1158.81 L718.62 1157.81 L724.09 1156.82 L729.56 1156.07 L735.03 1155.33 L740.5 1153.05 L745.97 1150.8 L751.44 1150.18 L756.91 1149.6 L762.38 1152.96 L767.85 1156.31 L773.32 1164.38 L778.79 1172.46 L784.26 1176.34 L789.73 1180.12 L795.2 1181.98 L800.67 1183.85 L806.14 1185.71 L811.61 1187.58 L817.08 1190.06 L822.55 1192.55 L828.02 1196.71 L833.49 1200.9 L838.96 1204.51 L844.43 1208.11 L849.9 1211.72 L855.37 1215.32 L860.84 1218.93 L866.31 1222.53 L871.78 1224.85 L877.25 1227.14 L882.72 1228.88 L888.19 1230.62 L893.66 1233.1 L899.13 1235.59 L904.6 1237.63 L910.07 1239.65 L915.54 1240.89 L921.01 1242.13 L926.48 1243 L931.95 1243.87 L937.42 1244.74 L942.89 1245.61" stroke="#1F3A93" stroke-width="1.4" fill="none" stroke-linejoin="round"/>
<g font-size="4.5" fill="#3a3a3a" stroke="#3a3a3a" stroke-width="0.12"><text x="580" y="1369.33" text-anchor="end">0e+00</text><text x="580" y="1301.28" text-anchor="end">1e+07</text><text x="580" y="1233.49" text-anchor="end">2e+07</text><text x="580" y="1165.44" text-anchor="end">3e+07</text><text x="580" y="1097.4" text-anchor="end">4e+07</text><text x="966" y="1369.33">0</text><text x="966" y="1301.28">1000</text><text x="966" y="1233.49">2000</text><text x="966" y="1165.44">3000</text><text x="966" y="1097.4">4000</text><text x="603.76" y="1387.4" text-anchor="middle">1990</text><text x="713.16" y="1387.4" text-anchor="middle">2000</text><text x="822.55" y="1387.4" text-anchor="middle">2010</text><text x="931.95" y="1387.4" text-anchor="middle">2020</text></g>
<g stroke="#000" stroke-width="0.14">
<text x="772.7" y="1394" font-size="5.6" text-anchor="middle" fill="#000" font-weight="normal">Year</text>
<text transform="translate(564.5 1235) rotate(-90)" font-size="5.6" text-anchor="middle" fill="#000">DALYs Number</text>
<text transform="translate(978.2 1235) rotate(90)" font-size="5.6" text-anchor="middle" fill="#000">Age-standardized DALYs rate per 100,000</text>
<text x="992" y="1207.8" font-size="5.6" fill="#000">Number</text>
<rect x="992.2" y="1211.4" width="8.2" height="7.8999999999999995" fill="#FFA607" stroke="none"/>
<rect x="992.2" y="1220.4" width="8.2" height="7.8999999999999995" fill="#0234A8" stroke="none"/>
<text x="1003.6" y="1217.1" font-size="4.8" fill="#111">Female</text>
<text x="1003.6" y="1226.2" font-size="4.8" fill="#111">Male</text>
<text x="992" y="1245.2" font-size="5.6" fill="#000">Rate</text>
<line x1="993" x2="1000" y1="1253.3" y2="1253.3" stroke="#EDA81A" stroke-width="1.4"/>
<line x1="993" x2="1000" y1="1262.3" y2="1262.3" stroke="#1F3A93" stroke-width="1.4"/>
<text x="1003.6" y="1255" font-size="4.8" fill="#111">Female</text>
<text x="1003.6" y="1264" font-size="4.8" fill="#111">Male</text>
</g>
<text transform="translate(559.79 1126.78) scale(0.7638 1)" font-size="32.56" fill="#000" stroke="#000" stroke-width="0.45" stroke-linejoin="round">K</text></g>
<!-- panel L -->
<g><g stroke="#efefef" stroke-width="0.5" fill="none"><line x1="1080.5" x2="1462.5" y1="1367.96" y2="1367.96"/><line x1="1080.5" x2="1462.5" y1="1331.68" y2="1331.68"/><line x1="1080.5" x2="1462.5" y1="1295.41" y2="1295.41"/><line x1="1080.5" x2="1462.5" y1="1259.14" y2="1259.14"/><line x1="1080.5" x2="1462.5" y1="1222.86" y2="1222.86"/><line x1="1080.5" x2="1462.5" y1="1186.59" y2="1186.59"/><line x1="1080.5" x2="1462.5" y1="1150.32" y2="1150.32"/><line x1="1080.5" x2="1462.5" y1="1114.04" y2="1114.04"/><line x1="1102.76" x2="1102.76" y1="1088" y2="1380"/><line x1="1157.13" x2="1157.13" y1="1088" y2="1380"/><line x1="1211.51" x2="1211.51" y1="1088" y2="1380"/><line x1="1265.88" x2="1265.88" y1="1088" y2="1380"/><line x1="1320.25" x2="1320.25" y1="1088" y2="1380"/><line x1="1374.63" x2="1374.63" y1="1088" y2="1380"/><line x1="1429" x2="1429" y1="1088" y2="1380"/></g>
<path d="M1098.57 1367.96h4.24V1292.16h-4.24zM1109.45 1367.96h4.24V1291.41h-4.24zM1120.32 1367.96h4.24V1291.16h-4.24zM1131.2 1367.96h4.24V1291.41h-4.24zM1142.07 1367.96h4.24V1292.16h-4.24zM1152.95 1367.96h4.24V1293.66h-4.24zM1163.82 1367.96h4.24V1297.16h-4.24zM1174.7 1367.96h4.24V1300.91h-4.24zM1185.57 1367.96h4.24V1304.42h-4.24zM1196.45 1367.96h4.24V1308.17h-4.24zM1207.32 1367.96h4.24V1312.67h-4.24zM1218.2 1367.96h4.24V1318.17h-4.24zM1229.07 1367.96h4.24V1324.43h-4.24zM1239.94 1367.96h4.24V1330.18h-4.24zM1250.82 1367.96h4.24V1334.44h-4.24zM1261.69 1367.96h4.24V1337.19h-4.24zM1272.57 1367.96h4.24V1339.44h-4.24zM1283.44 1367.96h4.24V1340.94h-4.24zM1294.32 1367.96h4.24V1341.19h-4.24zM1305.19 1367.96h4.24V1341.19h-4.24zM1316.07 1367.96h4.24V1341.44h-4.24zM1326.94 1367.96h4.24V1341.44h-4.24zM1337.82 1367.96h4.24V1341.94h-4.24zM1348.69 1367.96h4.24V1341.94h-4.24zM1359.56 1367.96h4.24V1341.44h-4.24zM1370.44 1367.96h4.24V1340.94h-4.24zM1381.31 1367.96h4.24V1340.19h-4.24zM1392.19 1367.96h4.24V1339.69h-4.24zM1403.06 1367.96h4.24V1339.44h-4.24zM1413.94 1367.96h4.24V1338.94h-4.24zM1424.81 1367.96h4.24V1338.44h-4.24zM1435.69 1367.96h4.24V1338.19h-4.24z" fill="#FFA607"/>
<path d="M1103.31 1367.96h3.64V1290.16h-3.64zM1114.18 1367.96h3.64V1288.91h-3.64zM1125.05 1367.96h3.64V1288.91h-3.64zM1135.93 1367.96h3.64V1288.41h-3.64zM1146.8 1367.96h3.64V1289.41h-3.64zM1157.68 1367.96h3.64V1289.16h-3.64zM1168.55 1367.96h3.64V1291.16h-3.64zM1179.43 1367.96h3.64V1293.91h-3.64zM1190.3 1367.96h3.64V1296.41h-3.64zM1201.18 1367.96h3.64V1299.66h-3.64zM1212.05 1367.96h3.64V1303.16h-3.64zM1222.93 1367.96h3.64V1308.42h-3.64zM1233.8 1367.96h3.64V1314.67h-3.64zM1244.67 1367.96h3.64V1320.93h-3.64zM1255.55 1367.96h3.64V1325.68h-3.64zM1266.42 1367.96h3.64V1328.93h-3.64zM1277.3 1367.96h3.64V1331.43h-3.64zM1288.17 1367.96h3.64V1332.68h-3.64zM1299.05 1367.96h3.64V1332.68h-3.64zM1309.92 1367.96h3.64V1332.18h-3.64zM1320.8 1367.96h3.64V1331.93h-3.64zM1331.67 1367.96h3.64V1331.93h-3.64zM1342.55 1367.96h3.64V1331.68h-3.64zM1353.42 1367.96h3.64V1331.43h-3.64zM1364.3 1367.96h3.64V1331.18h-3.64zM1375.17 1367.96h3.64V1330.93h-3.64zM1386.04 1367.96h3.64V1330.18h-3.64zM1396.92 1367.96h3.64V1330.93h-3.64zM1407.79 1367.96h3.64V1331.18h-3.64zM1418.67 1367.96h3.64V1331.18h-3.64zM1429.54 1367.96h3.64V1331.18h-3.64zM1440.42 1367.96h3.64V1331.18h-3.64z" fill="#0234A8"/>
<path d="M1100.7 1271.89V1331.43M1100 1271.89h1.39M1100 1331.43h1.39M1111.57 1271.89V1332.04M1110.88 1271.89h1.39M1110.88 1332.04h1.39M1122.44 1271.39V1332.61M1121.75 1271.39h1.39M1121.75 1332.61h1.39M1133.32 1274.42V1333.12M1132.63 1274.42h1.39M1132.63 1333.12h1.39M1144.19 1276.39V1333.56M1143.5 1276.39h1.39M1143.5 1333.56h1.39M1155.07 1278.17V1333.94M1154.38 1278.17h1.39M1154.38 1333.94h1.39M1165.94 1282.13V1334.22M1165.25 1282.13h1.39M1165.25 1334.22h1.39M1176.82 1288.43V1334.42M1176.12 1288.43h1.39M1176.12 1334.42h1.39M1187.69 1291.39V1334.62M1187 1291.39h1.39M1187 1334.62h1.39M1198.57 1297.19V1334.86M1197.87 1297.19h1.39M1197.87 1334.86h1.39M1209.44 1303.27V1335.19M1208.75 1303.27h1.39M1208.75 1335.19h1.39M1220.32 1310.2V1335.76M1219.62 1310.2h1.39M1219.62 1335.76h1.39M1231.19 1317.27V1336.61M1230.5 1317.27h1.39M1230.5 1336.61h1.39M1242.06 1323.19V1337.69M1241.37 1323.19h1.39M1241.37 1337.69h1.39M1252.94 1329.48V1339.58M1252.25 1329.48h1.39M1252.25 1339.58h1.39M1263.81 1332.19V1341.44M1263.12 1332.19h1.39M1263.12 1341.44h1.39M1274.69 1334.44V1342.56M1274 1334.44h1.39M1274 1342.56h1.39M1285.56 1334.99V1343.59M1284.87 1334.99h1.39M1284.87 1343.59h1.39M1296.44 1335.19V1344.42M1295.74 1335.19h1.39M1295.74 1344.42h1.39M1307.31 1335.19V1344.99M1306.62 1335.19h1.39M1306.62 1344.99h1.39M1318.19 1335.19V1345.19M1317.49 1335.19h1.39M1317.49 1345.19h1.39M1329.06 1335.19V1345.19M1328.37 1335.19h1.39M1328.37 1345.19h1.39M1339.94 1335.19V1345.19M1339.24 1335.19h1.39M1339.24 1345.19h1.39M1350.81 1335.19V1345.19M1350.12 1335.19h1.39M1350.12 1345.19h1.39M1361.69 1335.19V1345.19M1360.99 1335.19h1.39M1360.99 1345.19h1.39M1372.56 1335.19V1345.19M1371.87 1335.19h1.39M1371.87 1345.19h1.39M1383.43 1335.04V1345.19M1382.74 1335.04h1.39M1382.74 1345.19h1.39M1394.31 1334.65V1345.19M1393.62 1334.65h1.39M1393.62 1345.19h1.39M1405.18 1334.04V1345.19M1404.49 1334.04h1.39M1404.49 1345.19h1.39M1416.06 1333.27V1345.19M1415.36 1333.27h1.39M1415.36 1345.19h1.39M1426.93 1332.39V1345.19M1426.24 1332.39h1.39M1426.24 1345.19h1.39M1437.81 1331.44V1345.19M1437.11 1331.44h1.39M1437.11 1345.19h1.39M1105.12 1258.14V1330.18M1104.43 1258.14h1.39M1104.43 1330.18h1.39M1116 1255.13V1330.79M1115.3 1255.13h1.39M1115.3 1330.79h1.39M1126.87 1255.63V1331.35M1126.18 1255.63h1.39M1126.18 1331.35h1.39M1137.75 1255.88V1331.87M1137.05 1255.88h1.39M1137.05 1331.87h1.39M1148.62 1258.14V1332.31M1147.93 1258.14h1.39M1147.93 1332.31h1.39M1159.49 1257.13V1332.69M1158.8 1257.13h1.39M1158.8 1332.69h1.39M1170.37 1261.39V1332.96M1169.68 1261.39h1.39M1169.68 1332.96h1.39M1181.24 1265.14V1333.15M1180.55 1265.14h1.39M1180.55 1333.15h1.39M1192.12 1269.39V1333.34M1191.42 1269.39h1.39M1191.42 1333.34h1.39M1202.99 1275.15V1333.58M1202.3 1275.15h1.39M1202.3 1333.58h1.39M1213.87 1280.9V1333.94M1213.17 1280.9h1.39M1213.17 1333.94h1.39M1224.74 1290.16V1334.84M1224.05 1290.16h1.39M1224.05 1334.84h1.39M1235.62 1300.91V1336.27M1234.92 1300.91h1.39M1234.92 1336.27h1.39M1246.49 1311.42V1337.69M1245.8 1311.42h1.39M1245.8 1337.69h1.39M1257.37 1315.17V1339.14M1256.67 1315.17h1.39M1256.67 1339.14h1.39M1268.24 1316.92V1340.19M1267.55 1316.92h1.39M1267.55 1340.19h1.39M1279.11 1319.43V1340.59M1278.42 1319.43h1.39M1278.42 1340.59h1.39M1289.99 1320.18V1340.88M1289.3 1320.18h1.39M1289.3 1340.88h1.39M1300.86 1319.68V1341.1M1300.17 1319.68h1.39M1300.17 1341.1h1.39M1311.74 1319.68V1341.28M1311.05 1319.68h1.39M1311.05 1341.28h1.39M1322.61 1320.93V1341.44M1321.92 1320.93h1.39M1321.92 1341.44h1.39M1333.49 1321.93V1341.6M1332.79 1321.93h1.39M1332.79 1341.6h1.39M1344.36 1321.93V1341.76M1343.67 1321.93h1.39M1343.67 1341.76h1.39M1355.24 1321.93V1341.92M1354.54 1321.93h1.39M1354.54 1341.92h1.39M1366.11 1321.93V1342.06M1365.42 1321.93h1.39M1365.42 1342.06h1.39M1376.99 1321.43V1342.2M1376.29 1321.43h1.39M1376.29 1342.2h1.39M1387.86 1318.93V1342.33M1387.17 1318.93h1.39M1387.17 1342.33h1.39M1398.74 1320.18V1342.44M1398.04 1320.18h1.39M1398.04 1342.44h1.39M1409.61 1320.18V1342.53M1408.92 1320.18h1.39M1408.92 1342.53h1.39M1420.48 1317.67V1342.6M1419.79 1317.67h1.39M1419.79 1342.6h1.39M1431.36 1317.17V1342.66M1430.67 1317.17h1.39M1430.67 1342.66h1.39M1442.23 1317.67V1342.69M1441.54 1317.67h1.39M1441.54 1342.69h1.39" stroke="#000" stroke-width="1.1" fill="none" opacity="0.55"/>
<path d="M1102.76 1148.81 L1108.2 1150.71 L1113.64 1152.61 L1119.07 1154.46 L1124.51 1156.31 L1129.95 1160.73 L1135.39 1165.15 L1140.82 1169.1 L1146.26 1173.06 L1151.7 1177.23 L1157.13 1181.43 L1162.57 1186.99 L1168.01 1192.55 L1173.45 1201.37 L1178.88 1210.19 L1184.32 1216.37 L1189.76 1222.54 L1195.2 1227.61 L1200.63 1232.69 L1206.07 1239.01 L1211.51 1245.41 L1216.94 1254.06 L1222.38 1262.71 L1227.82 1271.56 L1233.26 1280.37 L1238.69 1287.78 L1244.13 1295.19 L1249.57 1300.24 L1255.01 1305.27 L1260.44 1308.97 L1265.88 1312.68 L1271.32 1315.84 L1276.75 1318.97 L1282.19 1320.82 L1287.63 1322.68 L1293.07 1323.31 L1298.5 1323.95 L1303.94 1324.94 L1309.38 1325.93 L1314.82 1326.56 L1320.25 1327.2 L1325.69 1328.06 L1331.13 1328.93 L1336.57 1329.56 L1342 1330.19 L1347.44 1330.43 L1352.88 1330.68 L1358.31 1331.06 L1363.75 1331.43 L1369.19 1331.43 L1374.63 1331.43 L1380.06 1331.06 L1385.5 1330.69 L1390.94 1331.06 L1396.38 1331.43 L1401.81 1331.43 L1407.25 1331.43 L1412.69 1331.43 L1418.12 1331.43 L1423.56 1331.81 L1429 1332.18 L1434.44 1331.81 L1439.87 1331.44 L1439.87 1345.19 L1434.44 1344.98 L1429 1344.77 L1423.56 1344.56 L1418.12 1344.35 L1412.69 1344.15 L1407.25 1343.94 L1401.81 1343.73 L1396.38 1343.52 L1390.94 1343.31 L1385.5 1343.1 L1380.06 1342.9 L1374.63 1342.68 L1369.19 1342.19 L1363.75 1341.69 L1358.31 1341.19 L1352.88 1340.69 L1347.44 1340.19 L1342 1339.69 L1336.57 1339.19 L1331.13 1338.69 L1325.69 1338.2 L1320.25 1337.7 L1314.82 1337.28 L1309.38 1336.86 L1303.94 1336.44 L1298.5 1336.02 L1293.07 1335.6 L1287.63 1335.18 L1282.19 1333.33 L1276.75 1331.48 L1271.32 1328.96 L1265.88 1326.44 L1260.44 1323.35 L1255.01 1320.26 L1249.57 1317.96 L1244.13 1315.68 L1238.69 1314.44 L1233.26 1313.21 L1227.82 1311.75 L1222.38 1310.29 L1216.94 1308.87 L1211.51 1307.48 L1206.07 1306.09 L1200.63 1304.7 L1195.2 1303.42 L1189.76 1302.28 L1184.32 1301.14 L1178.88 1300.01 L1173.45 1298.87 L1168.01 1297.86 L1162.57 1297.07 L1157.13 1296.28 L1151.7 1295.49 L1146.26 1294.7 L1140.82 1293.91 L1135.39 1293.12 L1129.95 1292.33 L1124.51 1291.54 L1119.07 1290.75 L1113.64 1289.96 L1108.2 1289.18 L1102.76 1288.41z" fill="#FFA500" fill-opacity="0.2"/>
<path d="M1102.76 1102.53 L1108.2 1103.17 L1113.64 1103.85 L1119.07 1106.94 L1124.51 1110.03 L1129.95 1112.94 L1135.39 1115.89 L1140.82 1121.08 L1146.26 1126.27 L1151.7 1128.19 L1157.13 1130.15 L1162.57 1136.08 L1168.01 1142.01 L1173.45 1148.33 L1178.88 1154.66 L1184.32 1161.71 L1189.76 1168.75 L1195.2 1176.96 L1200.63 1185.17 L1206.07 1193.39 L1211.51 1201.69 L1216.94 1212.19 L1222.38 1222.72 L1227.82 1236.63 L1233.26 1250.44 L1238.69 1260.94 L1244.13 1271.41 L1249.57 1274.57 L1255.01 1277.76 L1260.44 1281.83 L1265.88 1285.91 L1271.32 1288.69 L1276.75 1291.46 L1282.19 1293.68 L1287.63 1295.91 L1293.07 1296.79 L1298.5 1297.69 L1303.94 1298.92 L1309.38 1300.16 L1314.82 1301.42 L1320.25 1302.69 L1325.69 1304.17 L1331.13 1305.66 L1336.57 1306.67 L1342 1307.68 L1347.44 1308.3 L1352.88 1308.91 L1358.31 1310.17 L1363.75 1311.42 L1369.19 1311.42 L1374.63 1311.42 L1380.06 1310.8 L1385.5 1310.19 L1390.94 1311.79 L1396.38 1313.4 L1401.81 1313.67 L1407.25 1313.92 L1412.69 1313.3 L1418.12 1312.68 L1423.56 1313.29 L1429 1313.92 L1434.44 1314.54 L1439.87 1315.16 L1439.87 1340.18 L1434.44 1339.76 L1429 1339.35 L1423.56 1338.93 L1418.12 1338.51 L1412.69 1338.1 L1407.25 1337.68 L1401.81 1337.26 L1396.38 1336.85 L1390.94 1336.43 L1385.5 1336.01 L1380.06 1335.6 L1374.63 1335.18 L1369.19 1334.81 L1363.75 1334.43 L1358.31 1334.06 L1352.88 1333.68 L1347.44 1333.31 L1342 1332.94 L1336.57 1332.56 L1331.13 1332.19 L1325.69 1331.81 L1320.25 1331.44 L1314.82 1330.82 L1309.38 1330.19 L1303.94 1329.56 L1298.5 1328.94 L1293.07 1328.31 L1287.63 1327.68 L1282.19 1325.83 L1276.75 1323.97 L1271.32 1322.32 L1265.88 1320.68 L1260.44 1318.95 L1255.01 1317.22 L1249.57 1315.57 L1244.13 1313.93 L1238.69 1313.06 L1233.26 1312.2 L1227.82 1311.36 L1222.38 1310.52 L1216.94 1309.82 L1211.51 1309.22 L1206.07 1308.61 L1200.63 1308.01 L1195.2 1307.46 L1189.76 1307 L1184.32 1306.54 L1178.88 1306.07 L1173.45 1305.61 L1168.01 1305.15 L1162.57 1304.6 L1157.13 1303.97 L1151.7 1303.34 L1146.26 1302.71 L1140.82 1302.08 L1135.39 1301.45 L1129.95 1300.66 L1124.51 1299.86 L1119.07 1299.06 L1113.64 1298.26 L1108.2 1297.46 L1102.76 1296.66z" fill="#0033A0" fill-opacity="0.2"/>
<path d="M1102.76 1193.34 L1108.2 1194.23 L1113.64 1195.14 L1119.07 1197.24 L1124.51 1199.34 L1129.95 1201.62 L1135.39 1203.9 L1140.82 1206.62 L1146.26 1209.34 L1151.7 1212.25 L1157.13 1215.19 L1162.57 1220.13 L1168.01 1225.07 L1173.45 1229.88 L1178.88 1234.68 L1184.32 1239.25 L1189.76 1243.83 L1195.2 1248.88 L1200.63 1253.94 L1206.07 1259.63 L1211.51 1265.34 L1216.94 1271.52 L1222.38 1277.7 L1227.82 1284.66 L1233.26 1291.6 L1238.69 1298.15 L1244.13 1304.69 L1249.57 1309.37 L1255.01 1314.01 L1260.44 1317.47 L1265.88 1320.93 L1271.32 1323.71 L1276.75 1326.47 L1282.19 1328.07 L1287.63 1329.68 L1293.07 1330.19 L1298.5 1330.69 L1303.94 1331.06 L1309.38 1331.43 L1314.82 1331.81 L1320.25 1332.2 L1325.69 1332.81 L1331.13 1333.43 L1336.57 1334.31 L1342 1335.2 L1347.44 1335.81 L1352.88 1336.43 L1358.31 1336.81 L1363.75 1337.19 L1369.19 1337.19 L1374.63 1337.19 L1380.06 1337.19 L1385.5 1337.19 L1390.94 1337.44 L1396.38 1337.68 L1401.81 1337.94 L1407.25 1338.19 L1412.69 1338.56 L1418.12 1338.93 L1423.56 1338.94 L1429 1338.94 L1434.44 1338.94 L1439.87 1338.94" stroke="#EDA81A" stroke-width="1.4" fill="none" stroke-linejoin="round"/>
<path d="M1102.76 1182.09 L1108.2 1182.59 L1113.64 1183.13 L1119.07 1185.11 L1124.51 1187.08 L1129.95 1188.6 L1135.39 1190.14 L1140.82 1192.99 L1146.26 1195.83 L1151.7 1197.35 L1157.13 1198.92 L1162.57 1203.24 L1168.01 1207.57 L1173.45 1211.99 L1178.88 1216.42 L1184.32 1220.74 L1189.76 1225.07 L1195.2 1230.12 L1200.63 1235.17 L1206.07 1240.23 L1211.51 1245.33 L1216.94 1251.5 L1222.38 1257.69 L1227.82 1264.64 L1233.26 1271.59 L1238.69 1278.39 L1244.13 1285.18 L1249.57 1290.24 L1255.01 1295.26 L1260.44 1298.97 L1265.88 1302.67 L1271.32 1306.21 L1276.75 1309.71 L1282.19 1311.44 L1287.63 1313.17 L1293.07 1313.68 L1298.5 1314.18 L1303.94 1314.68 L1309.38 1315.17 L1314.82 1315.68 L1320.25 1316.19 L1325.69 1316.93 L1331.13 1317.67 L1336.57 1318.3 L1342 1318.93 L1347.44 1319.55 L1352.88 1320.17 L1358.31 1320.8 L1363.75 1321.43 L1369.19 1321.68 L1374.63 1321.92 L1380.06 1322.3 L1385.5 1322.69 L1390.94 1323.55 L1396.38 1324.42 L1401.81 1325.18 L1407.25 1325.93 L1412.69 1326.55 L1418.12 1327.17 L1423.56 1327.43 L1429 1327.68 L1434.44 1328.3 L1439.87 1328.92" stroke="#1F3A93" stroke-width="1.4" fill="none" stroke-linejoin="round"/>
<g font-size="4.5" fill="#3a3a3a" stroke="#3a3a3a" stroke-width="0.12"><text x="1079" y="1369.58" text-anchor="end">0</text><text x="1079" y="1297.03" text-anchor="end">2500000</text><text x="1079" y="1224.48" text-anchor="end">5000000</text><text x="1079" y="1151.94" text-anchor="end">7500000</text><text x="1464.5" y="1369.58">0</text><text x="1464.5" y="1297.03">250</text><text x="1464.5" y="1224.48">500</text><text x="1464.5" y="1151.94">750</text><text x="1102.76" y="1387.7" text-anchor="middle">1990</text><text x="1211.51" y="1387.7" text-anchor="middle">2000</text><text x="1320.25" y="1387.7" text-anchor="middle">2010</text><text x="1429" y="1387.7" text-anchor="middle">2020</text></g>
<g stroke="#000" stroke-width="0.14">
<text x="1271.3" y="1394.3" font-size="5.6" text-anchor="middle" fill="#000" font-weight="normal">Year</text>
<text transform="translate(1058.5 1235) rotate(-90)" font-size="5.6" text-anchor="middle" fill="#000">DALYs Number</text>
<text transform="translate(1474.5 1235) rotate(90)" font-size="5.6" text-anchor="middle" fill="#000">Age-standardized DALYs rate per 100,000</text>
<text x="1487.3" y="1208.3" font-size="5.6" fill="#000">Number</text>
<rect x="1487.5" y="1211.9" width="8.2" height="7.8999999999999995" fill="#FFA607" stroke="none"/>
<rect x="1487.5" y="1220.9" width="8.2" height="7.8999999999999995" fill="#0234A8" stroke="none"/>
<text x="1498.9" y="1217.6" font-size="4.8" fill="#111">Female</text>
<text x="1498.9" y="1226.7" font-size="4.8" fill="#111">Male</text>
<text x="1487.3" y="1245.7" font-size="5.6" fill="#000">Rate</text>
<line x1="1488.3" x2="1495.3" y1="1253.8" y2="1253.8" stroke="#EDA81A" stroke-width="1.4"/>
<line x1="1488.3" x2="1495.3" y1="1262.8" y2="1262.8" stroke="#1F3A93" stroke-width="1.4"/>
<text x="1498.9" y="1255.5" font-size="4.8" fill="#111">Female</text>
<text x="1498.9" y="1264.5" font-size="4.8" fill="#111">Male</text>
</g>
<text transform="translate(1066.23 1126.78) scale(0.7835 1)" font-size="32.56" fill="#000" stroke="#000" stroke-width="0.45" stroke-linejoin="round">L</text></g>
</svg>
</body></html>
